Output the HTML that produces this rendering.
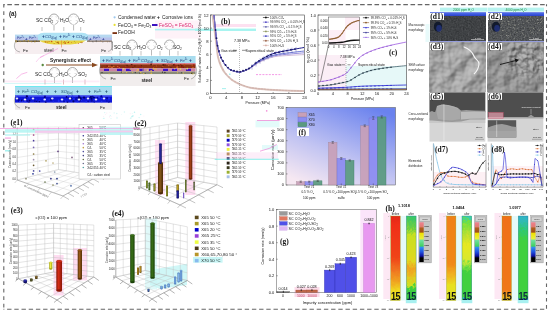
<!DOCTYPE html>
<html><head><meta charset="utf-8"><style>
html,body{margin:0;padding:0;background:#fff;}
body{width:550px;height:313px;overflow:hidden;font-family:"Liberation Sans",sans-serif;}
svg{display:block;filter:blur(0.4px);}
</style></head><body>
<svg width="550" height="313" viewBox="0 0 550 313">
<rect x="0" y="0" width="550" height="313" fill="#fff"/>
<defs><linearGradient id="dbar" x1="0" y1="0" x2="0" y2="1"><stop offset="0" stop-color="#5070f0"/><stop offset="1" stop-color="#2840c8"/></linearGradient><radialGradient id="d4m" cx="0.75" cy="0.3" r="0.6"><stop offset="0" stop-color="#fff" stop-opacity="1"/><stop offset="0.6" stop-color="#fff" stop-opacity="0.7"/><stop offset="1" stop-color="#fff" stop-opacity="0"/></radialGradient><mask id="d4mask"><rect x="487.6" y="42.6" width="55.7" height="48.6" fill="url(#d4m)"/></mask><linearGradient id="cg1" x1="0" x2="1" y1="0" y2="0"><stop offset="0" stop-color="#602008"/><stop offset="0.4" stop-color="#a84418"/><stop offset="1" stop-color="#602008"/></linearGradient><linearGradient id="cg2" x1="0" x2="1" y1="0" y2="0"><stop offset="0" stop-color="#4a2a08"/><stop offset="0.4" stop-color="#8a5a1a"/><stop offset="1" stop-color="#4a2a08"/></linearGradient><linearGradient id="cg3" x1="0" x2="1" y1="0" y2="0"><stop offset="0" stop-color="#10105a"/><stop offset="0.4" stop-color="#2a2aa0"/><stop offset="1" stop-color="#10105a"/></linearGradient><linearGradient id="cg4" x1="0" x2="1" y1="0" y2="0"><stop offset="0" stop-color="#4a5a10"/><stop offset="0.4" stop-color="#8a9a30"/><stop offset="1" stop-color="#4a5a10"/></linearGradient><linearGradient id="cg5" x1="0" x2="1" y1="0" y2="0"><stop offset="0" stop-color="#2a4a10"/><stop offset="0.4" stop-color="#5a7a30"/><stop offset="1" stop-color="#2a4a10"/></linearGradient><linearGradient id="cg6" x1="0" x2="1" y1="0" y2="0"><stop offset="0" stop-color="#5a5a10"/><stop offset="0.4" stop-color="#a0a030"/><stop offset="1" stop-color="#5a5a10"/></linearGradient><linearGradient id="cg7" x1="0" x2="1" y1="0" y2="0"><stop offset="0" stop-color="#5a5a10"/><stop offset="0.4" stop-color="#a0a030"/><stop offset="1" stop-color="#5a5a10"/></linearGradient><linearGradient id="cg8" x1="0" x2="1" y1="0" y2="0"><stop offset="0" stop-color="#6a5a10"/><stop offset="0.4" stop-color="#c0a020"/><stop offset="1" stop-color="#6a5a10"/></linearGradient><linearGradient id="cg9" x1="0" x2="1" y1="0" y2="0"><stop offset="0" stop-color="#101060"/><stop offset="0.4" stop-color="#2020a0"/><stop offset="1" stop-color="#101060"/></linearGradient><linearGradient id="cg10" x1="0" x2="1" y1="0" y2="0"><stop offset="0" stop-color="#3a4a10"/><stop offset="0.4" stop-color="#6a7a30"/><stop offset="1" stop-color="#3a4a10"/></linearGradient><linearGradient id="cg11" x1="0" x2="1" y1="0" y2="0"><stop offset="0" stop-color="#2a3a10"/><stop offset="0.4" stop-color="#4a6a20"/><stop offset="1" stop-color="#2a3a10"/></linearGradient><linearGradient id="cg12" x1="0" x2="1" y1="0" y2="0"><stop offset="0" stop-color="#5040a0"/><stop offset="0.4" stop-color="#8060d0"/><stop offset="1" stop-color="#5040a0"/></linearGradient><linearGradient id="cg13" x1="0" x2="1" y1="0" y2="0"><stop offset="0" stop-color="#8a1808"/><stop offset="0.4" stop-color="#d42a14"/><stop offset="1" stop-color="#8a1808"/></linearGradient><linearGradient id="cg14" x1="0" x2="1" y1="0" y2="0"><stop offset="0" stop-color="#553008"/><stop offset="0.4" stop-color="#9a5a18"/><stop offset="1" stop-color="#553008"/></linearGradient><linearGradient id="cg15" x1="0" x2="1" y1="0" y2="0"><stop offset="0" stop-color="#a0a010"/><stop offset="0.4" stop-color="#f0f040"/><stop offset="1" stop-color="#a0a010"/></linearGradient><linearGradient id="cg16" x1="0" x2="1" y1="0" y2="0"><stop offset="0" stop-color="#101060"/><stop offset="0.4" stop-color="#2a2ab0"/><stop offset="1" stop-color="#101060"/></linearGradient><linearGradient id="cg17" x1="0" x2="1" y1="0" y2="0"><stop offset="0" stop-color="#3a3a10"/><stop offset="0.4" stop-color="#6a6a40"/><stop offset="1" stop-color="#3a3a10"/></linearGradient><linearGradient id="cg18" x1="0" x2="1" y1="0" y2="0"><stop offset="0" stop-color="#4a3a10"/><stop offset="0.4" stop-color="#8a6a30"/><stop offset="1" stop-color="#4a3a10"/></linearGradient><linearGradient id="cg19" x1="0" x2="1" y1="0" y2="0"><stop offset="0" stop-color="#1a4008"/><stop offset="0.4" stop-color="#3a7218"/><stop offset="1" stop-color="#1a4008"/></linearGradient><linearGradient id="cg20" x1="0" x2="1" y1="0" y2="0"><stop offset="0" stop-color="#1a4008"/><stop offset="0.4" stop-color="#3a7218"/><stop offset="1" stop-color="#1a4008"/></linearGradient><linearGradient id="cg21" x1="0" x2="1" y1="0" y2="0"><stop offset="0" stop-color="#6a5010"/><stop offset="0.4" stop-color="#c09020"/><stop offset="1" stop-color="#6a5010"/></linearGradient><linearGradient id="cg22" x1="0" x2="1" y1="0" y2="0"><stop offset="0" stop-color="#6a5010"/><stop offset="0.4" stop-color="#c09020"/><stop offset="1" stop-color="#6a5010"/></linearGradient><linearGradient id="cg23" x1="0" x2="1" y1="0" y2="0"><stop offset="0" stop-color="#4070b0"/><stop offset="0.4" stop-color="#88b8f0"/><stop offset="1" stop-color="#4070b0"/></linearGradient><linearGradient id="cg24" x1="0" x2="1" y1="0" y2="0"><stop offset="0" stop-color="#4070b0"/><stop offset="0.4" stop-color="#88b8f0"/><stop offset="1" stop-color="#4070b0"/></linearGradient><linearGradient id="cg25" x1="0" x2="1" y1="0" y2="0"><stop offset="0" stop-color="#4070b0"/><stop offset="0.4" stop-color="#88b8f0"/><stop offset="1" stop-color="#4070b0"/></linearGradient><linearGradient id="cg26" x1="0" x2="1" y1="0" y2="0"><stop offset="0" stop-color="#4070b0"/><stop offset="0.4" stop-color="#88b8f0"/><stop offset="1" stop-color="#4070b0"/></linearGradient><linearGradient id="cg27" x1="0" x2="1" y1="0" y2="0"><stop offset="0" stop-color="#4070b0"/><stop offset="0.4" stop-color="#88b8f0"/><stop offset="1" stop-color="#4070b0"/></linearGradient><linearGradient id="cg28" x1="0" x2="1" y1="0" y2="0"><stop offset="0" stop-color="#4070b0"/><stop offset="0.4" stop-color="#88b8f0"/><stop offset="1" stop-color="#4070b0"/></linearGradient><linearGradient id="cg29" x1="0" x2="1" y1="0" y2="0"><stop offset="0" stop-color="#203060"/><stop offset="0.4" stop-color="#4070c0"/><stop offset="1" stop-color="#203060"/></linearGradient><linearGradient id="fbg" x1="0.2" y1="1" x2="0.8" y2="0"><stop offset="0" stop-color="#f6e8f2"/><stop offset="0.4" stop-color="#c2c4f2"/><stop offset="1" stop-color="#6a82ee"/></linearGradient><filter id="wig" x="-10%" y="-2%" width="120%" height="104%" color-interpolation-filters="sRGB"><feTurbulence type="fractalNoise" baseFrequency="0.25" numOctaves="2" seed="4" result="n"/><feDisplacementMap in="SourceGraphic" in2="n" scale="5" xChannelSelector="R" yChannelSelector="G"/></filter><filter id="wig2" x="0" y="0" width="100%" height="100%" color-interpolation-filters="sRGB"><feTurbulence type="turbulence" baseFrequency="0.3" numOctaves="2" seed="9" result="n"/><feDisplacementMap in="SourceGraphic" in2="n" scale="10" xChannelSelector="R" yChannelSelector="G"/></filter><clipPath id="hc1"><rect x="390.8" y="216" width="9.4" height="84.5"/></clipPath><linearGradient id="hb0" x1="0" y1="0" x2="0" y2="1"><stop offset="0" stop-color="#e02818"/><stop offset="0.15" stop-color="#f03018"/><stop offset="0.5" stop-color="#f04418"/><stop offset="0.62" stop-color="#f07020"/><stop offset="0.75" stop-color="#f0a020"/><stop offset="0.85" stop-color="#f0d820"/><stop offset="1" stop-color="#e8e828"/></linearGradient><linearGradient id="ha0" x1="0" y1="0" x2="0" y2="1"><stop offset="0" stop-color="#20c0a0"/><stop offset="0.08" stop-color="#40c860"/><stop offset="0.18" stop-color="#70d040"/><stop offset="0.25" stop-color="#c8e020"/><stop offset="0.5" stop-color="#e0d820"/><stop offset="0.58" stop-color="#f0a020"/><stop offset="0.66" stop-color="#e8c020"/><stop offset="0.74" stop-color="#d0e020"/><stop offset="0.78" stop-color="#40d040"/><stop offset="1" stop-color="#30c040"/></linearGradient><clipPath id="hcb0"><rect x="390.8" y="216" width="9.4" height="84.5"/></clipPath><clipPath id="hca0"><rect x="406.3" y="216" width="9.8" height="84.5"/></clipPath><linearGradient id="hcbar0" x1="0" y1="0" x2="0" y2="1"><stop offset="0" stop-color="#f08090"/><stop offset="0.12" stop-color="#e07a70"/><stop offset="0.14" stop-color="#b06020"/><stop offset="0.25" stop-color="#a05018"/><stop offset="0.27" stop-color="#f0e000"/><stop offset="0.42" stop-color="#e8f040"/><stop offset="0.45" stop-color="#70e0a0"/><stop offset="0.6" stop-color="#40d060"/><stop offset="0.63" stop-color="#3090f0"/><stop offset="0.75" stop-color="#2050e0"/><stop offset="0.85" stop-color="#1010a0"/><stop offset="0.9" stop-color="#000"/><stop offset="1" stop-color="#000"/></linearGradient><linearGradient id="hb1" x1="0" y1="0" x2="0" y2="1"><stop offset="0" stop-color="#f08018"/><stop offset="0.55" stop-color="#f08818"/><stop offset="0.68" stop-color="#f0b020"/><stop offset="0.8" stop-color="#e8e020"/><stop offset="1" stop-color="#d8e828"/></linearGradient><linearGradient id="ha1" x1="0" y1="0" x2="0" y2="1"><stop offset="0" stop-color="#30c8e0"/><stop offset="0.07" stop-color="#40d0a0"/><stop offset="0.12" stop-color="#70e040"/><stop offset="0.25" stop-color="#c0e030"/><stop offset="0.35" stop-color="#e8e820"/><stop offset="0.5" stop-color="#d8e830"/><stop offset="0.55" stop-color="#80e040"/><stop offset="0.62" stop-color="#40d040"/><stop offset="0.88" stop-color="#40d040"/><stop offset="0.9" stop-color="#30b0e0"/><stop offset="1" stop-color="#3090e0"/></linearGradient><clipPath id="hcb1"><rect x="446.5" y="216" width="9.4" height="84.5"/></clipPath><clipPath id="hca1"><rect x="462.0" y="216" width="9.8" height="84.5"/></clipPath><linearGradient id="hcbar1" x1="0" y1="0" x2="0" y2="1"><stop offset="0" stop-color="#f08090"/><stop offset="0.12" stop-color="#e07a70"/><stop offset="0.14" stop-color="#b06020"/><stop offset="0.25" stop-color="#a05018"/><stop offset="0.27" stop-color="#f0e000"/><stop offset="0.42" stop-color="#e8f040"/><stop offset="0.45" stop-color="#70e0a0"/><stop offset="0.6" stop-color="#40d060"/><stop offset="0.63" stop-color="#3090f0"/><stop offset="0.75" stop-color="#2050e0"/><stop offset="0.85" stop-color="#1010a0"/><stop offset="0.9" stop-color="#000"/><stop offset="1" stop-color="#000"/></linearGradient><linearGradient id="hb2" x1="0" y1="0" x2="0" y2="1"><stop offset="0" stop-color="#f07018"/><stop offset="0.85" stop-color="#f07818"/><stop offset="0.9" stop-color="#f0a020"/><stop offset="1" stop-color="#e8d820"/></linearGradient><linearGradient id="ha2" x1="0" y1="0" x2="0" y2="1"><stop offset="0" stop-color="#3090e0"/><stop offset="0.08" stop-color="#30b8c0"/><stop offset="0.2" stop-color="#30c870"/><stop offset="0.3" stop-color="#40d040"/><stop offset="0.88" stop-color="#40d040"/><stop offset="0.9" stop-color="#3080e0"/><stop offset="1" stop-color="#2060d0"/></linearGradient><clipPath id="hcb2"><rect x="502.0" y="216" width="9.4" height="84.5"/></clipPath><clipPath id="hca2"><rect x="518.2" y="216" width="9.8" height="84.5"/></clipPath><linearGradient id="hcbar2" x1="0" y1="0" x2="0" y2="1"><stop offset="0" stop-color="#f08090"/><stop offset="0.12" stop-color="#e07a70"/><stop offset="0.14" stop-color="#b06020"/><stop offset="0.25" stop-color="#a05018"/><stop offset="0.27" stop-color="#f0e000"/><stop offset="0.42" stop-color="#e8f040"/><stop offset="0.45" stop-color="#70e0a0"/><stop offset="0.6" stop-color="#40d060"/><stop offset="0.63" stop-color="#3090f0"/><stop offset="0.75" stop-color="#2050e0"/><stop offset="0.85" stop-color="#1010a0"/><stop offset="0.9" stop-color="#000"/><stop offset="1" stop-color="#000"/></linearGradient></defs>
<line x1="3.5" y1="4.6" x2="546.6" y2="4.6" stroke="#666" stroke-width="1.1" stroke-dasharray="4.6 2.6" stroke-dashoffset="3.4"/>
<line x1="3.5" y1="309.3" x2="546.6" y2="309.3" stroke="#666" stroke-width="1.1" stroke-dasharray="4.4 2.8" stroke-dashoffset="3.6"/>
<line x1="3.8" y1="4.2" x2="3.8" y2="309.5" stroke="#666" stroke-width="1.1" stroke-dasharray="3.8 3.7" stroke-dashoffset="0.4"/>
<line x1="546.5" y1="4.2" x2="546.5" y2="309.5" stroke="#666" stroke-width="1.1" stroke-dasharray="3.6 3.6" stroke-dashoffset="1.5"/>
<text x="9" y="16" font-size="6.3" fill="#222" text-anchor="start" font-weight="bold" font-family="Liberation Sans" >(a)</text>
<rect x="155" y="20.5" width="45" height="18" fill="#fef2f8" />
<rect x="155" y="28.8" width="43" height="1.6" fill="#aef2f2" />
<circle cx="114.6" cy="17.3" r="1.1" fill="#9cc8ee"/>
<text x="118" y="18.9" font-size="4.85" fill="#1a1a1a" text-anchor="start" font-weight="normal" font-family="Liberation Sans" >Condensed water</text>
<text x="156.8" y="19.3" font-size="5.5" fill="#222" text-anchor="start" font-weight="bold" font-family="Liberation Sans" >+</text>
<text x="162" y="18.9" font-size="4.85" fill="#1a1a1a" text-anchor="start" font-weight="normal" font-family="Liberation Sans" >Corrosive ions</text>
<circle cx="114.6" cy="24.9" r="1.1" fill="#e8e030"/>
<text x="118" y="26.6" font-size="4.85" fill="#1a1a1a" text-anchor="start" font-weight="normal" font-family="Liberation Sans" >FeCO<tspan font-size='3.2' dy='1'>3</tspan><tspan dy='-1'> = Fe</tspan><tspan font-size='3.2' dy='1'>2</tspan><tspan dy='-1'>O</tspan><tspan font-size='3.2' dy='1'>3</tspan></text>
<rect x="152" y="24" width="5.5" height="2" fill="#3a10c0" />
<text x="159" y="26.6" font-size="4.85" fill="#d8206a" text-anchor="start" font-weight="normal" font-family="Liberation Sans" >FeSO<tspan font-size='3.2' dy='1'>3</tspan><tspan dy='-1'> = FeSO</tspan><tspan font-size='3.2' dy='1'>4</tspan></text>
<rect x="112.5" y="32.2" width="4.5" height="1.8" fill="#7a3010" />
<text x="118" y="34.4" font-size="4.85" fill="#1a1a1a" text-anchor="start" font-weight="normal" font-family="Liberation Sans" >FeOOH</text>
<rect x="15" y="42" width="97" height="12" fill="#f6eef0" />
<rect x="15" y="34.6" width="97" height="6" fill="#b6d8f0" />
<rect x="15" y="37.5" width="25" height="3.1" fill="#b8bce8" opacity="0.8"/>
<rect x="87" y="37.5" width="25" height="3.1" fill="#b8bce8" opacity="0.8"/>
<path d="M38 40.6 L38 35 Q40 32.7 44 32.7 L82 32.7 Q86 32.7 88 35 L88 40.6 Z" fill="#aee2f4"/>
<text x="17" y="39.2" font-size="3.6" fill="#283890" text-anchor="start" font-weight="normal" font-family="Liberation Sans" font-style="italic">Fe<tspan font-size='2.6' dy='-1.5'>2+</tspan></text>
<text x="25" y="39.5" font-size="4.4" fill="#283890" text-anchor="start" font-weight="bold" font-family="Liberation Sans" >+</text>
<text x="29" y="39.2" font-size="3.6" fill="#283890" text-anchor="start" font-weight="normal" font-family="Liberation Sans" font-style="italic">Fe<tspan font-size='2.6' dy='-1.5'>2+</tspan></text>
<text x="42" y="38.099999999999994" font-size="4.8" fill="#1a3a7a" text-anchor="start" font-weight="bold" font-family="Liberation Sans" >+</text>
<text x="45" y="37.8" font-size="4.0" fill="#1a3a7a" text-anchor="start" font-weight="normal" font-family="Liberation Sans" font-style="italic">CO<tspan font-size='2.6' dy='1'>3(aq)</tspan></text>
<text x="59" y="38.099999999999994" font-size="4.8" fill="#1a3a7a" text-anchor="start" font-weight="bold" font-family="Liberation Sans" >+</text>
<text x="63" y="37.8" font-size="4.0" fill="#1a3a7a" text-anchor="start" font-weight="normal" font-family="Liberation Sans" font-style="italic">Fe<tspan font-size='2.6' dy='-1.5'>2+</tspan></text>
<text x="72" y="38.099999999999994" font-size="4.8" fill="#1a3a7a" text-anchor="start" font-weight="bold" font-family="Liberation Sans" >+</text>
<text x="76" y="37.8" font-size="4.0" fill="#1a3a7a" text-anchor="start" font-weight="normal" font-family="Liberation Sans" font-style="italic">CO<tspan font-size='2.6' dy='1'>3(aq)</tspan></text>
<text x="89" y="39.5" font-size="4.4" fill="#283890" text-anchor="start" font-weight="bold" font-family="Liberation Sans" >+</text>
<text x="93" y="39.2" font-size="3.6" fill="#283890" text-anchor="start" font-weight="normal" font-family="Liberation Sans" font-style="italic">Fe<tspan font-size='2.6' dy='-1.5'>2+</tspan></text>
<text x="102" y="39.5" font-size="4.4" fill="#283890" text-anchor="start" font-weight="bold" font-family="Liberation Sans" >+</text>
<rect x="15" y="40.4" width="25" height="1.6" fill="#7a6a50" />
<rect x="87" y="40.4" width="25" height="1.6" fill="#9a8a80" />
<circle cx="34.8" cy="41.7" r="0.53" fill="#8a6a20"/><circle cx="15.9" cy="40.7" r="0.44" fill="#c0a040"/><circle cx="34.0" cy="41.1" r="0.38" fill="#222"/><circle cx="35.0" cy="41.6" r="0.57" fill="#8a6a20"/><circle cx="28.5" cy="40.6" r="0.47" fill="#c0a040"/><circle cx="35.1" cy="40.9" r="0.51" fill="#c0a040"/><circle cx="36.1" cy="41.0" r="0.41" fill="#222"/><circle cx="25.2" cy="40.9" r="0.33" fill="#c0a040"/><circle cx="19.9" cy="41.5" r="0.33" fill="#8a6a20"/><circle cx="16.1" cy="41.9" r="0.57" fill="#c0a040"/><circle cx="27.2" cy="41.7" r="0.45" fill="#222"/><circle cx="31.1" cy="41.5" r="0.59" fill="#c0a040"/><circle cx="15.7" cy="41.0" r="0.43" fill="#c0a040"/><circle cx="23.9" cy="40.7" r="0.56" fill="#c0a040"/><circle cx="28.1" cy="40.7" r="0.38" fill="#c0a040"/><circle cx="33.0" cy="41.1" r="0.34" fill="#222"/><circle cx="20.2" cy="41.8" r="0.46" fill="#c0a040"/><circle cx="19.7" cy="40.8" r="0.40" fill="#c0a040"/><circle cx="37.6" cy="41.4" r="0.41" fill="#8a6a20"/><circle cx="28.2" cy="40.9" r="0.60" fill="#c0a040"/><circle cx="16.3" cy="41.1" r="0.60" fill="#c0a040"/><circle cx="17.4" cy="41.2" r="0.57" fill="#222"/><circle cx="31.8" cy="41.8" r="0.54" fill="#8a6a20"/><circle cx="24.5" cy="40.6" r="0.44" fill="#8a6a20"/>
<path d="M38.6 40.4 L86.3 40.4 Q80 44.6 62 44.6 Q45 44.6 38.6 40.4 Z" fill="#e8d440"/>
<circle cx="55.6" cy="41.2" r="0.33" fill="#c06a10"/><circle cx="64.5" cy="41.8" r="0.66" fill="#c06a10"/><circle cx="51.0" cy="41.0" r="0.33" fill="#d04010"/><circle cx="45.8" cy="42.0" r="0.68" fill="#c06a10"/><circle cx="68.5" cy="42.4" r="0.53" fill="#c06a10"/><circle cx="58.7" cy="43.5" r="0.52" fill="#c06a10"/><circle cx="47.6" cy="42.0" r="0.53" fill="#c06a10"/><circle cx="65.5" cy="42.7" r="0.53" fill="#c06a10"/><circle cx="68.8" cy="41.8" r="0.53" fill="#c06a10"/><circle cx="68.0" cy="42.2" r="0.61" fill="#d04010"/><circle cx="61.6" cy="43.4" r="0.42" fill="#f0f060"/><circle cx="75.4" cy="42.8" r="0.33" fill="#a08010"/><circle cx="54.6" cy="42.2" r="0.59" fill="#f0f060"/><circle cx="54.1" cy="43.5" r="0.50" fill="#c06a10"/><circle cx="48.9" cy="41.8" r="0.47" fill="#d04010"/><circle cx="82.4" cy="41.0" r="0.44" fill="#f0f060"/><circle cx="56.7" cy="42.2" r="0.33" fill="#d04010"/><circle cx="45.9" cy="41.6" r="0.32" fill="#c06a10"/><circle cx="71.5" cy="42.6" r="0.41" fill="#d04010"/><circle cx="58.2" cy="42.7" r="0.68" fill="#c06a10"/><circle cx="56.9" cy="42.5" r="0.32" fill="#d04010"/><circle cx="74.3" cy="41.2" r="0.46" fill="#a08010"/><circle cx="80.5" cy="42.2" r="0.48" fill="#a08010"/><circle cx="65.1" cy="43.3" r="0.65" fill="#d04010"/><circle cx="53.7" cy="42.0" r="0.57" fill="#f0f060"/><circle cx="58.0" cy="41.4" r="0.37" fill="#c06a10"/><circle cx="51.7" cy="41.5" r="0.63" fill="#d04010"/><circle cx="49.7" cy="41.6" r="0.47" fill="#a08010"/><circle cx="57.5" cy="42.4" r="0.58" fill="#a08010"/><circle cx="63.7" cy="42.5" r="0.48" fill="#c06a10"/><circle cx="78.6" cy="43.5" r="0.46" fill="#d04010"/><circle cx="58.6" cy="42.1" r="0.32" fill="#d04010"/><circle cx="44.8" cy="41.4" r="0.34" fill="#a08010"/><circle cx="67.2" cy="41.1" r="0.51" fill="#a08010"/><circle cx="81.9" cy="42.5" r="0.65" fill="#c06a10"/><circle cx="67.8" cy="41.2" r="0.68" fill="#f0f060"/>
<circle cx="93.2" cy="41.9" r="0.36" fill="#555"/><circle cx="89.0" cy="40.7" r="0.42" fill="#555"/><circle cx="88.7" cy="41.2" r="0.45" fill="#b08a60"/><circle cx="92.4" cy="41.7" r="0.45" fill="#555"/><circle cx="105.5" cy="41.6" r="0.44" fill="#b08a60"/><circle cx="109.0" cy="41.6" r="0.33" fill="#b08a60"/><circle cx="106.7" cy="41.1" r="0.33" fill="#b08a60"/><circle cx="89.3" cy="40.9" r="0.45" fill="#555"/><circle cx="102.9" cy="41.9" r="0.48" fill="#555"/><circle cx="100.4" cy="40.6" r="0.34" fill="#555"/><circle cx="107.8" cy="41.2" r="0.39" fill="#b08a60"/><circle cx="96.2" cy="41.8" r="0.35" fill="#555"/><circle cx="101.8" cy="41.3" r="0.51" fill="#b08a60"/><circle cx="109.8" cy="41.8" r="0.39" fill="#555"/><circle cx="96.2" cy="40.9" r="0.54" fill="#555"/><circle cx="107.7" cy="41.9" r="0.40" fill="#555"/>
<line x1="61.5" y1="40.5" x2="61.5" y2="47.5" stroke="#e07030" stroke-width="0.5" />
<path d="M16 41 C13 45, 14 51, 20 52" stroke="#777" stroke-width="0.5" fill="none"/>
<path d="M111 41 C114 45, 113 50, 108 51.5" stroke="#777" stroke-width="0.5" fill="none"/>
<text x="36" y="21.8" font-size="4.9" fill="#1a1a1a" text-anchor="start" font-weight="normal" font-family="Liberation Sans" >SC CO<tspan font-size='3.2' dy='1'>2</tspan></text>
<text x="60" y="21.8" font-size="4.9" fill="#1a1a1a" text-anchor="start" font-weight="normal" font-family="Liberation Sans" >H<tspan font-size='3.2' dy='1'>2</tspan><tspan dy='-1'>O</tspan></text>
<text x="79" y="21.8" font-size="4.9" fill="#1a1a1a" text-anchor="start" font-weight="normal" font-family="Liberation Sans" >O<tspan font-size='3.2' dy='1'>2</tspan></text>
<path d="M49.0 19.5 A5.0 5.5 0 0 1 59.0 19.5" stroke="#8c8c8c" stroke-width="0.75" fill="none"/>
<path d="M49.6 20.8 A5.0 5.5 0 0 0 53.0 24.5 M55.0 24.5 A5.0 5.5 0 0 0 58.4 20.8" stroke="#8c8c8c" stroke-width="0.6" fill="none"/>
<path d="M50.7 16.4 L51.5 17.3 L52.3 16.4" stroke="#aaa" stroke-width="0.4" fill="none"/>
<path d="M55.7 16.4 L56.5 17.3 L57.3 16.4" stroke="#aaa" stroke-width="0.4" fill="none"/>
<path d="M50.2 20.1 L51.0 21.0 L51.8 20.1" stroke="#aaa" stroke-width="0.4" fill="none"/>
<path d="M56.2 20.1 L57.0 21.0 L57.8 20.1" stroke="#aaa" stroke-width="0.4" fill="none"/>
<path d="M54 24.5 L54 30.5" stroke="#8c8c8c" stroke-width="0.6" fill="none"/>
<path d="M68.3 19.5 A5.2 5.5 0 0 1 78.8 19.5" stroke="#8c8c8c" stroke-width="0.75" fill="none"/>
<path d="M68.9 20.8 A5.2 5.5 0 0 0 72.6 24.5 M74.6 24.5 A5.2 5.5 0 0 0 78.2 20.8" stroke="#8c8c8c" stroke-width="0.6" fill="none"/>
<path d="M70.3 16.4 L71.1 17.3 L71.9 16.4" stroke="#aaa" stroke-width="0.4" fill="none"/>
<path d="M75.3 16.4 L76.1 17.3 L76.9 16.4" stroke="#aaa" stroke-width="0.4" fill="none"/>
<path d="M69.8 20.1 L70.6 21.0 L71.4 20.1" stroke="#aaa" stroke-width="0.4" fill="none"/>
<path d="M75.8 20.1 L76.6 21.0 L77.4 20.1" stroke="#aaa" stroke-width="0.4" fill="none"/>
<path d="M73.6 24.5 L73.6 30.5" stroke="#8c8c8c" stroke-width="0.6" fill="none"/>
<line x1="42" y1="27" x2="42" y2="31" stroke="#aaa" stroke-width="0.7" />
<line x1="63.8" y1="27" x2="63.8" y2="31" stroke="#aaa" stroke-width="0.7" />
<line x1="80.7" y1="27" x2="80.7" y2="31" stroke="#aaa" stroke-width="0.7" />
<text x="23" y="52.4" font-size="4.4" fill="#1a1a1a" text-anchor="start" font-weight="normal" font-family="Liberation Sans" >Fe</text>
<text x="44" y="52.4" font-size="4.5" fill="#222" text-anchor="start" font-weight="normal" font-family="Liberation Sans" >steel</text>
<text x="61.5" y="52.4" font-size="4.4" fill="#1a1a1a" text-anchor="start" font-weight="normal" font-family="Liberation Sans" >Fe</text>
<text x="101.2" y="52.4" font-size="4.4" fill="#1a1a1a" text-anchor="start" font-weight="normal" font-family="Liberation Sans" >Fe</text>
<rect x="100" y="56" width="95.6" height="7.8" fill="#a8dcee" />
<text x="102" y="62.099999999999994" font-size="4.8" fill="#1a3a7a" text-anchor="start" font-weight="bold" font-family="Liberation Sans" >+</text>
<text x="106" y="61.8" font-size="4.0" fill="#1a3a7a" text-anchor="start" font-weight="normal" font-family="Liberation Sans" font-style="italic">Fe<tspan font-size='2.6' dy='-1.5'>2+</tspan></text>
<text x="114" y="61.8" font-size="4.0" fill="#1a3a7a" text-anchor="start" font-weight="normal" font-family="Liberation Sans" font-style="italic">CO<tspan font-size='2.6' dy='1'>3(aq)</tspan></text>
<text x="128" y="62.099999999999994" font-size="4.8" fill="#1a3a7a" text-anchor="start" font-weight="bold" font-family="Liberation Sans" >+</text>
<text x="133" y="61.8" font-size="4.0" fill="#1a3a7a" text-anchor="start" font-weight="normal" font-family="Liberation Sans" font-style="italic">Fe<tspan font-size='2.6' dy='-1.5'>2+</tspan></text>
<text x="141" y="61.8" font-size="4.0" fill="#1a3a7a" text-anchor="start" font-weight="normal" font-family="Liberation Sans" font-style="italic">CO<tspan font-size='2.6' dy='1'>3(aq)</tspan></text>
<text x="156" y="62.099999999999994" font-size="4.8" fill="#1a3a7a" text-anchor="start" font-weight="bold" font-family="Liberation Sans" >+</text>
<text x="161" y="61.8" font-size="4.0" fill="#1a3a7a" text-anchor="start" font-weight="normal" font-family="Liberation Sans" font-style="italic">SO<tspan font-size='2.6' dy='1'>3(aq)</tspan></text>
<text x="175" y="62.099999999999994" font-size="4.8" fill="#1a3a7a" text-anchor="start" font-weight="bold" font-family="Liberation Sans" >+</text>
<text x="180" y="61.8" font-size="4.0" fill="#1a3a7a" text-anchor="start" font-weight="normal" font-family="Liberation Sans" font-style="italic">Fe<tspan font-size='2.6' dy='-1.5'>2+</tspan></text>
<text x="189" y="62.099999999999994" font-size="4.8" fill="#1a3a7a" text-anchor="start" font-weight="bold" font-family="Liberation Sans" >+</text>
<rect x="100" y="63.4" width="95.6" height="1.0" fill="#f04050" />
<rect x="100" y="64.3" width="95.6" height="4.0" fill="#8a3412" />
<circle cx="154.7" cy="66.0" r="0.50" fill="#c05018"/><circle cx="177.5" cy="67.4" r="0.42" fill="#5a1a08"/><circle cx="147.1" cy="64.8" r="0.42" fill="#e07030"/><circle cx="181.9" cy="66.6" r="0.61" fill="#a02010"/><circle cx="178.7" cy="65.4" r="0.74" fill="#5a1a08"/><circle cx="163.2" cy="65.0" r="0.88" fill="#5a1a08"/><circle cx="158.7" cy="64.7" r="0.52" fill="#c05018"/><circle cx="119.3" cy="67.7" r="0.79" fill="#e07030"/><circle cx="123.6" cy="66.8" r="0.62" fill="#a02010"/><circle cx="107.1" cy="66.5" r="0.82" fill="#5a1a08"/><circle cx="192.2" cy="65.3" r="0.65" fill="#c05018"/><circle cx="177.9" cy="66.8" r="0.47" fill="#c05018"/><circle cx="154.3" cy="65.8" r="0.46" fill="#5a1a08"/><circle cx="173.9" cy="64.8" r="0.89" fill="#5a1a08"/><circle cx="118.9" cy="65.7" r="0.62" fill="#a02010"/><circle cx="165.0" cy="65.0" r="0.83" fill="#5a1a08"/><circle cx="126.1" cy="65.6" r="0.79" fill="#5a1a08"/><circle cx="146.1" cy="65.7" r="0.51" fill="#a02010"/><circle cx="152.2" cy="64.7" r="0.52" fill="#e07030"/><circle cx="125.6" cy="65.9" r="0.60" fill="#5a1a08"/><circle cx="182.7" cy="66.9" r="0.77" fill="#5a1a08"/><circle cx="194.3" cy="65.5" r="0.70" fill="#a02010"/><circle cx="106.9" cy="66.2" r="0.85" fill="#a02010"/><circle cx="113.8" cy="66.4" r="0.67" fill="#e07030"/><circle cx="147.1" cy="65.1" r="0.45" fill="#a02010"/><circle cx="192.6" cy="67.4" r="0.62" fill="#c05018"/><circle cx="107.1" cy="65.7" r="0.45" fill="#5a1a08"/><circle cx="143.7" cy="68.0" r="0.47" fill="#a02010"/><circle cx="182.0" cy="67.2" r="0.57" fill="#a02010"/><circle cx="125.4" cy="67.3" r="0.61" fill="#a02010"/><circle cx="162.1" cy="67.7" r="0.77" fill="#5a1a08"/><circle cx="131.4" cy="64.6" r="0.72" fill="#5a1a08"/><circle cx="156.3" cy="67.4" r="0.41" fill="#a02010"/><circle cx="111.9" cy="65.5" r="0.76" fill="#5a1a08"/><circle cx="184.5" cy="64.7" r="0.89" fill="#c05018"/><circle cx="127.8" cy="66.8" r="0.58" fill="#5a1a08"/><circle cx="138.7" cy="67.3" r="0.49" fill="#e07030"/><circle cx="156.6" cy="66.0" r="0.74" fill="#c05018"/><circle cx="130.0" cy="67.9" r="0.62" fill="#a02010"/><circle cx="170.9" cy="65.2" r="0.46" fill="#e07030"/><circle cx="174.6" cy="64.5" r="0.70" fill="#a02010"/><circle cx="183.2" cy="67.5" r="0.44" fill="#5a1a08"/><circle cx="140.8" cy="64.8" r="0.57" fill="#c05018"/><circle cx="134.9" cy="66.0" r="0.71" fill="#5a1a08"/><circle cx="127.6" cy="66.9" r="0.65" fill="#a02010"/><circle cx="125.8" cy="66.0" r="0.57" fill="#e07030"/><circle cx="127.0" cy="67.7" r="0.69" fill="#a02010"/><circle cx="108.9" cy="66.4" r="0.80" fill="#e07030"/><circle cx="139.1" cy="67.3" r="0.76" fill="#a02010"/><circle cx="107.2" cy="67.5" r="0.41" fill="#e07030"/><circle cx="131.8" cy="65.6" r="0.71" fill="#a02010"/><circle cx="127.5" cy="65.2" r="0.55" fill="#5a1a08"/><circle cx="153.3" cy="67.4" r="0.51" fill="#c05018"/><circle cx="171.0" cy="67.8" r="0.68" fill="#5a1a08"/><circle cx="193.5" cy="67.7" r="0.60" fill="#c05018"/><circle cx="132.9" cy="67.6" r="0.66" fill="#5a1a08"/><circle cx="177.1" cy="67.2" r="0.84" fill="#e07030"/><circle cx="162.8" cy="66.5" r="0.68" fill="#c05018"/><circle cx="181.8" cy="65.9" r="0.79" fill="#5a1a08"/><circle cx="112.0" cy="67.3" r="0.90" fill="#e07030"/><circle cx="103.9" cy="67.7" r="0.44" fill="#e07030"/><circle cx="142.3" cy="67.6" r="0.47" fill="#c05018"/><circle cx="182.4" cy="67.0" r="0.76" fill="#a02010"/><circle cx="193.7" cy="65.1" r="0.81" fill="#a02010"/><circle cx="133.3" cy="66.5" r="0.59" fill="#a02010"/><circle cx="110.1" cy="66.7" r="0.87" fill="#c05018"/><circle cx="118.6" cy="66.7" r="0.89" fill="#a02010"/><circle cx="175.6" cy="65.8" r="0.88" fill="#a02010"/><circle cx="157.9" cy="65.1" r="0.42" fill="#5a1a08"/><circle cx="117.6" cy="66.7" r="0.82" fill="#e07030"/><circle cx="129.4" cy="67.5" r="0.70" fill="#a02010"/><circle cx="141.3" cy="65.7" r="0.65" fill="#5a1a08"/><circle cx="116.8" cy="67.3" r="0.87" fill="#a02010"/><circle cx="131.9" cy="64.6" r="0.69" fill="#5a1a08"/><circle cx="140.5" cy="66.3" r="0.88" fill="#a02010"/><circle cx="138.3" cy="67.3" r="0.45" fill="#5a1a08"/><circle cx="168.8" cy="65.6" r="0.67" fill="#e07030"/><circle cx="180.8" cy="64.8" r="0.70" fill="#a02010"/><circle cx="151.1" cy="64.5" r="0.88" fill="#5a1a08"/><circle cx="137.3" cy="65.3" r="0.45" fill="#a02010"/>
<rect x="100" y="68.2" width="95.6" height="3.4" fill="#cc84a0" />
<rect x="100" y="71.5" width="95.6" height="2.8" fill="#8a8a78" />
<rect x="100" y="74.2" width="95.6" height="11.8" fill="#f1eded" />
<rect x="104" y="68.8" width="5" height="2.2" fill="#4212c8" />
<rect x="117" y="68.8" width="5" height="2.2" fill="#4212c8" />
<rect x="126" y="68.8" width="5" height="2.2" fill="#4212c8" />
<rect x="139" y="68.8" width="5" height="2.2" fill="#4212c8" />
<rect x="149" y="68.8" width="5" height="2.2" fill="#4212c8" />
<rect x="163" y="68.8" width="5" height="2.2" fill="#4212c8" />
<rect x="172" y="68.8" width="5" height="2.2" fill="#4212c8" />
<rect x="186" y="68.8" width="5" height="2.2" fill="#4212c8" />
<circle cx="143.1" cy="70.1" r="0.74" fill="#e0e060"/><circle cx="180.5" cy="69.1" r="0.79" fill="#e0e060"/><circle cx="174.7" cy="68.8" r="0.64" fill="#e0e060"/><circle cx="151.1" cy="70.9" r="0.78" fill="#f0c040"/><circle cx="137.8" cy="69.8" r="0.79" fill="#f0c040"/><circle cx="178.3" cy="68.8" r="0.66" fill="#f0c040"/><circle cx="123.5" cy="68.7" r="0.70" fill="#e0e060"/><circle cx="156.0" cy="69.1" r="0.79" fill="#f0c040"/><circle cx="147.5" cy="70.3" r="0.80" fill="#e0e060"/><circle cx="138.8" cy="70.0" r="0.81" fill="#f0c040"/><circle cx="130.3" cy="69.2" r="0.61" fill="#e0e060"/><circle cx="153.4" cy="68.9" r="0.85" fill="#f0c040"/><circle cx="136.9" cy="71.1" r="0.66" fill="#f0c040"/><circle cx="187.2" cy="68.7" r="0.89" fill="#e0e060"/>
<circle cx="145.1" cy="73.2" r="0.54" fill="#333"/><circle cx="102.0" cy="72.6" r="0.69" fill="#333"/><circle cx="143.8" cy="73.6" r="0.67" fill="#e0c040"/><circle cx="162.5" cy="72.2" r="0.61" fill="#333"/><circle cx="132.6" cy="72.3" r="0.52" fill="#e0c040"/><circle cx="164.9" cy="72.6" r="0.74" fill="#333"/><circle cx="109.1" cy="73.7" r="0.53" fill="#e0c040"/><circle cx="192.8" cy="73.8" r="0.70" fill="#e0c040"/><circle cx="191.3" cy="73.0" r="0.79" fill="#e0c040"/><circle cx="183.4" cy="73.0" r="0.62" fill="#e0c040"/><circle cx="140.0" cy="73.1" r="0.68" fill="#333"/><circle cx="151.3" cy="73.2" r="0.79" fill="#e0c040"/><circle cx="191.8" cy="73.2" r="0.78" fill="#333"/><circle cx="181.6" cy="72.7" r="0.53" fill="#333"/><circle cx="122.9" cy="72.6" r="0.51" fill="#e0c040"/><circle cx="177.5" cy="72.8" r="0.57" fill="#e0c040"/><circle cx="140.7" cy="72.7" r="0.73" fill="#e0c040"/><circle cx="121.5" cy="72.1" r="0.51" fill="#333"/><circle cx="126.7" cy="72.6" r="0.65" fill="#e0c040"/><circle cx="135.3" cy="72.6" r="0.64" fill="#333"/>
<path d="M113 42 L112 42 L112 50 L113 50" stroke="#333" stroke-width="0.5" fill="none"/>
<text x="114" y="48.6" font-size="4.9" fill="#1a1a1a" text-anchor="start" font-weight="normal" font-family="Liberation Sans" >SC CO<tspan font-size='3.2' dy='1'>2</tspan></text>
<text x="137" y="48.6" font-size="4.9" fill="#1a1a1a" text-anchor="start" font-weight="normal" font-family="Liberation Sans" >H<tspan font-size='3.2' dy='1'>2</tspan><tspan dy='-1'>O</tspan></text>
<text x="157" y="48.6" font-size="4.9" fill="#1a1a1a" text-anchor="start" font-weight="normal" font-family="Liberation Sans" >O<tspan font-size='3.2' dy='1'>2</tspan></text>
<text x="173" y="48.6" font-size="4.9" fill="#1a1a1a" text-anchor="start" font-weight="normal" font-family="Liberation Sans" >SO<tspan font-size='3.2' dy='1'>2</tspan></text>
<path d="M127.0 45.0 A5.0 5.0 0 0 1 137.0 45.0" stroke="#8c8c8c" stroke-width="0.75" fill="none"/>
<path d="M127.6 46.3 A5.0 5.0 0 0 0 131.0 49.5 M133.0 49.5 A5.0 5.0 0 0 0 136.4 46.3" stroke="#8c8c8c" stroke-width="0.6" fill="none"/>
<path d="M128.7 41.9 L129.5 42.8 L130.3 41.9" stroke="#aaa" stroke-width="0.4" fill="none"/>
<path d="M133.7 41.9 L134.5 42.8 L135.3 41.9" stroke="#aaa" stroke-width="0.4" fill="none"/>
<path d="M128.2 45.6 L129.0 46.5 L129.8 45.6" stroke="#aaa" stroke-width="0.4" fill="none"/>
<path d="M134.2 45.6 L135.0 46.5 L135.8 45.6" stroke="#aaa" stroke-width="0.4" fill="none"/>
<path d="M132 49.5 L132 55.5" stroke="#8c8c8c" stroke-width="0.6" fill="none"/>
<path d="M146.5 45.0 A5.0 5.0 0 0 1 156.5 45.0" stroke="#8c8c8c" stroke-width="0.75" fill="none"/>
<path d="M147.1 46.3 A5.0 5.0 0 0 0 150.5 49.5 M152.5 49.5 A5.0 5.0 0 0 0 155.9 46.3" stroke="#8c8c8c" stroke-width="0.6" fill="none"/>
<path d="M148.2 41.9 L149.0 42.8 L149.8 41.9" stroke="#aaa" stroke-width="0.4" fill="none"/>
<path d="M153.2 41.9 L154.0 42.8 L154.8 41.9" stroke="#aaa" stroke-width="0.4" fill="none"/>
<path d="M147.7 45.6 L148.5 46.5 L149.3 45.6" stroke="#aaa" stroke-width="0.4" fill="none"/>
<path d="M153.7 45.6 L154.5 46.5 L155.3 45.6" stroke="#aaa" stroke-width="0.4" fill="none"/>
<path d="M151.5 49.5 L151.5 55.5" stroke="#8c8c8c" stroke-width="0.6" fill="none"/>
<path d="M164.5 45.0 A5.0 5.0 0 0 1 174.5 45.0" stroke="#8c8c8c" stroke-width="0.75" fill="none"/>
<path d="M165.1 46.3 A5.0 5.0 0 0 0 168.5 49.5 M170.5 49.5 A5.0 5.0 0 0 0 173.9 46.3" stroke="#8c8c8c" stroke-width="0.6" fill="none"/>
<path d="M166.2 41.9 L167.0 42.8 L167.8 41.9" stroke="#aaa" stroke-width="0.4" fill="none"/>
<path d="M171.2 41.9 L172.0 42.8 L172.8 41.9" stroke="#aaa" stroke-width="0.4" fill="none"/>
<path d="M165.7 45.6 L166.5 46.5 L167.3 45.6" stroke="#aaa" stroke-width="0.4" fill="none"/>
<path d="M171.7 45.6 L172.5 46.5 L173.3 45.6" stroke="#aaa" stroke-width="0.4" fill="none"/>
<path d="M169.5 49.5 L169.5 55.5" stroke="#8c8c8c" stroke-width="0.6" fill="none"/>
<line x1="120" y1="51" x2="120" y2="55.5" stroke="#aaa" stroke-width="0.7" />
<line x1="141" y1="51" x2="141" y2="55.5" stroke="#aaa" stroke-width="0.7" />
<line x1="160" y1="51" x2="160" y2="55.5" stroke="#aaa" stroke-width="0.7" />
<line x1="178" y1="51" x2="178" y2="55.5" stroke="#aaa" stroke-width="0.7" />
<path d="M101 65 C98 70, 99 77, 106 79" stroke="#777" stroke-width="0.5" fill="none"/>
<path d="M195 65 C198 70, 197 77, 191 79" stroke="#777" stroke-width="0.5" fill="none"/>
<text x="110.5" y="79.8" font-size="4.4" fill="#1a1a1a" text-anchor="start" font-weight="normal" font-family="Liberation Sans" >Fe</text>
<text x="141.5" y="82.2" font-size="4.6" fill="#1a1a1a" text-anchor="start" font-weight="bold" font-family="Liberation Sans" >steel</text>
<text x="184" y="79.8" font-size="4.4" fill="#1a1a1a" text-anchor="start" font-weight="normal" font-family="Liberation Sans" >Fe</text>
<text x="50" y="62.3" font-size="4.9" fill="#1a1a1a" text-anchor="start" font-weight="bold" font-family="Liberation Sans" >Synergistic effect</text>
<line x1="46" y1="65" x2="93" y2="65" stroke="#8a4a20" stroke-width="1.0" />
<path d="M92 62.8 L98 65 L92 67.2 Z" fill="#8a4a20"/>
<circle cx="42.7" cy="65" r="1.2" fill="#5a8a40"/>
<rect x="15" y="86" width="97" height="9.6" fill="#a8dcee" />
<rect x="15" y="86" width="97" height="1" fill="#70e8f0" />
<text x="17" y="93.3" font-size="4.8" fill="#1a4a6a" text-anchor="start" font-weight="bold" font-family="Liberation Sans" >+</text>
<text x="22" y="93" font-size="4.0" fill="#1a4a6a" text-anchor="start" font-weight="normal" font-family="Liberation Sans" font-style="italic">Fe<tspan font-size='2.6' dy='-1.5'>2+</tspan></text>
<text x="31" y="93" font-size="4.0" fill="#1a4a6a" text-anchor="start" font-weight="normal" font-family="Liberation Sans" font-style="italic">CO<tspan font-size='2.6' dy='1'>3(aq)</tspan></text>
<text x="46" y="93.3" font-size="4.8" fill="#1a4a6a" text-anchor="start" font-weight="bold" font-family="Liberation Sans" >+</text>
<text x="54" y="93.3" font-size="4.8" fill="#1a4a6a" text-anchor="start" font-weight="bold" font-family="Liberation Sans" >+</text>
<text x="61" y="93" font-size="4.0" fill="#1a4a6a" text-anchor="start" font-weight="normal" font-family="Liberation Sans" font-style="italic">SO<tspan font-size='2.6' dy='1'>3(aq)</tspan></text>
<text x="76" y="93.3" font-size="4.8" fill="#1a4a6a" text-anchor="start" font-weight="bold" font-family="Liberation Sans" >+</text>
<text x="88" y="93.3" font-size="4.8" fill="#1a4a6a" text-anchor="start" font-weight="bold" font-family="Liberation Sans" >+</text>
<text x="94" y="93" font-size="4.0" fill="#1a4a6a" text-anchor="start" font-weight="normal" font-family="Liberation Sans" font-style="italic">Fe<tspan font-size='2.6' dy='-1.5'>2+</tspan></text>
<text x="105" y="93.3" font-size="4.8" fill="#1a4a6a" text-anchor="start" font-weight="bold" font-family="Liberation Sans" >+</text>
<rect x="15" y="95.5" width="97" height="7.3" fill="#1018d8" />
<rect x="15" y="95.5" width="97" height="1.4" fill="#3a48f0" />
<circle cx="26.1" cy="100.6" r="0.92" fill="#000070"/><circle cx="39.5" cy="100.8" r="1.04" fill="#2030f0"/><circle cx="78.6" cy="98.0" r="1.12" fill="#000070"/><circle cx="53.4" cy="101.9" r="0.73" fill="#2030f0"/><circle cx="101.6" cy="98.3" r="0.82" fill="#2030f0"/><circle cx="76.1" cy="99.4" r="0.93" fill="#0808a0"/><circle cx="79.1" cy="97.1" r="0.64" fill="#000070"/><circle cx="72.5" cy="96.2" r="0.72" fill="#2030f0"/><circle cx="108.9" cy="98.6" r="1.14" fill="#2030f0"/><circle cx="25.0" cy="100.2" r="0.95" fill="#0808a0"/><circle cx="76.6" cy="98.4" r="1.05" fill="#0808a0"/><circle cx="62.2" cy="100.4" r="0.87" fill="#2030f0"/><circle cx="36.7" cy="101.2" r="0.75" fill="#000070"/><circle cx="27.5" cy="102.5" r="0.77" fill="#2030f0"/><circle cx="18.7" cy="100.8" r="1.01" fill="#0808a0"/><circle cx="71.7" cy="98.8" r="0.70" fill="#000070"/><circle cx="52.7" cy="98.0" r="0.86" fill="#2030f0"/><circle cx="72.6" cy="96.6" r="0.84" fill="#2030f0"/><circle cx="58.7" cy="100.0" r="0.64" fill="#2030f0"/><circle cx="29.6" cy="100.6" r="0.86" fill="#000070"/><circle cx="94.4" cy="98.6" r="0.61" fill="#2030f0"/><circle cx="83.4" cy="98.4" r="0.76" fill="#2030f0"/><circle cx="44.7" cy="97.2" r="0.94" fill="#000070"/><circle cx="91.8" cy="96.6" r="0.62" fill="#0808a0"/><circle cx="45.7" cy="102.4" r="0.90" fill="#000070"/><circle cx="65.5" cy="101.2" r="0.67" fill="#2030f0"/><circle cx="106.9" cy="101.0" r="0.74" fill="#0808a0"/><circle cx="98.9" cy="97.7" r="0.72" fill="#0808a0"/><circle cx="80.6" cy="98.2" r="1.06" fill="#000070"/><circle cx="51.0" cy="99.6" r="1.04" fill="#000070"/><circle cx="90.8" cy="97.0" r="1.10" fill="#000070"/><circle cx="50.8" cy="98.5" r="0.93" fill="#2030f0"/><circle cx="89.5" cy="98.0" r="0.62" fill="#000070"/><circle cx="77.1" cy="98.8" r="0.65" fill="#2030f0"/><circle cx="92.7" cy="96.8" r="1.02" fill="#0808a0"/><circle cx="29.4" cy="97.7" r="0.68" fill="#2030f0"/><circle cx="101.2" cy="96.3" r="0.75" fill="#0808a0"/><circle cx="51.0" cy="98.8" r="0.87" fill="#0808a0"/><circle cx="24.6" cy="101.3" r="0.69" fill="#0808a0"/><circle cx="79.5" cy="97.4" r="1.12" fill="#000070"/><circle cx="93.9" cy="102.5" r="0.99" fill="#000070"/><circle cx="68.9" cy="96.3" r="0.88" fill="#2030f0"/><circle cx="107.1" cy="98.1" r="1.12" fill="#0808a0"/><circle cx="21.9" cy="100.4" r="0.93" fill="#000070"/><circle cx="25.2" cy="101.6" r="1.10" fill="#2030f0"/><circle cx="26.9" cy="96.3" r="1.16" fill="#000070"/><circle cx="22.5" cy="101.2" r="0.63" fill="#2030f0"/><circle cx="109.5" cy="101.8" r="0.60" fill="#0808a0"/><circle cx="58.7" cy="101.1" r="1.03" fill="#2030f0"/><circle cx="17.9" cy="96.5" r="0.75" fill="#2030f0"/><circle cx="80.7" cy="100.2" r="0.93" fill="#0808a0"/><circle cx="91.7" cy="100.7" r="1.16" fill="#0808a0"/><circle cx="101.6" cy="101.6" r="0.83" fill="#2030f0"/><circle cx="43.9" cy="100.7" r="0.62" fill="#2030f0"/><circle cx="29.0" cy="102.2" r="0.79" fill="#000070"/><circle cx="36.5" cy="99.8" r="0.62" fill="#2030f0"/><circle cx="77.4" cy="102.5" r="0.95" fill="#2030f0"/><circle cx="91.5" cy="98.7" r="1.06" fill="#000070"/><circle cx="108.7" cy="102.3" r="0.83" fill="#0808a0"/><circle cx="84.0" cy="97.6" r="1.18" fill="#000070"/><circle cx="88.2" cy="101.4" r="0.75" fill="#0808a0"/><circle cx="97.7" cy="97.6" r="0.87" fill="#0808a0"/><circle cx="78.9" cy="96.3" r="1.01" fill="#0808a0"/><circle cx="81.2" cy="100.2" r="0.88" fill="#2030f0"/><circle cx="101.4" cy="96.4" r="1.02" fill="#0808a0"/><circle cx="33.4" cy="98.4" r="0.72" fill="#000070"/><circle cx="26.2" cy="98.4" r="1.05" fill="#0808a0"/><circle cx="49.1" cy="99.2" r="0.63" fill="#2030f0"/><circle cx="73.9" cy="99.0" r="0.89" fill="#2030f0"/><circle cx="45.0" cy="96.3" r="0.91" fill="#0808a0"/><circle cx="80.8" cy="99.2" r="0.78" fill="#000070"/><circle cx="79.7" cy="100.8" r="1.08" fill="#0808a0"/><circle cx="18.3" cy="99.3" r="1.20" fill="#0808a0"/><circle cx="99.2" cy="97.5" r="1.11" fill="#2030f0"/><circle cx="72.1" cy="101.4" r="0.71" fill="#2030f0"/><circle cx="39.4" cy="101.6" r="0.81" fill="#000070"/><circle cx="93.7" cy="102.5" r="0.67" fill="#2030f0"/><circle cx="19.8" cy="101.7" r="0.70" fill="#2030f0"/><circle cx="34.9" cy="101.2" r="0.91" fill="#0808a0"/><circle cx="86.2" cy="102.1" r="0.96" fill="#2030f0"/><circle cx="26.7" cy="101.0" r="1.19" fill="#2030f0"/><circle cx="73.4" cy="101.3" r="1.09" fill="#000070"/><circle cx="94.0" cy="97.6" r="0.93" fill="#000070"/><circle cx="67.5" cy="102.4" r="0.83" fill="#000070"/><circle cx="66.6" cy="96.9" r="0.89" fill="#000070"/><circle cx="27.3" cy="101.0" r="1.12" fill="#0808a0"/><circle cx="71.3" cy="97.5" r="0.68" fill="#0808a0"/><circle cx="68.8" cy="98.1" r="0.64" fill="#000070"/><circle cx="79.3" cy="102.3" r="0.67" fill="#2030f0"/><circle cx="64.0" cy="101.5" r="0.87" fill="#0808a0"/>
<ellipse cx="17" cy="98.6" rx="1.3" ry="1.0" fill="#e4e8fa"/>
<ellipse cx="25" cy="99.6" rx="1.3" ry="1.0" fill="#e4e8fa"/>
<ellipse cx="33" cy="98.6" rx="1.3" ry="1.0" fill="#e4e8fa"/>
<ellipse cx="44.7" cy="99.6" rx="1.3" ry="1.0" fill="#e4e8fa"/>
<ellipse cx="52.3" cy="98.6" rx="1.3" ry="1.0" fill="#e4e8fa"/>
<ellipse cx="62" cy="99.6" rx="1.3" ry="1.0" fill="#e4e8fa"/>
<ellipse cx="70" cy="98.6" rx="1.3" ry="1.0" fill="#e4e8fa"/>
<ellipse cx="79" cy="99.6" rx="1.3" ry="1.0" fill="#e4e8fa"/>
<ellipse cx="88" cy="98.6" rx="1.3" ry="1.0" fill="#e4e8fa"/>
<ellipse cx="96" cy="99.6" rx="1.3" ry="1.0" fill="#e4e8fa"/>
<ellipse cx="104" cy="98.6" rx="1.3" ry="1.0" fill="#e4e8fa"/>
<rect x="15" y="102.8" width="97" height="7" fill="#eeeaea" />
<text x="35" y="75.5" font-size="4.9" fill="#1a1a1a" text-anchor="start" font-weight="normal" font-family="Liberation Sans" >SC CO<tspan font-size='3.2' dy='1'>2</tspan></text>
<text x="59" y="75.5" font-size="4.9" fill="#1a1a1a" text-anchor="start" font-weight="normal" font-family="Liberation Sans" >H<tspan font-size='3.2' dy='1'>2</tspan><tspan dy='-1'>O</tspan></text>
<text x="78" y="75.5" font-size="4.9" fill="#1a1a1a" text-anchor="start" font-weight="normal" font-family="Liberation Sans" >SO<tspan font-size='3.2' dy='1'>2</tspan></text>
<path d="M49.5 72.5 A5.0 5.0 0 0 1 59.5 72.5" stroke="#8c8c8c" stroke-width="0.75" fill="none"/>
<path d="M50.1 73.8 A5.0 5.0 0 0 0 53.5 77.0 M55.5 77.0 A5.0 5.0 0 0 0 58.9 73.8" stroke="#8c8c8c" stroke-width="0.6" fill="none"/>
<path d="M51.2 69.4 L52.0 70.3 L52.8 69.4" stroke="#aaa" stroke-width="0.4" fill="none"/>
<path d="M56.2 69.4 L57.0 70.3 L57.8 69.4" stroke="#aaa" stroke-width="0.4" fill="none"/>
<path d="M50.7 73.1 L51.5 74.0 L52.3 73.1" stroke="#aaa" stroke-width="0.4" fill="none"/>
<path d="M56.7 73.1 L57.5 74.0 L58.3 73.1" stroke="#aaa" stroke-width="0.4" fill="none"/>
<path d="M54.5 77.0 L54.5 83.0" stroke="#8c8c8c" stroke-width="0.6" fill="none"/>
<path d="M67.5 72.5 A5.0 5.0 0 0 1 77.5 72.5" stroke="#8c8c8c" stroke-width="0.75" fill="none"/>
<path d="M68.1 73.8 A5.0 5.0 0 0 0 71.5 77.0 M73.5 77.0 A5.0 5.0 0 0 0 76.9 73.8" stroke="#8c8c8c" stroke-width="0.6" fill="none"/>
<path d="M69.2 69.4 L70.0 70.3 L70.8 69.4" stroke="#aaa" stroke-width="0.4" fill="none"/>
<path d="M74.2 69.4 L75.0 70.3 L75.8 69.4" stroke="#aaa" stroke-width="0.4" fill="none"/>
<path d="M68.7 73.1 L69.5 74.0 L70.3 73.1" stroke="#aaa" stroke-width="0.4" fill="none"/>
<path d="M74.7 73.1 L75.5 74.0 L76.3 73.1" stroke="#aaa" stroke-width="0.4" fill="none"/>
<path d="M72.5 77.0 L72.5 83.0" stroke="#8c8c8c" stroke-width="0.6" fill="none"/>
<line x1="45" y1="79.5" x2="45" y2="84.5" stroke="#d0a0a8" stroke-width="0.7" />
<line x1="63.5" y1="79.5" x2="63.5" y2="84.5" stroke="#d0a0a8" stroke-width="0.7" />
<line x1="85" y1="79.5" x2="85" y2="84.5" stroke="#d0a0a8" stroke-width="0.7" />
<path d="M16 96 C13 100, 14 106, 20 108" stroke="#777" stroke-width="0.5" fill="none"/>
<text x="25" y="108.8" font-size="4.4" fill="#1a1a1a" text-anchor="start" font-weight="normal" font-family="Liberation Sans" >Fe</text>
<text x="56" y="109" font-size="4.6" fill="#1a1a1a" text-anchor="start" font-weight="bold" font-family="Liberation Sans" >steel</text>
<text x="100" y="108.8" font-size="4.4" fill="#1a1a1a" text-anchor="start" font-weight="normal" font-family="Liberation Sans" >Fe</text>
<rect x="215" y="24" width="41" height="3" fill="#fde0f0" />
<rect x="195" y="28.6" width="61" height="2.4" fill="#a8f4f0" />
<rect x="210.5" y="15" width="94.0" height="78.5" fill="none" stroke="#444" stroke-width="0.6"/>
<line x1="210.5" y1="15.0" x2="212.0" y2="15.0" stroke="#444" stroke-width="0.5" />
<text x="208.5" y="16.5" font-size="4.2" fill="#111" text-anchor="end" font-weight="normal" font-family="Liberation Sans" >12</text>
<line x1="210.5" y1="28.083333333333336" x2="212.0" y2="28.083333333333336" stroke="#444" stroke-width="0.5" />
<text x="208.5" y="29.583333333333336" font-size="4.2" fill="#111" text-anchor="end" font-weight="normal" font-family="Liberation Sans" >10</text>
<line x1="210.5" y1="41.16666666666667" x2="212.0" y2="41.16666666666667" stroke="#444" stroke-width="0.5" />
<text x="208.5" y="42.66666666666667" font-size="4.2" fill="#111" text-anchor="end" font-weight="normal" font-family="Liberation Sans" >8</text>
<line x1="210.5" y1="54.25" x2="212.0" y2="54.25" stroke="#444" stroke-width="0.5" />
<text x="208.5" y="55.75" font-size="4.2" fill="#111" text-anchor="end" font-weight="normal" font-family="Liberation Sans" >6</text>
<line x1="210.5" y1="67.33333333333334" x2="212.0" y2="67.33333333333334" stroke="#444" stroke-width="0.5" />
<text x="208.5" y="68.83333333333334" font-size="4.2" fill="#111" text-anchor="end" font-weight="normal" font-family="Liberation Sans" >4</text>
<line x1="210.5" y1="80.41666666666667" x2="212.0" y2="80.41666666666667" stroke="#444" stroke-width="0.5" />
<text x="208.5" y="81.91666666666667" font-size="4.2" fill="#111" text-anchor="end" font-weight="normal" font-family="Liberation Sans" >2</text>
<line x1="210.5" y1="93.5" x2="212.0" y2="93.5" stroke="#444" stroke-width="0.5" />
<text x="208.5" y="95.0" font-size="4.2" fill="#111" text-anchor="end" font-weight="normal" font-family="Liberation Sans" >0</text>
<line x1="210.5" y1="93.5" x2="210.5" y2="92.0" stroke="#444" stroke-width="0.5" />
<text x="210.5" y="99.0" font-size="4.2" fill="#111" text-anchor="middle" font-weight="normal" font-family="Liberation Sans" >0</text>
<line x1="226.16666666666666" y1="93.5" x2="226.16666666666666" y2="92.0" stroke="#444" stroke-width="0.5" />
<text x="226.16666666666666" y="99.0" font-size="4.2" fill="#111" text-anchor="middle" font-weight="normal" font-family="Liberation Sans" >4</text>
<line x1="241.83333333333334" y1="93.5" x2="241.83333333333334" y2="92.0" stroke="#444" stroke-width="0.5" />
<text x="241.83333333333334" y="99.0" font-size="4.2" fill="#111" text-anchor="middle" font-weight="normal" font-family="Liberation Sans" >8</text>
<line x1="257.5" y1="93.5" x2="257.5" y2="92.0" stroke="#444" stroke-width="0.5" />
<text x="257.5" y="99.0" font-size="4.2" fill="#111" text-anchor="middle" font-weight="normal" font-family="Liberation Sans" >12</text>
<line x1="273.1666666666667" y1="93.5" x2="273.1666666666667" y2="92.0" stroke="#444" stroke-width="0.5" />
<text x="273.1666666666667" y="99.0" font-size="4.2" fill="#111" text-anchor="middle" font-weight="normal" font-family="Liberation Sans" >16</text>
<line x1="288.8333333333333" y1="93.5" x2="288.8333333333333" y2="92.0" stroke="#444" stroke-width="0.5" />
<text x="288.8333333333333" y="99.0" font-size="4.2" fill="#111" text-anchor="middle" font-weight="normal" font-family="Liberation Sans" >20</text>
<line x1="304.5" y1="93.5" x2="304.5" y2="92.0" stroke="#444" stroke-width="0.5" />
<text x="304.5" y="99.0" font-size="4.2" fill="#111" text-anchor="middle" font-weight="normal" font-family="Liberation Sans" >24</text>
<text x="257.8" y="103.6" font-size="3.5" fill="#111" text-anchor="middle" font-weight="normal" font-family="Liberation Sans" >Pressure (MPa)</text>
<text x="0" y="0" font-size="4.2" fill="#222" font-family="Liberation Sans" text-anchor="middle" transform="translate(200.8,48.5) rotate(-90)" textLength="69" lengthAdjust="spacingAndGlyphs">Solubility of water in CO<tspan font-size='70%' dy='0.8'>2</tspan><tspan dy='-0.8'>​</tspan>/H<tspan font-size='70%' dy='0.8'>2</tspan><tspan dy='-0.8'>​</tspan>S × 1000 (mol %)</text>
<text x="221" y="24" font-size="7.5" fill="#111" text-anchor="start" font-weight="bold" font-family="Liberation Serif" >(b)</text>
<path d="M212.50,15.00 C212.83,17.50 213.83,25.00 214.50,30.00 C215.17,35.00 215.92,40.50 216.50,45.00 C217.08,49.50 217.25,53.50 218.00,57.00 C218.75,60.50 219.83,63.33 221.00,66.00 C222.17,68.67 223.22,70.72 225.00,73.00 C226.78,75.28 229.20,77.82 231.70,79.70 C234.20,81.58 236.88,82.97 240.00,84.30 C243.12,85.63 246.13,86.85 250.40,87.70 C254.67,88.55 259.83,88.93 265.60,89.40 C271.37,89.87 278.60,90.23 285.00,90.50 C291.40,90.77 300.83,90.92 304.00,91.00" stroke="#e0cac4" stroke-width="2.0" fill="none" />
<path d="M212.50,15.00 C212.83,17.50 213.83,25.00 214.50,30.00 C215.17,35.00 215.92,40.50 216.50,45.00 C217.08,49.50 217.25,53.50 218.00,57.00 C218.75,60.50 219.83,63.33 221.00,66.00 C222.17,68.67 223.22,70.72 225.00,73.00 C226.78,75.28 229.20,77.82 231.70,79.70 C234.20,81.58 236.88,82.97 240.00,84.30 C243.12,85.63 246.13,86.85 250.40,87.70 C254.67,88.55 259.83,88.93 265.60,89.40 C271.37,89.87 278.60,90.23 285.00,90.50 C291.40,90.77 300.83,90.92 304.00,91.00" stroke="#c8a8a0" stroke-width="0.5" fill="none" />
<circle cx="214.0" cy="26.2" r="0.7" fill="#d0b0a8"/>
<circle cx="217.0" cy="49.0" r="0.7" fill="#d0b0a8"/>
<circle cx="220.0" cy="63.0" r="0.7" fill="#d0b0a8"/>
<circle cx="223.0" cy="69.5" r="0.7" fill="#d0b0a8"/>
<circle cx="226.0" cy="74.0" r="0.7" fill="#d0b0a8"/>
<circle cx="229.0" cy="77.0" r="0.7" fill="#d0b0a8"/>
<circle cx="232.0" cy="79.9" r="0.7" fill="#d0b0a8"/>
<circle cx="235.0" cy="81.5" r="0.7" fill="#d0b0a8"/>
<circle cx="238.0" cy="83.2" r="0.7" fill="#d0b0a8"/>
<circle cx="241.0" cy="84.6" r="0.7" fill="#d0b0a8"/>
<circle cx="244.0" cy="85.6" r="0.7" fill="#d0b0a8"/>
<circle cx="247.0" cy="86.6" r="0.7" fill="#d0b0a8"/>
<circle cx="250.0" cy="87.6" r="0.7" fill="#d0b0a8"/>
<circle cx="253.0" cy="88.0" r="0.7" fill="#d0b0a8"/>
<circle cx="256.0" cy="88.3" r="0.7" fill="#d0b0a8"/>
<circle cx="259.0" cy="88.7" r="0.7" fill="#d0b0a8"/>
<circle cx="262.0" cy="89.0" r="0.7" fill="#d0b0a8"/>
<circle cx="265.0" cy="89.3" r="0.7" fill="#d0b0a8"/>
<circle cx="268.0" cy="89.5" r="0.7" fill="#d0b0a8"/>
<circle cx="271.0" cy="89.7" r="0.7" fill="#d0b0a8"/>
<circle cx="274.0" cy="89.9" r="0.7" fill="#d0b0a8"/>
<circle cx="277.0" cy="90.0" r="0.7" fill="#d0b0a8"/>
<circle cx="280.0" cy="90.2" r="0.7" fill="#d0b0a8"/>
<circle cx="283.0" cy="90.4" r="0.7" fill="#d0b0a8"/>
<circle cx="286.0" cy="90.5" r="0.7" fill="#d0b0a8"/>
<circle cx="289.0" cy="90.6" r="0.7" fill="#d0b0a8"/>
<circle cx="292.0" cy="90.7" r="0.7" fill="#d0b0a8"/>
<circle cx="295.0" cy="90.8" r="0.7" fill="#d0b0a8"/>
<circle cx="298.0" cy="90.8" r="0.7" fill="#d0b0a8"/>
<circle cx="301.0" cy="90.9" r="0.7" fill="#d0b0a8"/>
<path d="M214.00,15.00 C214.25,17.50 214.95,25.00 215.50,30.00 C216.05,35.00 216.43,40.50 217.30,45.00 C218.17,49.50 219.42,53.75 220.70,57.00 C221.98,60.25 223.45,62.40 225.00,64.50 C226.55,66.60 227.60,68.35 230.00,69.60 C232.40,70.85 236.28,72.15 239.40,72.00 C242.52,71.85 245.73,70.37 248.70,68.70 C251.67,67.03 254.38,63.95 257.20,62.00 C260.02,60.05 262.63,58.50 265.60,57.00 C268.57,55.50 270.93,54.17 275.00,53.00 C279.07,51.83 285.17,50.92 290.00,50.00 C294.83,49.08 301.67,47.92 304.00,47.50" stroke="#1a1a8a" stroke-width="1.0" fill="none" />
<path d="M214.00,15.00 C214.25,17.50 214.95,25.00 215.50,30.00 C216.05,35.00 216.43,40.50 217.30,45.00 C218.17,49.50 219.42,53.75 220.70,57.00 C221.98,60.25 223.45,62.40 225.00,64.50 C226.55,66.60 227.60,68.35 230.00,69.60 C232.40,70.85 236.28,72.09 239.40,72.00 C242.52,71.91 245.73,70.52 248.70,69.03 C251.67,67.55 254.38,64.79 257.20,63.10 C260.02,61.40 262.63,60.09 265.60,58.85 C268.57,57.62 270.93,56.50 275.00,55.70 C279.07,54.90 285.17,54.53 290.00,54.05 C294.83,53.57 301.67,53.02 304.00,52.81" stroke="#6a60d0" stroke-width="0.7" fill="none" />
<path d="M214.00,15.00 C214.25,17.50 214.95,25.00 215.50,30.00 C216.05,35.00 216.43,40.50 217.30,45.00 C218.17,49.50 219.42,53.75 220.70,57.00 C221.98,60.25 223.45,62.40 225.00,64.50 C226.55,66.60 227.60,68.35 230.00,69.60 C232.40,70.85 236.28,72.11 239.40,72.00 C242.52,71.89 245.73,70.47 248.70,68.92 C251.67,67.38 254.38,64.51 257.20,62.73 C260.02,60.95 262.63,59.56 265.60,58.24 C268.57,56.91 270.93,55.72 275.00,54.80 C279.07,53.88 285.17,53.33 290.00,52.70 C294.83,52.07 301.67,51.32 304.00,51.04" stroke="#3040c0" stroke-width="0.7" fill="none" />
<path d="M214.00,15.00 C214.25,17.50 214.95,25.00 215.50,30.00 C216.05,35.00 216.43,40.50 217.30,45.00 C218.17,49.50 219.42,53.75 220.70,57.00 C221.98,60.25 223.45,62.40 225.00,64.50 C226.55,66.60 227.60,68.35 230.00,69.60 C232.40,70.85 236.28,72.08 239.40,72.00 C242.52,71.92 245.73,70.57 248.70,69.14 C251.67,67.72 254.38,65.08 257.20,63.46 C260.02,61.85 262.63,60.62 265.60,59.47 C268.57,58.33 270.93,57.28 275.00,56.60 C279.07,55.92 285.17,55.74 290.00,55.40 C294.83,55.06 301.67,54.72 304.00,54.58" stroke="#b090c0" stroke-width="0.6" fill="none" />
<circle cx="215.5" cy="30.0" r="0.95" fill="#141460"/>
<circle cx="216.5" cy="38.3" r="0.95" fill="#141460"/>
<circle cx="217.5" cy="45.7" r="0.95" fill="#141460"/>
<circle cx="219.0" cy="51.0" r="0.95" fill="#141460"/>
<circle cx="221.0" cy="57.5" r="0.95" fill="#141460"/>
<circle cx="223.0" cy="61.0" r="0.95" fill="#141460"/>
<circle cx="225.5" cy="65.0" r="0.95" fill="#141460"/>
<circle cx="228.0" cy="67.6" r="0.95" fill="#141460"/>
<circle cx="231.0" cy="69.9" r="0.95" fill="#141460"/>
<circle cx="234.0" cy="70.6" r="0.95" fill="#141460"/>
<circle cx="237.0" cy="71.4" r="0.95" fill="#141460"/>
<circle cx="240.0" cy="71.8" r="0.95" fill="#141460"/>
<circle cx="243.0" cy="70.7" r="0.95" fill="#141460"/>
<circle cx="246.0" cy="69.7" r="0.95" fill="#141460"/>
<circle cx="249.0" cy="68.5" r="0.95" fill="#141460"/>
<circle cx="252.0" cy="66.1" r="0.95" fill="#141460"/>
<circle cx="255.5" cy="63.3" r="0.95" fill="#141460"/>
<circle cx="259.0" cy="60.9" r="0.95" fill="#141460"/>
<circle cx="263.0" cy="58.5" r="0.95" fill="#141460"/>
<circle cx="267.0" cy="56.4" r="0.95" fill="#141460"/>
<circle cx="271.0" cy="54.7" r="0.95" fill="#141460"/>
<circle cx="275.0" cy="53.0" r="0.95" fill="#141460"/>
<circle cx="279.0" cy="52.2" r="0.95" fill="#141460"/>
<circle cx="283.0" cy="51.4" r="0.95" fill="#141460"/>
<circle cx="287.0" cy="50.6" r="0.95" fill="#141460"/>
<circle cx="291.0" cy="49.8" r="0.95" fill="#141460"/>
<circle cx="295.0" cy="49.1" r="0.95" fill="#141460"/>
<line x1="252" y1="64.09882352971778" x2="252" y2="69.59882352971778" stroke="#5050b0" stroke-width="0.4" />
<line x1="256" y1="60.945882353618124" x2="256" y2="66.44588235361812" stroke="#5050b0" stroke-width="0.4" />
<line x1="260" y1="58.33333333353175" x2="260" y2="63.83333333353175" stroke="#5050b0" stroke-width="0.4" />
<line x1="264" y1="55.952380952862825" x2="264" y2="61.452380952862825" stroke="#5050b0" stroke-width="0.4" />
<line x1="268" y1="53.978723404363976" x2="268" y2="59.478723404363976" stroke="#5050b0" stroke-width="0.4" />
<line x1="272" y1="52.27659574497058" x2="272" y2="57.77659574497058" stroke="#5050b0" stroke-width="0.4" />
<line x1="276" y1="50.800000000013334" x2="276" y2="56.300000000013334" stroke="#5050b0" stroke-width="0.4" />
<line x1="280" y1="50.00000000006666" x2="280" y2="55.50000000006666" stroke="#5050b0" stroke-width="0.4" />
<line x1="284" y1="49.20000000012" x2="284" y2="54.70000000012" stroke="#5050b0" stroke-width="0.4" />
<line x1="288" y1="48.400000000173335" x2="288" y2="53.900000000173335" stroke="#5050b0" stroke-width="0.4" />
<line x1="292" y1="47.642857142882654" x2="292" y2="53.142857142882654" stroke="#5050b0" stroke-width="0.4" />
<line x1="296" y1="46.928571428647956" x2="296" y2="52.428571428647956" stroke="#5050b0" stroke-width="0.4" />
<line x1="239.5" y1="43" x2="239.5" y2="93.5" stroke="#777" stroke-width="0.5" stroke-dasharray="1 1"/>
<text x="234" y="42.2" font-size="3.6" fill="#111" text-anchor="start" font-weight="normal" font-family="Liberation Sans" >7.38 MPa</text>
<text x="221" y="51.5" font-size="3.6" fill="#111" text-anchor="start" font-weight="normal" font-family="Liberation Sans" >Gas state</text>
<path d="M233 50.3 L237 50.3 M242 50.3 L246 50.3" stroke="#222" stroke-width="0.5"/>
<text x="245.5" y="51.5" font-size="3.6" fill="#111" text-anchor="start" font-weight="normal" font-family="Liberation Sans" >Supercritical state</text>
<line x1="262.9" y1="17.5" x2="268.9" y2="17.5" stroke="#111" stroke-width="0.6" />
<circle cx="265.9" cy="17.5" r="0.9" fill="#111"/>
<text x="270.1" y="18.6" font-size="3.0" fill="#2a2a2a" text-anchor="start" font-weight="normal" font-family="Liberation Sans" >100% CO<tspan font-size='70%' dy='0.8'>2</tspan><tspan dy='-0.8'>​</tspan></text>
<line x1="262.9" y1="22.15" x2="268.9" y2="22.15" stroke="#5b50c8" stroke-width="0.6" />
<circle cx="265.9" cy="22.15" r="0.9" fill="#5b50c8"/>
<text x="270.1" y="23.25" font-size="3.0" fill="#2a2a2a" text-anchor="start" font-weight="normal" font-family="Liberation Sans" >99.99% CO<tspan font-size='70%' dy='0.8'>2</tspan><tspan dy='-0.8'>​</tspan> + 0.01% H<tspan font-size='70%' dy='0.8'>2</tspan><tspan dy='-0.8'>​</tspan>S</text>
<line x1="262.9" y1="26.8" x2="268.9" y2="26.8" stroke="#6a6ab0" stroke-width="0.6" />
<circle cx="265.9" cy="26.8" r="0.9" fill="#6a6ab0"/>
<text x="270.1" y="27.900000000000002" font-size="3.0" fill="#2a2a2a" text-anchor="start" font-weight="normal" font-family="Liberation Sans" >99.9% CO<tspan font-size='70%' dy='0.8'>2</tspan><tspan dy='-0.8'>​</tspan> + 0.1% H<tspan font-size='70%' dy='0.8'>2</tspan><tspan dy='-0.8'>​</tspan>S</text>
<line x1="262.9" y1="31.450000000000003" x2="268.9" y2="31.450000000000003" stroke="#909860" stroke-width="0.6" />
<circle cx="265.9" cy="31.450000000000003" r="0.9" fill="#909860"/>
<text x="270.1" y="32.550000000000004" font-size="3.0" fill="#2a2a2a" text-anchor="start" font-weight="normal" font-family="Liberation Sans" >99% CO<tspan font-size='70%' dy='0.8'>2</tspan><tspan dy='-0.8'>​</tspan> + 1% H<tspan font-size='70%' dy='0.8'>2</tspan><tspan dy='-0.8'>​</tspan>S</text>
<line x1="262.9" y1="36.1" x2="268.9" y2="36.1" stroke="#4848c0" stroke-width="0.6" />
<circle cx="265.9" cy="36.1" r="0.9" fill="#4848c0"/>
<text x="270.1" y="37.2" font-size="3.0" fill="#2a2a2a" text-anchor="start" font-weight="normal" font-family="Liberation Sans" >95% CO<tspan font-size='70%' dy='0.8'>2</tspan><tspan dy='-0.8'>​</tspan> + 5% H<tspan font-size='70%' dy='0.8'>2</tspan><tspan dy='-0.8'>​</tspan>S</text>
<line x1="262.9" y1="40.75" x2="268.9" y2="40.75" stroke="#a06a50" stroke-width="0.6" />
<circle cx="265.9" cy="40.75" r="0.9" fill="#a06a50"/>
<text x="270.1" y="41.85" font-size="3.0" fill="#2a2a2a" text-anchor="start" font-weight="normal" font-family="Liberation Sans" >90% CO<tspan font-size='70%' dy='0.8'>2</tspan><tspan dy='-0.8'>​</tspan> + 10% H<tspan font-size='70%' dy='0.8'>2</tspan><tspan dy='-0.8'>​</tspan>S</text>
<line x1="262.9" y1="45.400000000000006" x2="268.9" y2="45.400000000000006" stroke="#d8b0a8" stroke-width="0.6" />
<circle cx="265.9" cy="45.400000000000006" r="0.9" fill="#d8b0a8"/>
<text x="270.1" y="46.50000000000001" font-size="3.0" fill="#2a2a2a" text-anchor="start" font-weight="normal" font-family="Liberation Sans" >100% H<tspan font-size='70%' dy='0.8'>2</tspan><tspan dy='-0.8'>​</tspan>S</text>
<path d="M256 74.6 L282 74.6" stroke="#f080e0" stroke-width="0.8" stroke-dasharray="2 1.2"/>
<rect x="229" y="73.5" width="1.5" height="1.5" fill="#a0f0f0" />
<rect x="318" y="55" width="28" height="35" fill="#fbeef6" />
<rect x="346" y="66" width="60.5" height="24" fill="#e6f8f8" />
<rect x="318" y="15" width="88.5" height="75" fill="none" stroke="#444" stroke-width="0.6"/>
<line x1="318" y1="15.0" x2="319.5" y2="15.0" stroke="#444" stroke-width="0.5" />
<text x="316" y="16.5" font-size="4.0" fill="#111" text-anchor="end" font-weight="normal" font-family="Liberation Sans" >1.0</text>
<line x1="318" y1="30.0" x2="319.5" y2="30.0" stroke="#444" stroke-width="0.5" />
<text x="316" y="31.5" font-size="4.0" fill="#111" text-anchor="end" font-weight="normal" font-family="Liberation Sans" >0.8</text>
<line x1="318" y1="45.0" x2="319.5" y2="45.0" stroke="#444" stroke-width="0.5" />
<text x="316" y="46.5" font-size="4.0" fill="#111" text-anchor="end" font-weight="normal" font-family="Liberation Sans" >0.6</text>
<line x1="318" y1="60.0" x2="319.5" y2="60.0" stroke="#444" stroke-width="0.5" />
<text x="316" y="61.5" font-size="4.0" fill="#111" text-anchor="end" font-weight="normal" font-family="Liberation Sans" >0.4</text>
<line x1="318" y1="75.0" x2="319.5" y2="75.0" stroke="#444" stroke-width="0.5" />
<text x="316" y="76.5" font-size="4.0" fill="#111" text-anchor="end" font-weight="normal" font-family="Liberation Sans" >0.2</text>
<line x1="318" y1="90.0" x2="319.5" y2="90.0" stroke="#444" stroke-width="0.5" />
<text x="316" y="91.5" font-size="4.0" fill="#111" text-anchor="end" font-weight="normal" font-family="Liberation Sans" >0.0</text>
<line x1="318.0" y1="90" x2="318.0" y2="88.5" stroke="#444" stroke-width="0.5" />
<text x="318.0" y="95" font-size="4.0" fill="#111" text-anchor="middle" font-weight="normal" font-family="Liberation Sans" >0</text>
<line x1="332.75" y1="90" x2="332.75" y2="88.5" stroke="#444" stroke-width="0.5" />
<text x="332.75" y="95" font-size="4.0" fill="#111" text-anchor="middle" font-weight="normal" font-family="Liberation Sans" >4</text>
<line x1="347.5" y1="90" x2="347.5" y2="88.5" stroke="#444" stroke-width="0.5" />
<text x="347.5" y="95" font-size="4.0" fill="#111" text-anchor="middle" font-weight="normal" font-family="Liberation Sans" >8</text>
<line x1="362.25" y1="90" x2="362.25" y2="88.5" stroke="#444" stroke-width="0.5" />
<text x="362.25" y="95" font-size="4.0" fill="#111" text-anchor="middle" font-weight="normal" font-family="Liberation Sans" >12</text>
<line x1="377.0" y1="90" x2="377.0" y2="88.5" stroke="#444" stroke-width="0.5" />
<text x="377.0" y="95" font-size="4.0" fill="#111" text-anchor="middle" font-weight="normal" font-family="Liberation Sans" >16</text>
<line x1="391.75" y1="90" x2="391.75" y2="88.5" stroke="#444" stroke-width="0.5" />
<text x="391.75" y="95" font-size="4.0" fill="#111" text-anchor="middle" font-weight="normal" font-family="Liberation Sans" >20</text>
<line x1="406.5" y1="90" x2="406.5" y2="88.5" stroke="#444" stroke-width="0.5" />
<text x="406.5" y="95" font-size="4.0" fill="#111" text-anchor="middle" font-weight="normal" font-family="Liberation Sans" >24</text>
<text x="362.5" y="99.8" font-size="3.3" fill="#111" text-anchor="middle" font-weight="normal" font-family="Liberation Sans" >Pressure (MPa)</text>
<text x="0" y="0" font-size="3.8" fill="#222" font-family="Liberation Sans" text-anchor="middle" transform="translate(309.2,50) rotate(-90)" textLength="26" lengthAdjust="spacingAndGlyphs">y<tspan font-size='70%' dy='0.8'>H2O</tspan><tspan dy='-0.8'>​</tspan> (mol %)</text>
<path d="M318.00,82.00 C320.00,81.67 326.33,80.92 330.00,80.00 C333.67,79.08 337.33,77.58 340.00,76.50 C342.67,75.42 344.33,74.75 346.00,73.50 C347.67,72.25 348.67,70.58 350.00,69.00 C351.33,67.42 352.67,65.67 354.00,64.00 C355.33,62.33 356.50,60.50 358.00,59.00 C359.50,57.50 361.00,56.25 363.00,55.00 C365.00,53.75 367.17,52.67 370.00,51.50 C372.83,50.33 376.33,49.08 380.00,48.00 C383.67,46.92 387.58,46.00 392.00,45.00 C396.42,44.00 404.08,42.50 406.50,42.00" stroke="#9a58e0" stroke-width="0.8" fill="none" />
<path d="M319.0,81.1 L319.7,82.4 L318.3,82.4Z" fill="#7a38c0"/>
<path d="M323.0,80.5 L323.7,81.7 L322.3,81.7Z" fill="#7a38c0"/>
<path d="M327.0,79.8 L327.7,81.1 L326.3,81.1Z" fill="#7a38c0"/>
<path d="M331.0,79.0 L331.7,80.2 L330.3,80.2Z" fill="#7a38c0"/>
<path d="M335.0,77.6 L335.7,78.8 L334.3,78.8Z" fill="#7a38c0"/>
<path d="M339.0,76.2 L339.7,77.4 L338.3,77.4Z" fill="#7a38c0"/>
<path d="M343.0,74.3 L343.7,75.6 L342.3,75.6Z" fill="#7a38c0"/>
<path d="M347.0,71.7 L347.7,72.9 L346.3,72.9Z" fill="#7a38c0"/>
<path d="M351.0,67.1 L351.7,68.3 L350.3,68.3Z" fill="#7a38c0"/>
<path d="M355.0,62.1 L355.7,63.3 L354.3,63.3Z" fill="#7a38c0"/>
<path d="M359.0,57.5 L359.7,58.8 L358.3,58.8Z" fill="#7a38c0"/>
<path d="M363.0,54.3 L363.7,55.6 L362.3,55.6Z" fill="#7a38c0"/>
<path d="M367.0,52.3 L367.7,53.6 L366.3,53.6Z" fill="#7a38c0"/>
<path d="M371.0,50.5 L371.7,51.7 L370.3,51.7Z" fill="#7a38c0"/>
<path d="M375.0,49.1 L375.7,50.3 L374.3,50.3Z" fill="#7a38c0"/>
<path d="M379.0,47.7 L379.7,48.9 L378.3,48.9Z" fill="#7a38c0"/>
<path d="M383.0,46.6 L383.7,47.8 L382.3,47.8Z" fill="#7a38c0"/>
<path d="M387.0,45.6 L387.7,46.8 L386.3,46.8Z" fill="#7a38c0"/>
<path d="M391.0,44.6 L391.7,45.8 L390.3,45.8Z" fill="#7a38c0"/>
<path d="M318.00,86.00 C320.00,85.83 325.33,85.67 330.00,85.00 C334.67,84.33 342.67,82.75 346.00,82.00 C349.33,81.25 348.67,81.17 350.00,80.50 C351.33,79.83 352.67,78.83 354.00,78.00 C355.33,77.17 356.67,76.25 358.00,75.50 C359.33,74.75 360.33,74.20 362.00,73.50 C363.67,72.80 365.67,72.00 368.00,71.30 C370.33,70.60 372.33,69.97 376.00,69.30 C379.67,68.63 384.92,67.92 390.00,67.30 C395.08,66.68 403.75,65.88 406.50,65.60" stroke="#2a4a58" stroke-width="0.7" fill="none" />
<circle cx="319.0" cy="85.9" r="0.75" fill="#1a2a38"/>
<circle cx="323.0" cy="85.6" r="0.75" fill="#1a2a38"/>
<circle cx="327.0" cy="85.3" r="0.75" fill="#1a2a38"/>
<circle cx="331.0" cy="84.8" r="0.75" fill="#1a2a38"/>
<circle cx="335.0" cy="84.1" r="0.75" fill="#1a2a38"/>
<circle cx="339.0" cy="83.3" r="0.75" fill="#1a2a38"/>
<circle cx="343.0" cy="82.6" r="0.75" fill="#1a2a38"/>
<circle cx="347.0" cy="81.6" r="0.75" fill="#1a2a38"/>
<circle cx="351.0" cy="79.9" r="0.75" fill="#1a2a38"/>
<circle cx="355.0" cy="77.4" r="0.75" fill="#1a2a38"/>
<circle cx="359.0" cy="75.0" r="0.75" fill="#1a2a38"/>
<circle cx="363.0" cy="73.1" r="0.75" fill="#1a2a38"/>
<circle cx="367.0" cy="71.7" r="0.75" fill="#1a2a38"/>
<circle cx="371.0" cy="70.6" r="0.75" fill="#1a2a38"/>
<circle cx="375.0" cy="69.6" r="0.75" fill="#1a2a38"/>
<circle cx="379.0" cy="68.9" r="0.75" fill="#1a2a38"/>
<circle cx="383.0" cy="68.3" r="0.75" fill="#1a2a38"/>
<circle cx="387.0" cy="67.7" r="0.75" fill="#1a2a38"/>
<circle cx="391.0" cy="67.2" r="0.75" fill="#1a2a38"/>
<path d="M318.00,88.20 C322.67,88.05 338.67,87.63 346.00,87.30 C353.33,86.97 354.67,86.52 362.00,86.20 C369.33,85.88 382.58,85.60 390.00,85.40 C397.42,85.20 403.75,85.07 406.50,85.00" stroke="#2020d0" stroke-width="0.8" fill="none" />
<path d="M319.0,87.4 L319.8,88.8 L318.2,88.8Z" fill="#2020d0"/>
<path d="M323.0,87.3 L323.8,88.6 L322.2,88.6Z" fill="#2020d0"/>
<path d="M327.0,87.2 L327.8,88.5 L326.2,88.5Z" fill="#2020d0"/>
<path d="M331.0,87.0 L331.8,88.4 L330.2,88.4Z" fill="#2020d0"/>
<path d="M335.0,86.9 L335.8,88.3 L334.2,88.3Z" fill="#2020d0"/>
<path d="M339.0,86.8 L339.8,88.1 L338.2,88.1Z" fill="#2020d0"/>
<path d="M343.0,86.6 L343.8,88.0 L342.2,88.0Z" fill="#2020d0"/>
<path d="M347.0,86.5 L347.8,87.8 L346.2,87.8Z" fill="#2020d0"/>
<path d="M351.0,86.2 L351.8,87.6 L350.2,87.6Z" fill="#2020d0"/>
<path d="M355.0,85.9 L355.8,87.3 L354.2,87.3Z" fill="#2020d0"/>
<path d="M359.0,85.7 L359.8,87.0 L358.2,87.0Z" fill="#2020d0"/>
<path d="M363.0,85.4 L363.8,86.8 L362.2,86.8Z" fill="#2020d0"/>
<path d="M367.0,85.3 L367.8,86.7 L366.2,86.7Z" fill="#2020d0"/>
<path d="M371.0,85.2 L371.8,86.5 L370.2,86.5Z" fill="#2020d0"/>
<path d="M375.0,85.1 L375.8,86.4 L374.2,86.4Z" fill="#2020d0"/>
<path d="M379.0,85.0 L379.8,86.3 L378.2,86.3Z" fill="#2020d0"/>
<path d="M383.0,84.9 L383.8,86.2 L382.2,86.2Z" fill="#2020d0"/>
<path d="M387.0,84.7 L387.8,86.1 L386.2,86.1Z" fill="#2020d0"/>
<path d="M391.0,84.6 L391.8,86.0 L390.2,86.0Z" fill="#2020d0"/>
<path d="M318.00,89.20 L406.50,88.80" stroke="#202080" stroke-width="0.8" fill="none" />
<circle cx="319.0" cy="89.2" r="0.6" fill="#202080"/>
<circle cx="323.0" cy="89.2" r="0.6" fill="#202080"/>
<circle cx="327.0" cy="89.2" r="0.6" fill="#202080"/>
<circle cx="331.0" cy="89.1" r="0.6" fill="#202080"/>
<circle cx="335.0" cy="89.1" r="0.6" fill="#202080"/>
<circle cx="339.0" cy="89.1" r="0.6" fill="#202080"/>
<circle cx="343.0" cy="89.1" r="0.6" fill="#202080"/>
<circle cx="347.0" cy="89.1" r="0.6" fill="#202080"/>
<circle cx="351.0" cy="89.1" r="0.6" fill="#202080"/>
<circle cx="355.0" cy="89.0" r="0.6" fill="#202080"/>
<circle cx="359.0" cy="89.0" r="0.6" fill="#202080"/>
<circle cx="363.0" cy="89.0" r="0.6" fill="#202080"/>
<circle cx="367.0" cy="89.0" r="0.6" fill="#202080"/>
<circle cx="371.0" cy="89.0" r="0.6" fill="#202080"/>
<circle cx="375.0" cy="88.9" r="0.6" fill="#202080"/>
<circle cx="379.0" cy="88.9" r="0.6" fill="#202080"/>
<circle cx="383.0" cy="88.9" r="0.6" fill="#202080"/>
<circle cx="387.0" cy="88.9" r="0.6" fill="#202080"/>
<circle cx="391.0" cy="88.9" r="0.6" fill="#202080"/>
<path d="M318.00,89.60 L406.50,89.50" stroke="#8b5a2b" stroke-width="0.7" fill="none" />
<line x1="346" y1="59" x2="346" y2="90" stroke="#777" stroke-width="0.5" stroke-dasharray="1 1"/>
<text x="340" y="58" font-size="3.4" fill="#111" text-anchor="start" font-weight="normal" font-family="Liberation Sans" >7.38 MPa</text>
<text x="327" y="66" font-size="3.4" fill="#111" text-anchor="start" font-weight="normal" font-family="Liberation Sans" >Gas state</text>
<path d="M342 64.8 L345 64.8 M347.5 64.8 L350.5 64.8" stroke="#222" stroke-width="0.5"/>
<text x="358" y="66" font-size="3.4" fill="#111" text-anchor="start" font-weight="normal" font-family="Liberation Sans" >Supercritical state</text>
<line x1="328.5" y1="45" x2="320.5" y2="81.5" stroke="#222" stroke-width="0.5" />
<rect x="328.5" y="30" width="17" height="14.5" fill="#fdeef6" />
<rect x="345" y="17" width="14.600000000000023" height="13" fill="#fdeef6" />
<rect x="328.5" y="17" width="31.100000000000023" height="27.5" fill="none" stroke="#444" stroke-width="0.5"/>
<text x="327.5" y="22.0" font-size="2.8" fill="#111" text-anchor="end" font-weight="normal" font-family="Liberation Sans" >0.060</text>
<text x="327.5" y="29.45" font-size="2.8" fill="#111" text-anchor="end" font-weight="normal" font-family="Liberation Sans" >0.040</text>
<text x="327.5" y="36.9" font-size="2.8" fill="#111" text-anchor="end" font-weight="normal" font-family="Liberation Sans" >0.020</text>
<text x="327.5" y="44.35" font-size="2.8" fill="#111" text-anchor="end" font-weight="normal" font-family="Liberation Sans" >0.00</text>
<text x="328.5" y="47.7" font-size="2.8" fill="#111" text-anchor="middle" font-weight="normal" font-family="Liberation Sans" >0</text>
<text x="333.68333333333334" y="47.7" font-size="2.8" fill="#111" text-anchor="middle" font-weight="normal" font-family="Liberation Sans" >4</text>
<text x="338.8666666666667" y="47.7" font-size="2.8" fill="#111" text-anchor="middle" font-weight="normal" font-family="Liberation Sans" >8</text>
<text x="344.05" y="47.7" font-size="2.8" fill="#111" text-anchor="middle" font-weight="normal" font-family="Liberation Sans" >12</text>
<text x="349.23333333333335" y="47.7" font-size="2.8" fill="#111" text-anchor="middle" font-weight="normal" font-family="Liberation Sans" >16</text>
<text x="354.4166666666667" y="47.7" font-size="2.8" fill="#111" text-anchor="middle" font-weight="normal" font-family="Liberation Sans" >20</text>
<text x="359.6" y="47.7" font-size="2.8" fill="#111" text-anchor="middle" font-weight="normal" font-family="Liberation Sans" >24</text>
<path d="M329.00,39.30 C330.00,39.15 333.33,38.82 335.00,38.40 C336.67,37.98 337.83,37.62 339.00,36.80 C340.17,35.98 341.00,34.80 342.00,33.50 C343.00,32.20 344.00,30.33 345.00,29.00 C346.00,27.67 346.83,26.53 348.00,25.50 C349.17,24.47 350.67,23.52 352.00,22.80 C353.33,22.08 354.73,21.60 356.00,21.20 C357.27,20.80 359.00,20.53 359.60,20.40" stroke="#9a6a3a" stroke-width="1.1" fill="none" />
<circle cx="330.0" cy="39.2" r="0.5" fill="#7a4a2a"/>
<circle cx="332.0" cy="38.9" r="0.5" fill="#7a4a2a"/>
<circle cx="334.0" cy="38.6" r="0.5" fill="#7a4a2a"/>
<circle cx="336.0" cy="38.0" r="0.5" fill="#7a4a2a"/>
<circle cx="338.0" cy="37.2" r="0.5" fill="#7a4a2a"/>
<circle cx="340.0" cy="35.7" r="0.5" fill="#7a4a2a"/>
<circle cx="342.0" cy="33.5" r="0.5" fill="#7a4a2a"/>
<circle cx="344.0" cy="30.5" r="0.5" fill="#7a4a2a"/>
<circle cx="346.0" cy="27.8" r="0.5" fill="#7a4a2a"/>
<circle cx="348.0" cy="25.5" r="0.5" fill="#7a4a2a"/>
<circle cx="350.0" cy="24.2" r="0.5" fill="#7a4a2a"/>
<circle cx="352.0" cy="22.8" r="0.5" fill="#7a4a2a"/>
<circle cx="354.0" cy="22.0" r="0.5" fill="#7a4a2a"/>
<circle cx="356.0" cy="21.2" r="0.5" fill="#7a4a2a"/>
<circle cx="358.0" cy="20.8" r="0.5" fill="#7a4a2a"/>
<path d="M329.00,43.00 C330.17,42.95 333.83,42.83 336.00,42.70 C338.17,42.57 340.00,42.48 342.00,42.20 C344.00,41.92 346.00,41.32 348.00,41.00 C350.00,40.68 352.07,40.45 354.00,40.30 C355.93,40.15 358.67,40.13 359.60,40.10" stroke="#111" stroke-width="1.4" fill="none" />
<line x1="362.9" y1="17.7" x2="369.1" y2="17.7" stroke="#111" stroke-width="0.6" />
<circle cx="366.0" cy="17.7" r="0.9" fill="#111"/>
<text x="370.7" y="18.8" font-size="2.95" fill="#2a2a2a" text-anchor="start" font-weight="normal" font-family="Liberation Sans" >99.99% CO<tspan font-size='70%' dy='0.8'>2</tspan><tspan dy='-0.8'>​</tspan> + 0.01% H<tspan font-size='70%' dy='0.8'>2</tspan><tspan dy='-0.8'>​</tspan>S</text>
<line x1="362.9" y1="22.63" x2="369.1" y2="22.63" stroke="#8b5a2b" stroke-width="0.6" />
<circle cx="366.0" cy="22.6" r="0.9" fill="#8b5a2b"/>
<text x="370.7" y="23.73" font-size="2.95" fill="#2a2a2a" text-anchor="start" font-weight="normal" font-family="Liberation Sans" >99.9% CO<tspan font-size='70%' dy='0.8'>2</tspan><tspan dy='-0.8'>​</tspan> + 0.1% H<tspan font-size='70%' dy='0.8'>2</tspan><tspan dy='-0.8'>​</tspan>S</text>
<line x1="362.9" y1="27.56" x2="369.1" y2="27.56" stroke="#2020d0" stroke-width="0.6" />
<path d="M366.0,26.7 L366.9,28.3 L365.1,28.3Z" fill="#2020d0"/>
<text x="370.7" y="28.66" font-size="2.95" fill="#2a2a2a" text-anchor="start" font-weight="normal" font-family="Liberation Sans" >99% CO<tspan font-size='70%' dy='0.8'>2</tspan><tspan dy='-0.8'>​</tspan> + 1% H<tspan font-size='70%' dy='0.8'>2</tspan><tspan dy='-0.8'>​</tspan>S</text>
<line x1="362.9" y1="32.489999999999995" x2="369.1" y2="32.489999999999995" stroke="#303090" stroke-width="0.6" />
<path d="M366.0,31.6 L366.9,33.2 L365.1,33.2Z" fill="#303090"/>
<text x="370.7" y="33.589999999999996" font-size="2.95" fill="#2a2a2a" text-anchor="start" font-weight="normal" font-family="Liberation Sans" >95% CO<tspan font-size='70%' dy='0.8'>2</tspan><tspan dy='-0.8'>​</tspan> + 5% H<tspan font-size='70%' dy='0.8'>2</tspan><tspan dy='-0.8'>​</tspan>S</text>
<line x1="362.9" y1="37.42" x2="369.1" y2="37.42" stroke="#9a70e8" stroke-width="0.6" />
<path d="M366.0,36.5 L366.9,38.1 L365.1,38.1Z" fill="#9a70e8"/>
<text x="370.7" y="38.52" font-size="2.95" fill="#2a2a2a" text-anchor="start" font-weight="normal" font-family="Liberation Sans" >90% CO<tspan font-size='70%' dy='0.8'>2</tspan><tspan dy='-0.8'>​</tspan> + 10% H<tspan font-size='70%' dy='0.8'>2</tspan><tspan dy='-0.8'>​</tspan>S</text>
<text x="389" y="55" font-size="7.5" fill="#111" text-anchor="start" font-weight="bold" font-family="Liberation Serif" >(c)</text>
<defs><filter id="n1" x="0" y="0" width="100%" height="100%" color-interpolation-filters="sRGB"><feTurbulence type="fractalNoise" baseFrequency="0.6" numOctaves="2" seed="3" result="t"/><feColorMatrix in="t" type="matrix" values="0.33 0.33 0.33 0 0  0.33 0.33 0.33 0 0  0.33 0.33 0.33 0 0  0 0 0 0 1"/><feComponentTransfer><feFuncR type="linear" slope="0.3" intercept="0.1"/><feFuncG type="linear" slope="0.3" intercept="0.11"/><feFuncB type="linear" slope="0.3" intercept="0.12000000000000001"/></feComponentTransfer><feGaussianBlur stdDeviation="0.35"/></filter><filter id="n2" x="0" y="0" width="100%" height="100%" color-interpolation-filters="sRGB"><feTurbulence type="fractalNoise" baseFrequency="0.7" numOctaves="2" seed="8" result="t"/><feColorMatrix in="t" type="matrix" values="0.33 0.33 0.33 0 0  0.33 0.33 0.33 0 0  0.33 0.33 0.33 0 0  0 0 0 0 1"/><feComponentTransfer><feFuncR type="linear" slope="0.5" intercept="0.07"/><feFuncG type="linear" slope="0.5" intercept="0.08"/><feFuncB type="linear" slope="0.5" intercept="0.09000000000000001"/></feComponentTransfer><feGaussianBlur stdDeviation="0.35"/></filter><filter id="n3" x="0" y="0" width="100%" height="100%" color-interpolation-filters="sRGB"><feTurbulence type="fractalNoise" baseFrequency="0.3" numOctaves="3" seed="11" result="t"/><feColorMatrix in="t" type="matrix" values="0.33 0.33 0.33 0 0  0.33 0.33 0.33 0 0  0.33 0.33 0.33 0 0  0 0 0 0 1"/><feComponentTransfer><feFuncR type="linear" slope="0.5" intercept="0.36"/><feFuncG type="linear" slope="0.5" intercept="0.37"/><feFuncB type="linear" slope="0.5" intercept="0.38"/></feComponentTransfer><feGaussianBlur stdDeviation="0.35"/></filter><filter id="n4" x="0" y="0" width="100%" height="100%" color-interpolation-filters="sRGB"><feTurbulence type="fractalNoise" baseFrequency="0.35" numOctaves="3" seed="21" result="t"/><feColorMatrix in="t" type="matrix" values="0.33 0.33 0.33 0 0  0.33 0.33 0.33 0 0  0.33 0.33 0.33 0 0  0 0 0 0 1"/><feComponentTransfer><feFuncR type="linear" slope="0.55" intercept="0.3"/><feFuncG type="linear" slope="0.55" intercept="0.31"/><feFuncB type="linear" slope="0.55" intercept="0.32"/></feComponentTransfer><feGaussianBlur stdDeviation="0.35"/></filter><filter id="n5" x="0" y="0" width="100%" height="100%" color-interpolation-filters="sRGB"><feTurbulence type="fractalNoise" baseFrequency="0.5" numOctaves="2" seed="5" result="t"/><feColorMatrix in="t" type="matrix" values="0.33 0.33 0.33 0 0  0.33 0.33 0.33 0 0  0.33 0.33 0.33 0 0  0 0 0 0 1"/><feComponentTransfer><feFuncR type="linear" slope="0.8" intercept="0.05"/><feFuncG type="linear" slope="0.8" intercept="0.060000000000000005"/><feFuncB type="linear" slope="0.8" intercept="0.07"/></feComponentTransfer><feGaussianBlur stdDeviation="0.35"/></filter><filter id="L3" x="0" y="0" width="100%" height="100%" color-interpolation-filters="sRGB"><feTurbulence type="fractalNoise" baseFrequency="0.07" numOctaves="3" seed="11" result="n"/><feDiffuseLighting in="n" surfaceScale="3.5" diffuseConstant="1" lighting-color="#fff"><feDistantLight azimuth="225" elevation="50"/></feDiffuseLighting><feComponentTransfer><feFuncR type="linear" slope="0.42" intercept="0.33"/><feFuncG type="linear" slope="0.42" intercept="0.33"/><feFuncB type="linear" slope="0.42" intercept="0.33"/></feComponentTransfer><feGaussianBlur stdDeviation="0.3"/></filter><filter id="L4a" x="0" y="0" width="100%" height="100%" color-interpolation-filters="sRGB"><feTurbulence type="fractalNoise" baseFrequency="0.08" numOctaves="3" seed="21" result="n"/><feDiffuseLighting in="n" surfaceScale="3.0" diffuseConstant="1" lighting-color="#fff"><feDistantLight azimuth="225" elevation="50"/></feDiffuseLighting><feComponentTransfer><feFuncR type="linear" slope="0.4" intercept="0.27"/><feFuncG type="linear" slope="0.4" intercept="0.27"/><feFuncB type="linear" slope="0.4" intercept="0.27"/></feComponentTransfer><feGaussianBlur stdDeviation="0.3"/></filter><filter id="L4b" x="0" y="0" width="100%" height="100%" color-interpolation-filters="sRGB"><feTurbulence type="fractalNoise" baseFrequency="0.14" numOctaves="4" seed="23" result="n"/><feDiffuseLighting in="n" surfaceScale="4" diffuseConstant="1" lighting-color="#fff"><feDistantLight azimuth="225" elevation="50"/></feDiffuseLighting><feComponentTransfer><feFuncR type="linear" slope="0.5" intercept="0.24"/><feFuncG type="linear" slope="0.5" intercept="0.24"/><feFuncB type="linear" slope="0.5" intercept="0.24"/></feComponentTransfer><feGaussianBlur stdDeviation="0.3"/></filter></defs>
<rect x="440" y="7.6" width="47.5" height="4" fill="#b8f4f0" />
<rect x="488" y="7.6" width="56" height="4" fill="#b8f4f0" />
<text x="463.5" y="10.8" font-size="3.2" fill="#1a8a3a" text-anchor="middle" font-weight="normal" font-family="Liberation Sans" >2000 ppm H<tspan font-size='70%' dy='0.8'>2</tspan><tspan dy='-0.8'>​</tspan>O</text>
<text x="516" y="10.8" font-size="3.2" fill="#1a8a3a" text-anchor="middle" font-weight="normal" font-family="Liberation Sans" >4000 ppm H<tspan font-size='70%' dy='0.8'>2</tspan><tspan dy='-0.8'>​</tspan>O</text>
<rect x="425.5" y="24" width="4" height="18" fill="#e8fafa" />
<rect x="430" y="12.5" width="56" height="29" fill="#2a3ab8" />
<rect x="430" y="12.5" width="56" height="3.6" fill="url(#dbar)" />
<rect x="430.6" y="16.1" width="54.8" height="24.6" fill="#555" filter="url(#n1)"/>
<ellipse cx="438" cy="26.8" rx="4.2" ry="5" fill="#121a2c"/>
<ellipse cx="439" cy="28.3" rx="2.8" ry="3.4" fill="#2a40a8" opacity="0.55"/>
<line x1="471" y1="39.6" x2="484" y2="39.6" stroke="#eee" stroke-width="0.6" />
<text x="478" y="39" font-size="2.4" fill="#eee" text-anchor="middle" font-weight="normal" font-family="Liberation Sans" >1 mm</text>
<rect x="488" y="12.5" width="56" height="29" fill="#2a3ab8" />
<rect x="488" y="12.5" width="56" height="3.6" fill="url(#dbar)" />
<rect x="488.6" y="16.1" width="54.8" height="24.6" fill="#555" filter="url(#n2)"/>
<ellipse cx="496" cy="26.8" rx="4.2" ry="5" fill="#121a2c"/>
<ellipse cx="497" cy="28.3" rx="2.8" ry="3.4" fill="#2a40a8" opacity="0.55"/>
<line x1="529" y1="39.6" x2="542" y2="39.6" stroke="#eee" stroke-width="0.6" />
<text x="536" y="39" font-size="2.4" fill="#eee" text-anchor="middle" font-weight="normal" font-family="Liberation Sans" >1 mm</text>
<circle cx="500.5" cy="18.7" r="0.29" fill="#c8c8b8"/><circle cx="501.9" cy="38.8" r="0.31" fill="#909080"/><circle cx="532.6" cy="19.5" r="0.26" fill="#909080"/><circle cx="502.6" cy="21.5" r="0.36" fill="#909080"/><circle cx="517.7" cy="39.9" r="0.28" fill="#b0b0a0"/><circle cx="533.1" cy="37.3" r="0.30" fill="#c8c8b8"/><circle cx="514.2" cy="24.8" r="0.30" fill="#b0b0a0"/><circle cx="509.3" cy="30.0" r="0.27" fill="#909080"/><circle cx="502.2" cy="20.3" r="0.30" fill="#b0b0a0"/><circle cx="536.0" cy="39.7" r="0.27" fill="#b0b0a0"/><circle cx="522.8" cy="26.5" r="0.30" fill="#b0b0a0"/><circle cx="518.6" cy="24.8" r="0.41" fill="#c8c8b8"/><circle cx="509.4" cy="17.0" r="0.32" fill="#c8c8b8"/><circle cx="524.6" cy="27.6" r="0.46" fill="#909080"/><circle cx="541.3" cy="39.4" r="0.45" fill="#b0b0a0"/><circle cx="513.2" cy="20.2" r="0.48" fill="#909080"/><circle cx="536.0" cy="23.1" r="0.30" fill="#b0b0a0"/><circle cx="539.6" cy="30.4" r="0.49" fill="#909080"/><circle cx="528.8" cy="22.8" r="0.41" fill="#c8c8b8"/><circle cx="542.6" cy="20.7" r="0.30" fill="#c8c8b8"/><circle cx="514.4" cy="25.7" r="0.39" fill="#b0b0a0"/><circle cx="505.1" cy="18.4" r="0.28" fill="#909080"/><circle cx="508.3" cy="24.0" r="0.50" fill="#909080"/><circle cx="506.5" cy="17.4" r="0.45" fill="#909080"/><circle cx="512.0" cy="24.9" r="0.37" fill="#909080"/><circle cx="525.4" cy="36.5" r="0.28" fill="#c8c8b8"/><circle cx="531.2" cy="32.6" r="0.31" fill="#b0b0a0"/><circle cx="532.9" cy="39.6" r="0.31" fill="#c8c8b8"/><circle cx="504.2" cy="30.0" r="0.29" fill="#c8c8b8"/><circle cx="501.9" cy="19.0" r="0.26" fill="#909080"/><circle cx="526.4" cy="21.0" r="0.49" fill="#b0b0a0"/><circle cx="537.3" cy="32.5" r="0.36" fill="#909080"/><circle cx="529.9" cy="28.6" r="0.35" fill="#909080"/><circle cx="522.5" cy="33.2" r="0.33" fill="#c8c8b8"/><circle cx="535.2" cy="23.8" r="0.28" fill="#c8c8b8"/><circle cx="533.7" cy="33.9" r="0.42" fill="#c8c8b8"/><circle cx="524.9" cy="20.0" r="0.28" fill="#909080"/><circle cx="518.3" cy="19.4" r="0.47" fill="#c8c8b8"/><circle cx="508.8" cy="37.4" r="0.39" fill="#c8c8b8"/><circle cx="510.4" cy="34.7" r="0.48" fill="#909080"/><circle cx="501.6" cy="27.3" r="0.31" fill="#c8c8b8"/><circle cx="508.7" cy="35.5" r="0.30" fill="#c8c8b8"/><circle cx="501.4" cy="26.6" r="0.30" fill="#909080"/><circle cx="509.2" cy="24.3" r="0.49" fill="#909080"/><circle cx="504.8" cy="21.2" r="0.47" fill="#b0b0a0"/><circle cx="529.8" cy="37.3" r="0.48" fill="#c8c8b8"/><circle cx="511.9" cy="20.4" r="0.27" fill="#b0b0a0"/><circle cx="506.6" cy="35.4" r="0.50" fill="#b0b0a0"/><circle cx="511.9" cy="22.5" r="0.33" fill="#c8c8b8"/><circle cx="539.2" cy="29.9" r="0.47" fill="#c8c8b8"/><circle cx="541.7" cy="21.7" r="0.46" fill="#b0b0a0"/><circle cx="523.3" cy="23.7" r="0.42" fill="#b0b0a0"/><circle cx="530.4" cy="16.5" r="0.37" fill="#909080"/><circle cx="513.2" cy="27.3" r="0.33" fill="#c8c8b8"/><circle cx="516.7" cy="32.3" r="0.47" fill="#909080"/><circle cx="533.0" cy="17.2" r="0.31" fill="#909080"/><circle cx="530.4" cy="17.2" r="0.42" fill="#c8c8b8"/><circle cx="513.9" cy="39.6" r="0.27" fill="#909080"/><circle cx="510.7" cy="27.8" r="0.29" fill="#c8c8b8"/><circle cx="502.0" cy="23.5" r="0.48" fill="#b0b0a0"/><circle cx="509.7" cy="36.7" r="0.29" fill="#909080"/><circle cx="501.0" cy="35.3" r="0.32" fill="#c8c8b8"/><circle cx="532.6" cy="32.0" r="0.48" fill="#b0b0a0"/><circle cx="535.6" cy="33.5" r="0.31" fill="#c8c8b8"/><circle cx="542.7" cy="27.2" r="0.26" fill="#c8c8b8"/><circle cx="524.5" cy="37.8" r="0.40" fill="#c8c8b8"/><circle cx="508.7" cy="21.3" r="0.42" fill="#b0b0a0"/><circle cx="536.1" cy="16.9" r="0.35" fill="#909080"/><circle cx="532.3" cy="19.3" r="0.45" fill="#909080"/><circle cx="541.1" cy="28.4" r="0.36" fill="#c8c8b8"/><circle cx="523.9" cy="34.8" r="0.26" fill="#c8c8b8"/><circle cx="537.5" cy="23.4" r="0.47" fill="#909080"/><circle cx="505.4" cy="25.1" r="0.32" fill="#b0b0a0"/><circle cx="514.7" cy="38.1" r="0.46" fill="#c8c8b8"/><circle cx="525.7" cy="35.7" r="0.34" fill="#c8c8b8"/><circle cx="508.0" cy="21.4" r="0.45" fill="#c8c8b8"/><circle cx="541.5" cy="18.8" r="0.43" fill="#b0b0a0"/><circle cx="513.3" cy="32.0" r="0.36" fill="#c8c8b8"/><circle cx="503.4" cy="18.3" r="0.47" fill="#909080"/><circle cx="520.5" cy="19.4" r="0.37" fill="#c8c8b8"/><circle cx="502.7" cy="30.4" r="0.46" fill="#c8c8b8"/><circle cx="513.2" cy="17.4" r="0.28" fill="#c8c8b8"/><circle cx="530.4" cy="30.7" r="0.47" fill="#909080"/><circle cx="523.7" cy="30.2" r="0.32" fill="#b0b0a0"/><circle cx="523.4" cy="34.9" r="0.36" fill="#909080"/><circle cx="513.7" cy="30.5" r="0.31" fill="#909080"/><circle cx="503.2" cy="30.7" r="0.42" fill="#b0b0a0"/><circle cx="506.1" cy="39.0" r="0.45" fill="#909080"/><circle cx="537.4" cy="19.4" r="0.49" fill="#c8c8b8"/><circle cx="507.4" cy="28.3" r="0.47" fill="#909080"/><circle cx="515.3" cy="25.3" r="0.46" fill="#b0b0a0"/><circle cx="514.4" cy="28.0" r="0.44" fill="#909080"/><circle cx="531.0" cy="27.6" r="0.29" fill="#c8c8b8"/><circle cx="530.4" cy="33.7" r="0.37" fill="#909080"/><circle cx="540.5" cy="19.2" r="0.44" fill="#b0b0a0"/><circle cx="539.0" cy="30.4" r="0.27" fill="#b0b0a0"/><circle cx="500.8" cy="17.2" r="0.39" fill="#c8c8b8"/><circle cx="510.2" cy="24.9" r="0.32" fill="#c8c8b8"/><circle cx="502.2" cy="23.1" r="0.27" fill="#b0b0a0"/><circle cx="517.4" cy="28.3" r="0.41" fill="#b0b0a0"/><circle cx="514.8" cy="29.0" r="0.49" fill="#c8c8b8"/><circle cx="537.1" cy="32.9" r="0.33" fill="#b0b0a0"/><circle cx="510.7" cy="36.9" r="0.37" fill="#909080"/><circle cx="533.4" cy="28.5" r="0.43" fill="#c8c8b8"/><circle cx="537.9" cy="20.0" r="0.43" fill="#c8c8b8"/><circle cx="527.2" cy="21.8" r="0.39" fill="#b0b0a0"/><circle cx="506.4" cy="32.6" r="0.42" fill="#909080"/><circle cx="538.6" cy="22.7" r="0.37" fill="#b0b0a0"/><circle cx="514.8" cy="19.9" r="0.42" fill="#c8c8b8"/><circle cx="540.4" cy="22.7" r="0.42" fill="#c8c8b8"/><circle cx="541.0" cy="39.2" r="0.34" fill="#c8c8b8"/><circle cx="527.8" cy="20.8" r="0.39" fill="#c8c8b8"/><circle cx="542.2" cy="17.0" r="0.38" fill="#c8c8b8"/><circle cx="522.8" cy="30.2" r="0.36" fill="#c8c8b8"/><circle cx="522.0" cy="32.8" r="0.46" fill="#909080"/><circle cx="533.0" cy="27.8" r="0.44" fill="#909080"/><circle cx="501.2" cy="21.8" r="0.26" fill="#909080"/><circle cx="516.9" cy="36.7" r="0.32" fill="#c8c8b8"/><circle cx="519.5" cy="19.8" r="0.31" fill="#909080"/><circle cx="508.0" cy="27.8" r="0.28" fill="#b0b0a0"/>
<rect x="429.5" y="42.6" width="55.8" height="48.6" fill="#999" filter="url(#L3)"/>
<rect x="487.6" y="42.6" width="55.7" height="48.6" fill="#999" filter="url(#L4a)"/>
<rect x="487.6" y="42.6" width="55.7" height="48.6" fill="#999" filter="url(#L4b)" mask="url(#d4mask)"/>
<path d="M463.6 46.8 C468 48.5, 472 51, 473.9 56 C475 59.5, 479.5 60.5, 479 64 C478.5 68.5, 477.5 71, 473.9 74" stroke="#f6f6f6" stroke-width="1.1" fill="none"/>
<path d="M500 64.5 L516 60.5" stroke="#111" stroke-width="0.9"/><path d="M519 59.8 L514.5 58.6 L515.8 62.6 Z" fill="#111"/>
<rect x="429.5" y="92.4" width="55.8" height="49.2" fill="#d6d6d6" />
<rect x="429.5" y="118" width="55.8" height="5" fill="#c8c8c8" />
<rect x="429.5" y="92.4" width="55.8" height="20" fill="#4b4b4b" />
<path d="M429.5 112 L432 111 L435 112.5 L437 106 L442 104.5 L448 105 L454 106.5 L458 108 L461 110.5 L466 110 L474 110.5 L485.3 110.8 L485.3 119.5 L470 119.5 L461 121.5 L452 122 L445 121.8 L438 121 L432 120.5 L429.5 120.5 Z" fill="#9a9a9a"/>
<path d="M437 106.5 L442 105 L448 105.5 L454 107 L458 108.5 L460.5 111 L460 119 L452 120.5 L444 120 L438 119 L436.5 112 Z" fill="#a8a8a8"/>
<path d="M461 112 L474 111.5 L485.3 112 L485.3 118.5 L470 118.8 L461 119.5 Z" fill="#bcbcbc"/>
<path d="M437 106.5 L442 105 L448 105.5 L454 107 L458 108.5" stroke="#b8b8b8" stroke-width="0.6" fill="none"/>
<line x1="443.9" y1="104" x2="443.9" y2="141" stroke="#f4f4f4" stroke-width="0.45" />
<text x="476" y="128" font-size="2.4" fill="#1a1a1a" text-anchor="start" font-weight="normal" font-family="Liberation Sans" >Steel</text>
<text x="476" y="138" font-size="2.4" fill="#1a1a1a" text-anchor="start" font-weight="normal" font-family="Liberation Sans" >75 μm</text>
<line x1="475" y1="139.3" x2="484" y2="139.3" stroke="#555" stroke-width="0.4" />
<rect x="487.6" y="92.4" width="55.7" height="49.2" fill="#d4d4d4" />
<rect x="487.6" y="92.4" width="55.7" height="25.2" fill="#4e4e4e" />
<rect x="487.6" y="117.4" width="55.7" height="1.6" fill="#bcbcbc" />
<path d="M527 117.6 L529.5 115.8 L531 114.6 L532.5 115.8 L535 117.6 Z" fill="#9a9a9a"/>
<rect x="487.8" y="120.2" width="28.4" height="17.2" fill="#575757" />
<path d="M487.8 127.5 L492 126 L497 124.5 L502 124 L507 125 L512 126.5 L516.2 127 L516.2 137.4 L487.8 137.4 Z" fill="#9c9c9c"/>
<path d="M487.8 131 L516.2 131 L516.2 137.4 L487.8 137.4 Z" fill="#a4a4a4"/>
<line x1="496.7" y1="120.5" x2="496.7" y2="137" stroke="#f4f4f4" stroke-width="0.45" />
<rect x="488.6" y="112.4" width="14.6" height="6" fill="#e8a0b0" opacity="0.7" stroke="#e05070" stroke-width="0.5"/>
<text x="531" y="108" font-size="2.4" fill="#f0f0f0" text-anchor="middle" font-weight="normal" font-family="Liberation Sans" >Corrosion product</text>
<line x1="531" y1="109" x2="531" y2="114" stroke="#eee" stroke-width="0.4" />
<text x="533" y="129.5" font-size="2.4" fill="#1a1a1a" text-anchor="start" font-weight="normal" font-family="Liberation Sans" >Steel</text>
<text x="533" y="138" font-size="2.4" fill="#1a1a1a" text-anchor="start" font-weight="normal" font-family="Liberation Sans" >100 μm</text>
<line x1="532" y1="139.3" x2="542" y2="139.3" stroke="#555" stroke-width="0.4" />
<rect x="430" y="13" width="14" height="7" fill="#fff" />
<text x="430.3" y="19.2" font-size="7.5" fill="#111" text-anchor="start" font-weight="bold" font-family="Liberation Serif" >(d1)</text>
<rect x="488" y="13" width="14" height="7" fill="#fff" />
<text x="488.3" y="19.2" font-size="7.5" fill="#111" text-anchor="start" font-weight="bold" font-family="Liberation Serif" >(d2)</text>
<rect x="430" y="43" width="14" height="7" fill="#fff" />
<text x="430.3" y="49.2" font-size="7.5" fill="#111" text-anchor="start" font-weight="bold" font-family="Liberation Serif" >(d3)</text>
<rect x="488" y="43" width="14" height="7" fill="#fff" />
<text x="488.3" y="49.2" font-size="7.5" fill="#111" text-anchor="start" font-weight="bold" font-family="Liberation Serif" >(d4)</text>
<rect x="430" y="92.8" width="14" height="7" fill="#fff" />
<text x="430.3" y="99.0" font-size="7.5" fill="#111" text-anchor="start" font-weight="bold" font-family="Liberation Serif" >(d5)</text>
<rect x="488" y="92.8" width="14" height="7" fill="#fff" />
<text x="488.3" y="99.0" font-size="7.5" fill="#111" text-anchor="start" font-weight="bold" font-family="Liberation Serif" >(d6)</text>
<text x="408.6" y="26" font-size="2.85" fill="#1a1a1a" text-anchor="start" font-weight="normal" font-family="Liberation Sans" >Macroscopic</text>
<text x="408.6" y="30.6" font-size="2.85" fill="#1a1a1a" text-anchor="start" font-weight="normal" font-family="Liberation Sans" >morphology</text>
<text x="408.6" y="66" font-size="2.85" fill="#1a1a1a" text-anchor="start" font-weight="normal" font-family="Liberation Sans" >SEM surface</text>
<text x="408.6" y="70.6" font-size="2.85" fill="#1a1a1a" text-anchor="start" font-weight="normal" font-family="Liberation Sans" >morphology</text>
<text x="408.6" y="115.4" font-size="2.85" fill="#1a1a1a" text-anchor="start" font-weight="normal" font-family="Liberation Sans" >Cross-sectional</text>
<text x="408.6" y="120.0" font-size="2.85" fill="#1a1a1a" text-anchor="start" font-weight="normal" font-family="Liberation Sans" >morphology</text>
<text x="408.6" y="162.3" font-size="2.85" fill="#1a1a1a" text-anchor="start" font-weight="normal" font-family="Liberation Sans" >Elemental</text>
<text x="408.6" y="166.9" font-size="2.85" fill="#1a1a1a" text-anchor="start" font-weight="normal" font-family="Liberation Sans" >distribution</text>
<rect x="433.4" y="172" width="52.60000000000002" height="15.199999999999989" fill="#fdf0f4" />
<path d="M433.4 143.5 L433.4 187.2 L486 187.2 L486 143.5" fill="none" stroke="#555" stroke-width="0.5"/>
<path d="M433.50,143.70 C434.08,146.58 435.75,155.68 437.00,161.00 C438.25,166.32 439.50,172.02 441.00,175.60 C442.50,179.18 443.67,181.02 446.00,182.50 C448.33,183.98 448.33,184.08 455.00,184.50 C461.67,184.92 480.83,184.92 486.00,185.00" stroke="#8cc8e8" stroke-width="0.8" fill="none" />
<circle cx="434.0" cy="146.2" r="0.55" fill="#8cc8e8"/>
<circle cx="437.5" cy="162.8" r="0.55" fill="#8cc8e8"/>
<circle cx="441.0" cy="175.6" r="0.55" fill="#8cc8e8"/>
<circle cx="444.5" cy="180.4" r="0.55" fill="#8cc8e8"/>
<circle cx="448.0" cy="182.9" r="0.55" fill="#8cc8e8"/>
<circle cx="451.5" cy="183.7" r="0.55" fill="#8cc8e8"/>
<circle cx="455.0" cy="184.5" r="0.55" fill="#8cc8e8"/>
<circle cx="458.5" cy="184.6" r="0.55" fill="#8cc8e8"/>
<circle cx="462.0" cy="184.6" r="0.55" fill="#8cc8e8"/>
<circle cx="465.5" cy="184.7" r="0.55" fill="#8cc8e8"/>
<circle cx="469.0" cy="184.7" r="0.55" fill="#8cc8e8"/>
<circle cx="472.5" cy="184.8" r="0.55" fill="#8cc8e8"/>
<circle cx="476.0" cy="184.8" r="0.55" fill="#8cc8e8"/>
<circle cx="479.5" cy="184.9" r="0.55" fill="#8cc8e8"/>
<circle cx="483.0" cy="185.0" r="0.55" fill="#8cc8e8"/>
<path d="M433.50,181.70 C434.08,180.68 435.75,177.10 437.00,175.60 C438.25,174.10 439.67,173.13 441.00,172.70 C442.33,172.27 443.83,172.43 445.00,173.00 C446.17,173.57 446.33,175.52 448.00,176.10 C449.67,176.68 453.00,176.30 455.00,176.50 C457.00,176.70 458.50,177.17 460.00,177.30 C461.50,177.43 462.67,177.43 464.00,177.30 C465.33,177.17 466.67,175.77 468.00,176.50 C469.33,177.23 470.67,180.55 472.00,181.70 C473.33,182.85 473.67,182.85 476.00,183.40 C478.33,183.95 484.33,184.73 486.00,185.00" stroke="#e89060" stroke-width="0.8" fill="none" />
<circle cx="434.0" cy="180.8" r="0.6" fill="#d87040"/>
<circle cx="437.5" cy="175.2" r="0.6" fill="#d87040"/>
<circle cx="441.0" cy="172.7" r="0.6" fill="#d87040"/>
<circle cx="444.5" cy="173.0" r="0.6" fill="#d87040"/>
<circle cx="448.0" cy="176.1" r="0.6" fill="#d87040"/>
<circle cx="451.5" cy="176.3" r="0.6" fill="#d87040"/>
<circle cx="455.0" cy="176.5" r="0.6" fill="#d87040"/>
<circle cx="458.5" cy="177.1" r="0.6" fill="#d87040"/>
<circle cx="462.0" cy="177.3" r="0.6" fill="#d87040"/>
<circle cx="465.5" cy="177.0" r="0.6" fill="#d87040"/>
<circle cx="469.0" cy="177.8" r="0.6" fill="#d87040"/>
<circle cx="472.5" cy="181.9" r="0.6" fill="#d87040"/>
<circle cx="476.0" cy="183.4" r="0.6" fill="#d87040"/>
<circle cx="479.5" cy="184.0" r="0.6" fill="#d87040"/>
<circle cx="483.0" cy="184.5" r="0.6" fill="#d87040"/>
<path d="M433.50,185.50 C434.75,184.87 438.92,183.48 441.00,181.70 C443.08,179.92 444.33,177.10 446.00,174.80 C447.67,172.50 449.50,169.12 451.00,167.90 C452.50,166.68 453.50,167.37 455.00,167.50 C456.50,167.63 458.33,168.07 460.00,168.70 C461.67,169.33 463.67,170.42 465.00,171.30 C466.33,172.18 467.00,172.27 468.00,174.00 C469.00,175.73 470.00,180.00 471.00,181.70 C472.00,183.40 471.50,183.65 474.00,184.20 C476.50,184.75 484.00,184.87 486.00,185.00" stroke="#4848d8" stroke-width="0.8" fill="none" />
<path d="M434.0,184.6 L434.6,185.8 L433.4,185.8Z" fill="#3030c0"/>
<path d="M437.5,182.8 L438.1,184.0 L436.9,184.0Z" fill="#3030c0"/>
<path d="M441.0,181.1 L441.6,182.2 L440.4,182.2Z" fill="#3030c0"/>
<path d="M444.5,176.2 L445.1,177.4 L443.9,177.4Z" fill="#3030c0"/>
<path d="M448.0,171.4 L448.6,172.6 L447.4,172.6Z" fill="#3030c0"/>
<path d="M451.5,167.2 L452.1,168.4 L450.9,168.4Z" fill="#3030c0"/>
<path d="M455.0,166.9 L455.6,168.0 L454.4,168.0Z" fill="#3030c0"/>
<path d="M458.5,167.7 L459.1,168.9 L457.9,168.9Z" fill="#3030c0"/>
<path d="M462.0,169.1 L462.6,170.3 L461.4,170.3Z" fill="#3030c0"/>
<path d="M465.5,171.1 L466.1,172.3 L464.9,172.3Z" fill="#3030c0"/>
<path d="M469.0,175.9 L469.6,177.1 L468.4,177.1Z" fill="#3030c0"/>
<path d="M472.5,182.3 L473.1,183.5 L471.9,183.5Z" fill="#3030c0"/>
<path d="M476.0,183.7 L476.6,184.9 L475.4,184.9Z" fill="#3030c0"/>
<path d="M479.5,183.9 L480.1,185.1 L478.9,185.1Z" fill="#3030c0"/>
<path d="M483.0,184.1 L483.6,185.3 L482.4,185.3Z" fill="#3030c0"/>
<path d="M433.50,185.10 C434.08,184.08 435.92,180.72 437.00,179.00 C438.08,177.28 438.33,175.93 440.00,174.80 C441.67,173.67 444.67,172.78 447.00,172.20 C449.33,171.62 451.83,171.30 454.00,171.30 C456.17,171.30 458.17,171.77 460.00,172.20 C461.83,172.63 463.67,173.33 465.00,173.90 C466.33,174.47 466.83,175.75 468.00,175.60 C469.17,175.45 470.67,173.28 472.00,173.00 C473.33,172.72 474.50,175.18 476.00,173.90 C477.50,172.62 479.67,167.32 481.00,165.30 C482.33,163.28 483.25,162.60 484.00,161.80 C484.75,161.00 485.25,160.72 485.50,160.50" stroke="#222" stroke-width="0.8" fill="none" />
<rect x="433.4" y="183.6" width="1.2" height="1.2" fill="#111"/>
<rect x="436.9" y="177.7" width="1.2" height="1.2" fill="#111"/>
<rect x="440.4" y="173.8" width="1.2" height="1.2" fill="#111"/>
<rect x="443.9" y="172.5" width="1.2" height="1.2" fill="#111"/>
<rect x="447.4" y="171.5" width="1.2" height="1.2" fill="#111"/>
<rect x="450.9" y="171.0" width="1.2" height="1.2" fill="#111"/>
<rect x="454.4" y="170.8" width="1.2" height="1.2" fill="#111"/>
<rect x="457.9" y="171.4" width="1.2" height="1.2" fill="#111"/>
<rect x="461.4" y="172.3" width="1.2" height="1.2" fill="#111"/>
<rect x="464.9" y="173.6" width="1.2" height="1.2" fill="#111"/>
<rect x="468.4" y="174.4" width="1.2" height="1.2" fill="#111"/>
<rect x="471.9" y="172.5" width="1.2" height="1.2" fill="#111"/>
<rect x="475.4" y="173.3" width="1.2" height="1.2" fill="#111"/>
<rect x="478.9" y="167.3" width="1.2" height="1.2" fill="#111"/>
<rect x="482.4" y="162.4" width="1.2" height="1.2" fill="#111"/>
<line x1="477.5" y1="145.5" x2="481.5" y2="145.5" stroke="#111" stroke-width="0.5" />
<circle cx="479.5" cy="145.5" r="0.65" fill="#111"/>
<text x="482.5" y="146.5" font-size="2.6" fill="#111" text-anchor="start" font-weight="normal" font-family="Liberation Sans" >Fe</text>
<line x1="477.5" y1="148.7" x2="481.5" y2="148.7" stroke="#e07840" stroke-width="0.5" />
<circle cx="479.5" cy="148.7" r="0.65" fill="#e07840"/>
<text x="482.5" y="149.7" font-size="2.6" fill="#111" text-anchor="start" font-weight="normal" font-family="Liberation Sans" >O</text>
<line x1="477.5" y1="151.9" x2="481.5" y2="151.9" stroke="#3030c0" stroke-width="0.5" />
<circle cx="479.5" cy="151.9" r="0.65" fill="#3030c0"/>
<text x="482.5" y="152.9" font-size="2.6" fill="#111" text-anchor="start" font-weight="normal" font-family="Liberation Sans" >S</text>
<line x1="477.5" y1="155.1" x2="481.5" y2="155.1" stroke="#80c8e8" stroke-width="0.5" />
<circle cx="479.5" cy="155.1" r="0.65" fill="#80c8e8"/>
<text x="482.5" y="156.1" font-size="2.6" fill="#111" text-anchor="start" font-weight="normal" font-family="Liberation Sans" >C</text>
<line x1="433.4" y1="187.2" x2="433.4" y2="186.2" stroke="#555" stroke-width="0.4" />
<text x="433.4" y="190.3" font-size="2.5" fill="#111" text-anchor="middle" font-weight="normal" font-family="Liberation Sans" >0</text>
<line x1="439.97499999999997" y1="187.2" x2="439.97499999999997" y2="186.2" stroke="#555" stroke-width="0.4" />
<text x="439.97499999999997" y="190.3" font-size="2.5" fill="#111" text-anchor="middle" font-weight="normal" font-family="Liberation Sans" >1</text>
<line x1="446.54999999999995" y1="187.2" x2="446.54999999999995" y2="186.2" stroke="#555" stroke-width="0.4" />
<text x="446.54999999999995" y="190.3" font-size="2.5" fill="#111" text-anchor="middle" font-weight="normal" font-family="Liberation Sans" >2</text>
<line x1="453.125" y1="187.2" x2="453.125" y2="186.2" stroke="#555" stroke-width="0.4" />
<text x="453.125" y="190.3" font-size="2.5" fill="#111" text-anchor="middle" font-weight="normal" font-family="Liberation Sans" >3</text>
<line x1="459.7" y1="187.2" x2="459.7" y2="186.2" stroke="#555" stroke-width="0.4" />
<text x="459.7" y="190.3" font-size="2.5" fill="#111" text-anchor="middle" font-weight="normal" font-family="Liberation Sans" >4</text>
<line x1="466.275" y1="187.2" x2="466.275" y2="186.2" stroke="#555" stroke-width="0.4" />
<text x="466.275" y="190.3" font-size="2.5" fill="#111" text-anchor="middle" font-weight="normal" font-family="Liberation Sans" >5</text>
<line x1="472.85" y1="187.2" x2="472.85" y2="186.2" stroke="#555" stroke-width="0.4" />
<text x="472.85" y="190.3" font-size="2.5" fill="#111" text-anchor="middle" font-weight="normal" font-family="Liberation Sans" >6</text>
<line x1="479.425" y1="187.2" x2="479.425" y2="186.2" stroke="#555" stroke-width="0.4" />
<text x="479.425" y="190.3" font-size="2.5" fill="#111" text-anchor="middle" font-weight="normal" font-family="Liberation Sans" >7</text>
<line x1="486.0" y1="187.2" x2="486.0" y2="186.2" stroke="#555" stroke-width="0.4" />
<text x="486.0" y="190.3" font-size="2.5" fill="#111" text-anchor="middle" font-weight="normal" font-family="Liberation Sans" >8</text>
<text x="459.7" y="193.8" font-size="2.5" fill="#111" text-anchor="middle" font-weight="normal" font-family="Liberation Sans" >Cross-sectional distance (μm)</text>
<text x="0" y="0" font-size="2.5" fill="#222" font-family="Liberation Sans" text-anchor="middle" transform="translate(431.5,163) rotate(-90)">Intensity (a.u.)</text>
<text x="435" y="151.5" font-size="7.5" fill="#111" text-anchor="start" font-weight="bold" font-family="Liberation Serif" >(d7)</text>
<rect x="491.3" y="166" width="51.69999999999999" height="21.19999999999999" fill="#fdf2f6" />
<path d="M491.3 143.5 L491.3 187.2 L543 187.2 L543 143.5" fill="none" stroke="#555" stroke-width="0.5"/>
<polyline points="491.5,185.0 492.2,145.0 494.0,184.8 543.0,184.8" stroke="#8cc8e8" stroke-width="0.7" fill="none" />
<circle cx="495.5" cy="184.8" r="0.5" fill="#8cc8e8"/>
<circle cx="498.5" cy="184.8" r="0.5" fill="#8cc8e8"/>
<circle cx="501.5" cy="184.8" r="0.5" fill="#8cc8e8"/>
<circle cx="504.5" cy="184.8" r="0.5" fill="#8cc8e8"/>
<circle cx="507.5" cy="184.8" r="0.5" fill="#8cc8e8"/>
<circle cx="510.5" cy="184.8" r="0.5" fill="#8cc8e8"/>
<circle cx="513.5" cy="184.8" r="0.5" fill="#8cc8e8"/>
<circle cx="516.5" cy="184.8" r="0.5" fill="#8cc8e8"/>
<circle cx="519.5" cy="184.8" r="0.5" fill="#8cc8e8"/>
<circle cx="522.5" cy="184.8" r="0.5" fill="#8cc8e8"/>
<circle cx="525.5" cy="184.8" r="0.5" fill="#8cc8e8"/>
<circle cx="528.5" cy="184.8" r="0.5" fill="#8cc8e8"/>
<circle cx="531.5" cy="184.8" r="0.5" fill="#8cc8e8"/>
<circle cx="534.5" cy="184.8" r="0.5" fill="#8cc8e8"/>
<circle cx="537.5" cy="184.8" r="0.5" fill="#8cc8e8"/>
<circle cx="540.5" cy="184.8" r="0.5" fill="#8cc8e8"/>
<polyline points="492.0,186.0 494.0,176.5 496.0,169.6 498.0,173.0 501.0,179.0 503.0,176.5 507.0,169.6 512.0,168.7 517.0,169.6 522.0,168.7 527.0,169.6 532.0,169.6 535.0,177.3 538.0,182.5 540.0,174.8 542.0,180.0" stroke="#e89060" stroke-width="0.7" fill="none" />
<circle cx="492.5" cy="183.6" r="0.6" fill="#d87040"/>
<circle cx="495.5" cy="171.3" r="0.6" fill="#d87040"/>
<circle cx="498.5" cy="174.0" r="0.6" fill="#d87040"/>
<circle cx="501.5" cy="178.4" r="0.6" fill="#d87040"/>
<circle cx="504.5" cy="173.9" r="0.6" fill="#d87040"/>
<circle cx="507.5" cy="169.5" r="0.6" fill="#d87040"/>
<circle cx="510.5" cy="169.0" r="0.6" fill="#d87040"/>
<circle cx="513.5" cy="169.0" r="0.6" fill="#d87040"/>
<circle cx="516.5" cy="169.5" r="0.6" fill="#d87040"/>
<circle cx="519.5" cy="169.2" r="0.6" fill="#d87040"/>
<circle cx="522.5" cy="168.8" r="0.6" fill="#d87040"/>
<circle cx="525.5" cy="169.3" r="0.6" fill="#d87040"/>
<circle cx="528.5" cy="169.6" r="0.6" fill="#d87040"/>
<circle cx="531.5" cy="169.6" r="0.6" fill="#d87040"/>
<circle cx="534.5" cy="176.0" r="0.6" fill="#d87040"/>
<circle cx="537.5" cy="181.6" r="0.6" fill="#d87040"/>
<circle cx="540.5" cy="176.1" r="0.6" fill="#d87040"/>
<polyline points="496.0,184.0 500.0,177.5 505.0,177.0 515.0,177.3 525.0,177.1 533.0,177.5 537.0,176.0 542.0,178.0" stroke="#3838b0" stroke-width="0.7" fill="none" />
<path d="M498.5,179.4 L499.1,180.4 L497.9,180.4Z" fill="#3030a0"/>
<path d="M501.5,176.8 L502.1,177.8 L500.9,177.8Z" fill="#3030a0"/>
<path d="M504.5,176.5 L505.1,177.5 L503.9,177.5Z" fill="#3030a0"/>
<path d="M507.5,176.5 L508.1,177.5 L506.9,177.5Z" fill="#3030a0"/>
<path d="M510.5,176.6 L511.1,177.6 L509.9,177.6Z" fill="#3030a0"/>
<path d="M513.5,176.7 L514.0,177.7 L513.0,177.7Z" fill="#3030a0"/>
<path d="M516.5,176.7 L517.0,177.7 L516.0,177.7Z" fill="#3030a0"/>
<path d="M519.5,176.7 L520.0,177.7 L519.0,177.7Z" fill="#3030a0"/>
<path d="M522.5,176.6 L523.0,177.6 L522.0,177.6Z" fill="#3030a0"/>
<path d="M525.5,176.6 L526.0,177.6 L525.0,177.6Z" fill="#3030a0"/>
<path d="M528.5,176.7 L529.0,177.7 L528.0,177.7Z" fill="#3030a0"/>
<path d="M531.5,176.9 L532.0,177.9 L531.0,177.9Z" fill="#3030a0"/>
<path d="M534.5,176.4 L535.0,177.4 L534.0,177.4Z" fill="#3030a0"/>
<path d="M537.5,175.6 L538.0,176.6 L537.0,176.6Z" fill="#3030a0"/>
<polyline points="492.0,186.0 495.0,173.0 500.0,174.8 505.0,174.4 512.0,173.9 520.0,174.0 530.0,173.9 535.0,173.4 538.0,174.8 540.0,173.9 542.0,186.0" stroke="#222" stroke-width="0.7" fill="none" />
<rect x="491.9" y="183.2" width="1.2" height="1.2" fill="#111"/>
<rect x="494.9" y="172.6" width="1.2" height="1.2" fill="#111"/>
<rect x="497.9" y="173.7" width="1.2" height="1.2" fill="#111"/>
<rect x="500.9" y="174.1" width="1.2" height="1.2" fill="#111"/>
<rect x="503.9" y="173.8" width="1.2" height="1.2" fill="#111"/>
<rect x="506.9" y="173.6" width="1.2" height="1.2" fill="#111"/>
<rect x="509.9" y="173.4" width="1.2" height="1.2" fill="#111"/>
<rect x="512.9" y="173.3" width="1.2" height="1.2" fill="#111"/>
<rect x="515.9" y="173.4" width="1.2" height="1.2" fill="#111"/>
<rect x="518.9" y="173.4" width="1.2" height="1.2" fill="#111"/>
<rect x="521.9" y="173.4" width="1.2" height="1.2" fill="#111"/>
<rect x="524.9" y="173.3" width="1.2" height="1.2" fill="#111"/>
<rect x="527.9" y="173.3" width="1.2" height="1.2" fill="#111"/>
<rect x="530.9" y="173.2" width="1.2" height="1.2" fill="#111"/>
<rect x="533.9" y="172.9" width="1.2" height="1.2" fill="#111"/>
<rect x="536.9" y="174.0" width="1.2" height="1.2" fill="#111"/>
<rect x="539.9" y="176.3" width="1.2" height="1.2" fill="#111"/>
<polyline points="492.0,186.0 494.0,186.0 496.5,183.4 498.0,173.0 501.0,171.3 503.0,169.6 504.5,152.3 505.5,159.2 507.0,177.3 510.0,177.9 520.0,177.0 528.0,177.3 531.0,179.0 533.0,182.5 535.0,158.4 538.0,161.0 540.0,173.0 542.0,186.0" stroke="#4848d8" stroke-width="0.7" fill="none" />
<path d="M492.5,185.4 L493.1,186.5 L491.9,186.5Z" fill="#3030c0"/>
<path d="M495.5,183.8 L496.1,184.9 L494.9,184.9Z" fill="#3030c0"/>
<path d="M498.5,172.1 L499.1,173.2 L497.9,173.2Z" fill="#3030c0"/>
<path d="M501.5,170.3 L502.1,171.4 L500.9,171.4Z" fill="#3030c0"/>
<path d="M504.5,151.7 L505.1,152.8 L503.9,152.8Z" fill="#3030c0"/>
<path d="M507.5,176.8 L508.1,177.9 L506.9,177.9Z" fill="#3030c0"/>
<path d="M510.5,177.3 L511.1,178.3 L509.9,178.3Z" fill="#3030c0"/>
<path d="M513.5,177.0 L514.1,178.1 L512.9,178.1Z" fill="#3030c0"/>
<path d="M516.5,176.7 L517.1,177.8 L515.9,177.8Z" fill="#3030c0"/>
<path d="M519.5,176.4 L520.1,177.5 L518.9,177.5Z" fill="#3030c0"/>
<path d="M522.5,176.5 L523.1,177.6 L521.9,177.6Z" fill="#3030c0"/>
<path d="M525.5,176.6 L526.1,177.7 L524.9,177.7Z" fill="#3030c0"/>
<path d="M528.5,177.0 L529.1,178.1 L527.9,178.1Z" fill="#3030c0"/>
<path d="M531.5,179.3 L532.1,180.4 L530.9,180.4Z" fill="#3030c0"/>
<path d="M534.5,163.8 L535.1,164.9 L533.9,164.9Z" fill="#3030c0"/>
<path d="M537.5,160.0 L538.1,161.0 L536.9,161.0Z" fill="#3030c0"/>
<path d="M540.5,175.6 L541.1,176.7 L539.9,176.7Z" fill="#3030c0"/>
<line x1="535.3" y1="145.5" x2="539.3" y2="145.5" stroke="#111" stroke-width="0.5" />
<circle cx="537.3" cy="145.5" r="0.65" fill="#111"/>
<text x="540" y="146.5" font-size="2.6" fill="#111" text-anchor="start" font-weight="normal" font-family="Liberation Sans" >Fe</text>
<line x1="535.3" y1="148.7" x2="539.3" y2="148.7" stroke="#e07840" stroke-width="0.5" />
<circle cx="537.3" cy="148.7" r="0.65" fill="#e07840"/>
<text x="540" y="149.7" font-size="2.6" fill="#111" text-anchor="start" font-weight="normal" font-family="Liberation Sans" >O</text>
<line x1="535.3" y1="151.9" x2="539.3" y2="151.9" stroke="#3030c0" stroke-width="0.5" />
<circle cx="537.3" cy="151.9" r="0.65" fill="#3030c0"/>
<text x="540" y="152.9" font-size="2.6" fill="#111" text-anchor="start" font-weight="normal" font-family="Liberation Sans" >S</text>
<line x1="535.3" y1="155.1" x2="539.3" y2="155.1" stroke="#80c8e8" stroke-width="0.5" />
<circle cx="537.3" cy="155.1" r="0.65" fill="#80c8e8"/>
<text x="540" y="156.1" font-size="2.6" fill="#111" text-anchor="start" font-weight="normal" font-family="Liberation Sans" >C</text>
<line x1="493.3" y1="187.2" x2="493.3" y2="186.2" stroke="#555" stroke-width="0.4" />
<text x="493.3" y="190.3" font-size="2.5" fill="#111" text-anchor="middle" font-weight="normal" font-family="Liberation Sans" >0</text>
<line x1="500.1142857142857" y1="187.2" x2="500.1142857142857" y2="186.2" stroke="#555" stroke-width="0.4" />
<text x="500.1142857142857" y="190.3" font-size="2.5" fill="#111" text-anchor="middle" font-weight="normal" font-family="Liberation Sans" >20</text>
<line x1="506.92857142857144" y1="187.2" x2="506.92857142857144" y2="186.2" stroke="#555" stroke-width="0.4" />
<text x="506.92857142857144" y="190.3" font-size="2.5" fill="#111" text-anchor="middle" font-weight="normal" font-family="Liberation Sans" >40</text>
<line x1="513.7428571428571" y1="187.2" x2="513.7428571428571" y2="186.2" stroke="#555" stroke-width="0.4" />
<text x="513.7428571428571" y="190.3" font-size="2.5" fill="#111" text-anchor="middle" font-weight="normal" font-family="Liberation Sans" >60</text>
<line x1="520.5571428571428" y1="187.2" x2="520.5571428571428" y2="186.2" stroke="#555" stroke-width="0.4" />
<text x="520.5571428571428" y="190.3" font-size="2.5" fill="#111" text-anchor="middle" font-weight="normal" font-family="Liberation Sans" >80</text>
<line x1="527.3714285714286" y1="187.2" x2="527.3714285714286" y2="186.2" stroke="#555" stroke-width="0.4" />
<text x="527.3714285714286" y="190.3" font-size="2.5" fill="#111" text-anchor="middle" font-weight="normal" font-family="Liberation Sans" >100</text>
<line x1="534.1857142857143" y1="187.2" x2="534.1857142857143" y2="186.2" stroke="#555" stroke-width="0.4" />
<text x="534.1857142857143" y="190.3" font-size="2.5" fill="#111" text-anchor="middle" font-weight="normal" font-family="Liberation Sans" >120</text>
<line x1="541.0" y1="187.2" x2="541.0" y2="186.2" stroke="#555" stroke-width="0.4" />
<text x="541.0" y="190.3" font-size="2.5" fill="#111" text-anchor="middle" font-weight="normal" font-family="Liberation Sans" >140</text>
<text x="517.15" y="193.8" font-size="2.5" fill="#111" text-anchor="middle" font-weight="normal" font-family="Liberation Sans" >Cross-sectional distance (μm)</text>
<text x="0" y="0" font-size="2.5" fill="#222" font-family="Liberation Sans" text-anchor="middle" transform="translate(489,163) rotate(-90)">Intensity (a.u.)</text>
<text x="491.5" y="151.5" font-size="7.5" fill="#111" text-anchor="start" font-weight="bold" font-family="Liberation Serif" >(d8)</text>
<text x="10.5" y="124.8" font-size="7.5" fill="#111" text-anchor="start" font-weight="bold" font-family="Liberation Serif" >(e1)</text>
<g stroke="#c4c4c4" stroke-width="0.35" fill="none"><line x1="17.2" y1="180.0" x2="58.5" y2="169.5"/><line x1="17.2" y1="172.5" x2="58.5" y2="163.4"/><line x1="17.2" y1="165.0" x2="58.5" y2="157.4"/><line x1="17.2" y1="157.5" x2="58.5" y2="151.3"/><line x1="17.2" y1="150.0" x2="58.5" y2="145.2"/><line x1="17.2" y1="142.5" x2="58.5" y2="139.1"/><line x1="17.2" y1="135.0" x2="58.5" y2="133.1"/><line x1="17.2" y1="127.5" x2="58.5" y2="127.0"/><line x1="17.2" y1="180.0" x2="17.2" y2="127.5"/><line x1="27.5" y1="177.4" x2="27.5" y2="127.4"/><line x1="37.8" y1="174.8" x2="37.8" y2="127.2"/><line x1="48.2" y1="172.1" x2="48.2" y2="127.1"/><line x1="58.5" y1="169.5" x2="58.5" y2="127.0"/><line x1="58.5" y1="169.5" x2="98.0" y2="176.0"/><line x1="58.5" y1="163.4" x2="98.0" y2="169.1"/><line x1="58.5" y1="157.4" x2="98.0" y2="162.3"/><line x1="58.5" y1="151.3" x2="98.0" y2="155.4"/><line x1="58.5" y1="145.2" x2="98.0" y2="148.6"/><line x1="58.5" y1="139.1" x2="98.0" y2="141.7"/><line x1="58.5" y1="133.1" x2="98.0" y2="134.9"/><line x1="58.5" y1="127.0" x2="98.0" y2="128.0"/><line x1="58.5" y1="169.5" x2="58.5" y2="127.0"/><line x1="66.4" y1="170.8" x2="66.4" y2="127.2"/><line x1="74.3" y1="172.1" x2="74.3" y2="127.4"/><line x1="82.2" y1="173.4" x2="82.2" y2="127.6"/><line x1="90.1" y1="174.7" x2="90.1" y2="127.8"/><line x1="98.0" y1="176.0" x2="98.0" y2="128.0"/><line x1="17.2" y1="180.0" x2="63.0" y2="196.0"/><line x1="27.5" y1="177.4" x2="71.8" y2="191.0"/><line x1="37.8" y1="174.8" x2="80.5" y2="186.0"/><line x1="48.2" y1="172.1" x2="89.2" y2="181.0"/><line x1="58.5" y1="169.5" x2="98.0" y2="176.0"/><line x1="58.5" y1="169.5" x2="17.2" y2="180.0"/><line x1="66.4" y1="170.8" x2="26.4" y2="183.2"/><line x1="74.3" y1="172.1" x2="35.5" y2="186.4"/><line x1="82.2" y1="173.4" x2="44.7" y2="189.6"/><line x1="90.1" y1="174.7" x2="53.8" y2="192.8"/><line x1="98.0" y1="176.0" x2="63.0" y2="196.0"/></g>
<path d="M17.2,127.5 L17.2,180 L63,196 L98,176" stroke="#777" stroke-width="0.45" fill="none"/>
<text x="16" y="179.9" font-size="2.6" fill="#1a1a1a" text-anchor="end" font-weight="normal" font-family="Liberation Sans" >0.0</text>
<text x="16" y="172.4714285714286" font-size="2.6" fill="#1a1a1a" text-anchor="end" font-weight="normal" font-family="Liberation Sans" >0.2</text>
<text x="16" y="165.04285714285714" font-size="2.6" fill="#1a1a1a" text-anchor="end" font-weight="normal" font-family="Liberation Sans" >0.4</text>
<text x="16" y="157.61428571428573" font-size="2.6" fill="#1a1a1a" text-anchor="end" font-weight="normal" font-family="Liberation Sans" >0.6</text>
<text x="16" y="150.18571428571428" font-size="2.6" fill="#1a1a1a" text-anchor="end" font-weight="normal" font-family="Liberation Sans" >0.8</text>
<text x="16" y="142.75714285714287" font-size="2.6" fill="#1a1a1a" text-anchor="end" font-weight="normal" font-family="Liberation Sans" >1.0</text>
<text x="16" y="135.32857142857145" font-size="2.6" fill="#1a1a1a" text-anchor="end" font-weight="normal" font-family="Liberation Sans" >1.2</text>
<text x="16" y="127.9" font-size="2.6" fill="#1a1a1a" text-anchor="end" font-weight="normal" font-family="Liberation Sans" >1.4</text>
<text x="0" y="0" font-size="2.9" fill="#444" font-family="Liberation Sans" text-anchor="middle" transform="translate(10.5,154) rotate(-90)">Corrosion rate (mm/y)</text>
<line x1="63.0" y1="196.0" x2="69.0" y2="199.5" stroke="#888" stroke-width="0.5" />
<line x1="68.0" y1="193.14285714285714" x2="74.0" y2="196.64285714285714" stroke="#888" stroke-width="0.5" />
<line x1="73.0" y1="190.28571428571428" x2="79.0" y2="193.78571428571428" stroke="#888" stroke-width="0.5" />
<line x1="78.0" y1="187.42857142857142" x2="84.0" y2="190.92857142857142" stroke="#888" stroke-width="0.5" />
<line x1="83.0" y1="184.57142857142858" x2="89.0" y2="188.07142857142858" stroke="#888" stroke-width="0.5" />
<line x1="88.0" y1="181.71428571428572" x2="94.0" y2="185.21428571428572" stroke="#888" stroke-width="0.5" />
<line x1="93.0" y1="178.85714285714286" x2="99.0" y2="182.35714285714286" stroke="#888" stroke-width="0.5" />
<line x1="98.0" y1="176.0" x2="104.0" y2="179.5" stroke="#888" stroke-width="0.5" />
<line x1="17.2" y1="180.0" x2="14.7" y2="183.0" stroke="#999" stroke-width="0.4" />
<line x1="28.65" y1="184.0" x2="26.15" y2="187.0" stroke="#999" stroke-width="0.4" />
<line x1="40.099999999999994" y1="188.0" x2="37.599999999999994" y2="191.0" stroke="#999" stroke-width="0.4" />
<line x1="51.55" y1="192.0" x2="49.05" y2="195.0" stroke="#999" stroke-width="0.4" />
<line x1="63.0" y1="196.0" x2="60.5" y2="199.0" stroke="#999" stroke-width="0.4" />
<text x="0" y="0" font-size="2.6" fill="#555" font-family="Liberation Sans" text-anchor="middle" transform="translate(36,192) rotate(25)">O₂ concentration (ppm)</text>
<text x="0" y="0" font-size="2.6" fill="#555" font-family="Liberation Sans" text-anchor="middle" transform="translate(84,196) rotate(-30)">T (°C)</text>
<circle cx="33.6" cy="129.5" r="0.85" fill="#8a8a40"/>
<circle cx="33.6" cy="135" r="0.85" fill="#a04080"/>
<circle cx="33.6" cy="140.7" r="0.85" fill="#4a3a9a"/>
<circle cx="33.6" cy="147.4" r="0.85" fill="#7a6ab0"/>
<circle cx="33.6" cy="154" r="0.85" fill="#8a7a40"/>
<circle cx="33.6" cy="159.7" r="0.85" fill="#a090b0"/>
<circle cx="33.6" cy="165.3" r="0.85" fill="#6a5a30"/>
<circle cx="33.6" cy="170.9" r="0.85" fill="#5050a0"/>
<circle cx="39.7" cy="171" r="0.85" fill="#4040a0"/>
<circle cx="33" cy="173.8" r="0.85" fill="#203090"/>
<circle cx="46" cy="160.8" r="0.85" fill="#b0a060"/>
<circle cx="53" cy="163" r="0.85" fill="#c0b080"/>
<circle cx="58" cy="151.4" r="0.85" fill="#604080"/>
<circle cx="72" cy="157.4" r="0.85" fill="#806080"/>
<circle cx="50.9" cy="178.7" r="0.85" fill="#303080"/>
<circle cx="57" cy="178.7" r="0.85" fill="#203080"/>
<circle cx="53" cy="185" r="0.85" fill="#8a8a60"/>
<circle cx="57" cy="183.6" r="0.85" fill="#405090"/>
<circle cx="71" cy="185.8" r="0.85" fill="#4060a0"/>
<circle cx="54.7" cy="172" r="0.85" fill="#90a0b0"/>
<circle cx="26" cy="178.7" r="0.85" fill="#8a8a70"/>
<circle cx="45" cy="182" r="0.85" fill="#6a7a50"/>
<rect x="79" y="124.4" width="41.7" height="54.6" fill="#fff" stroke="#aaa" stroke-width="0.4"/>
<circle cx="83.3" cy="127.8" r="0.8" fill="#555"/>
<text x="87.3" y="128.9" font-size="3.0" fill="#222" text-anchor="start" font-weight="normal" font-family="Liberation Sans" >X65</text>
<text x="99.5" y="128.9" font-size="3.0" fill="#222" text-anchor="start" font-weight="normal" font-family="Liberation Sans" >50°C</text>
<circle cx="83.3" cy="131.77" r="0.8" fill="#d03050"/>
<text x="87.3" y="132.87" font-size="3.0" fill="#222" text-anchor="start" font-weight="normal" font-family="Liberation Sans" >X65</text>
<text x="99.5" y="132.87" font-size="3.0" fill="#222" text-anchor="start" font-weight="normal" font-family="Liberation Sans" >50°C</text>
<circle cx="83.3" cy="135.74" r="0.8" fill="#2a2a8a"/>
<text x="87.3" y="136.84" font-size="3.0" fill="#222" text-anchor="start" font-weight="normal" font-family="Liberation Sans" >X42/J55</text>
<text x="99.5" y="136.84" font-size="3.0" fill="#222" text-anchor="start" font-weight="normal" font-family="Liberation Sans" >40°C</text>
<circle cx="83.3" cy="139.71" r="0.8" fill="#8a8a60"/>
<text x="87.3" y="140.81" font-size="3.0" fill="#222" text-anchor="start" font-weight="normal" font-family="Liberation Sans" >X65</text>
<text x="99.5" y="140.81" font-size="3.0" fill="#222" text-anchor="start" font-weight="normal" font-family="Liberation Sans" >40°C</text>
<circle cx="83.3" cy="143.68" r="0.8" fill="#a070d0"/>
<text x="87.3" y="144.78" font-size="3.0" fill="#222" text-anchor="start" font-weight="normal" font-family="Liberation Sans" >X65</text>
<text x="99.5" y="144.78" font-size="3.0" fill="#222" text-anchor="start" font-weight="normal" font-family="Liberation Sans" >40°C</text>
<circle cx="83.3" cy="147.65" r="0.8" fill="#c0a040"/>
<text x="87.3" y="148.75" font-size="3.0" fill="#222" text-anchor="start" font-weight="normal" font-family="Liberation Sans" >C/L</text>
<text x="99.5" y="148.75" font-size="3.0" fill="#222" text-anchor="start" font-weight="normal" font-family="Liberation Sans" >50°C</text>
<circle cx="83.3" cy="151.62" r="0.8" fill="#4a4a9a"/>
<text x="87.3" y="152.72" font-size="3.0" fill="#222" text-anchor="start" font-weight="normal" font-family="Liberation Sans" >X65</text>
<text x="99.5" y="152.72" font-size="3.0" fill="#222" text-anchor="start" font-weight="normal" font-family="Liberation Sans" >35°C</text>
<circle cx="83.3" cy="155.59" r="0.8" fill="#404080"/>
<text x="87.3" y="156.69" font-size="3.0" fill="#222" text-anchor="start" font-weight="normal" font-family="Liberation Sans" >X65</text>
<text x="99.5" y="156.69" font-size="3.0" fill="#222" text-anchor="start" font-weight="normal" font-family="Liberation Sans" >35°C</text>
<circle cx="83.3" cy="159.56" r="0.8" fill="#607040"/>
<text x="87.3" y="160.66" font-size="3.0" fill="#222" text-anchor="start" font-weight="normal" font-family="Liberation Sans" >C/L</text>
<text x="99.5" y="160.66" font-size="3.0" fill="#222" text-anchor="start" font-weight="normal" font-family="Liberation Sans" >50°C</text>
<circle cx="83.3" cy="163.53" r="0.8" fill="#6a6a8a"/>
<text x="87.3" y="164.63" font-size="3.0" fill="#222" text-anchor="start" font-weight="normal" font-family="Liberation Sans" >X65</text>
<text x="99.5" y="164.63" font-size="3.0" fill="#222" text-anchor="start" font-weight="normal" font-family="Liberation Sans" >35°C</text>
<circle cx="83.3" cy="167.5" r="0.8" fill="#50a0a0"/>
<text x="87.3" y="168.6" font-size="3.0" fill="#222" text-anchor="start" font-weight="normal" font-family="Liberation Sans" >X42/J55</text>
<text x="99.5" y="168.6" font-size="3.0" fill="#222" text-anchor="start" font-weight="normal" font-family="Liberation Sans" >40°C</text>
<text x="87.3" y="176.2" font-size="3.0" fill="#222" text-anchor="start" font-weight="normal" font-family="Liberation Sans" >C/L: carbon steel</text>
<text x="134.5" y="125.5" font-size="7.5" fill="#111" text-anchor="start" font-weight="bold" font-family="Liberation Serif" >(e2)</text>
<rect x="155" y="140" width="10" height="55" fill="#ffd8f0" opacity="0.75"/>
<rect x="185.3" y="122" width="10" height="73" fill="#ffd0ec" opacity="0.75"/>
<g stroke="#b8b8b8" stroke-width="0.4" fill="none"><line x1="140.8" y1="187.6" x2="177.6" y2="177.5"/><line x1="140.8" y1="181.1" x2="177.6" y2="171.4"/><line x1="140.8" y1="174.5" x2="177.6" y2="165.4"/><line x1="140.8" y1="168.0" x2="177.6" y2="159.3"/><line x1="140.8" y1="161.4" x2="177.6" y2="153.3"/><line x1="140.8" y1="154.9" x2="177.6" y2="147.2"/><line x1="140.8" y1="148.3" x2="177.6" y2="141.2"/><line x1="140.8" y1="141.8" x2="177.6" y2="135.1"/><line x1="140.8" y1="135.2" x2="177.6" y2="129.1"/><line x1="140.8" y1="128.7" x2="177.6" y2="123.0"/><line x1="140.8" y1="187.6" x2="140.8" y2="128.7"/><line x1="150.0" y1="185.1" x2="150.0" y2="127.3"/><line x1="159.2" y1="182.6" x2="159.2" y2="125.8"/><line x1="168.4" y1="180.0" x2="168.4" y2="124.4"/><line x1="177.6" y1="177.5" x2="177.6" y2="123.0"/><line x1="177.6" y1="177.5" x2="217.0" y2="184.7"/><line x1="177.6" y1="171.4" x2="217.0" y2="178.3"/><line x1="177.6" y1="165.4" x2="217.0" y2="171.9"/><line x1="177.6" y1="159.3" x2="217.0" y2="165.5"/><line x1="177.6" y1="153.3" x2="217.0" y2="159.1"/><line x1="177.6" y1="147.2" x2="217.0" y2="152.6"/><line x1="177.6" y1="141.2" x2="217.0" y2="146.2"/><line x1="177.6" y1="135.1" x2="217.0" y2="139.8"/><line x1="177.6" y1="129.1" x2="217.0" y2="133.4"/><line x1="177.6" y1="123.0" x2="217.0" y2="127.0"/><line x1="177.6" y1="177.5" x2="177.6" y2="123.0"/><line x1="190.7" y1="179.9" x2="190.7" y2="124.3"/><line x1="203.9" y1="182.3" x2="203.9" y2="125.7"/><line x1="217.0" y1="184.7" x2="217.0" y2="127.0"/><line x1="140.8" y1="187.6" x2="180.0" y2="205.0"/><line x1="150.0" y1="185.1" x2="189.2" y2="199.9"/><line x1="159.2" y1="182.6" x2="198.5" y2="194.8"/><line x1="168.4" y1="180.0" x2="207.8" y2="189.8"/><line x1="177.6" y1="177.5" x2="217.0" y2="184.7"/><line x1="177.6" y1="177.5" x2="140.8" y2="187.6"/><line x1="190.7" y1="179.9" x2="153.9" y2="193.4"/><line x1="203.9" y1="182.3" x2="166.9" y2="199.2"/><line x1="217.0" y1="184.7" x2="180.0" y2="205.0"/></g>
<path d="M140.8,128.7 L140.8,187.6 L180,205 L217,184.7" stroke="#777" stroke-width="0.45" fill="none"/>
<text x="139.8" y="188.6" font-size="2.8" fill="#222" text-anchor="end" font-weight="normal" font-family="Liberation Sans" >0</text>
<text x="139.8" y="182.05555555555554" font-size="2.8" fill="#222" text-anchor="end" font-weight="normal" font-family="Liberation Sans" >1000</text>
<text x="139.8" y="175.51111111111112" font-size="2.8" fill="#222" text-anchor="end" font-weight="normal" font-family="Liberation Sans" >2000</text>
<text x="139.8" y="168.96666666666667" font-size="2.8" fill="#222" text-anchor="end" font-weight="normal" font-family="Liberation Sans" >3000</text>
<text x="139.8" y="162.42222222222222" font-size="2.8" fill="#222" text-anchor="end" font-weight="normal" font-family="Liberation Sans" >4000</text>
<text x="139.8" y="155.87777777777777" font-size="2.8" fill="#222" text-anchor="end" font-weight="normal" font-family="Liberation Sans" >5000</text>
<text x="139.8" y="149.33333333333331" font-size="2.8" fill="#222" text-anchor="end" font-weight="normal" font-family="Liberation Sans" >6000</text>
<text x="139.8" y="142.7888888888889" font-size="2.8" fill="#222" text-anchor="end" font-weight="normal" font-family="Liberation Sans" >7000</text>
<text x="139.8" y="136.24444444444444" font-size="2.8" fill="#222" text-anchor="end" font-weight="normal" font-family="Liberation Sans" >8000</text>
<text x="139.8" y="129.7" font-size="2.8" fill="#222" text-anchor="end" font-weight="normal" font-family="Liberation Sans" >9000</text>
<text x="0" y="0" font-size="2.9" fill="#444" font-family="Liberation Sans" text-anchor="middle" transform="translate(131,158) rotate(-90)">Corrosion rate (μm/y)</text>
<line x1="180.0" y1="205.0" x2="186.0" y2="208.0" stroke="#888" stroke-width="0.5" />
<line x1="189.25" y1="199.925" x2="195.25" y2="202.925" stroke="#888" stroke-width="0.5" />
<line x1="198.5" y1="194.85" x2="204.5" y2="197.85" stroke="#888" stroke-width="0.5" />
<line x1="207.75" y1="189.77499999999998" x2="213.75" y2="192.77499999999998" stroke="#888" stroke-width="0.5" />
<line x1="217.0" y1="184.7" x2="223.0" y2="187.7" stroke="#888" stroke-width="0.5" />
<line x1="140.8" y1="187.6" x2="138.3" y2="190.6" stroke="#888" stroke-width="0.45" />
<line x1="150.60000000000002" y1="191.95" x2="148.10000000000002" y2="194.95" stroke="#888" stroke-width="0.45" />
<line x1="160.4" y1="196.3" x2="157.9" y2="199.3" stroke="#888" stroke-width="0.45" />
<line x1="170.2" y1="200.65" x2="167.7" y2="203.65" stroke="#888" stroke-width="0.45" />
<line x1="180.0" y1="205.0" x2="177.5" y2="208.0" stroke="#888" stroke-width="0.45" />
<rect x="188.8" y="126" width="3.5" height="53" fill="url(#cg1)"/>
<ellipse cx="190.55" cy="126" rx="1.75" ry="0.77" fill="#a84418" stroke="#602008" stroke-width="0.3"/>
<ellipse cx="190.55" cy="179" rx="1.75" ry="0.77" fill="#602008"/>
<rect x="158" y="163" width="5" height="30.30000000000001" fill="url(#cg2)"/>
<ellipse cx="160.5" cy="163" rx="2.5" ry="1.1" fill="#8a5a1a" stroke="#4a2a08" stroke-width="0.3"/>
<ellipse cx="160.5" cy="193.3" rx="2.5" ry="1.1" fill="#4a2a08"/>
<rect x="159.2" y="144" width="2.6" height="19.5" fill="url(#cg3)"/>
<ellipse cx="160.5" cy="144" rx="1.3" ry="0.5720000000000001" fill="#2a2aa0" stroke="#10105a" stroke-width="0.3"/>
<ellipse cx="160.5" cy="163.5" rx="1.3" ry="0.5720000000000001" fill="#10105a"/>
<rect x="146" y="181" width="1.8" height="7" fill="url(#cg4)"/>
<ellipse cx="146.9" cy="181" rx="0.9" ry="0.396" fill="#8a9a30" stroke="#4a5a10" stroke-width="0.3"/>
<ellipse cx="146.9" cy="188" rx="0.9" ry="0.396" fill="#4a5a10"/>
<rect x="148.5" y="183" width="1.8" height="7" fill="url(#cg5)"/>
<ellipse cx="149.4" cy="183" rx="0.9" ry="0.396" fill="#5a7a30" stroke="#2a4a10" stroke-width="0.3"/>
<ellipse cx="149.4" cy="190" rx="0.9" ry="0.396" fill="#2a4a10"/>
<rect x="153.5" y="184" width="2" height="7" fill="url(#cg6)"/>
<ellipse cx="154.5" cy="184" rx="1.0" ry="0.44" fill="#a0a030" stroke="#5a5a10" stroke-width="0.3"/>
<ellipse cx="154.5" cy="191" rx="1.0" ry="0.44" fill="#5a5a10"/>
<rect x="166" y="186" width="2" height="10" fill="url(#cg7)"/>
<ellipse cx="167.0" cy="186" rx="1.0" ry="0.44" fill="#a0a030" stroke="#5a5a10" stroke-width="0.3"/>
<ellipse cx="167.0" cy="196" rx="1.0" ry="0.44" fill="#5a5a10"/>
<rect x="176.5" y="185" width="2.4" height="6" fill="url(#cg8)"/>
<ellipse cx="177.7" cy="185" rx="1.2" ry="0.528" fill="#c0a020" stroke="#6a5a10" stroke-width="0.3"/>
<ellipse cx="177.7" cy="191" rx="1.2" ry="0.528" fill="#6a5a10"/>
<rect x="176.5" y="191" width="2.4" height="7" fill="url(#cg9)"/>
<ellipse cx="177.7" cy="191" rx="1.2" ry="0.528" fill="#2020a0" stroke="#101060" stroke-width="0.3"/>
<ellipse cx="177.7" cy="198" rx="1.2" ry="0.528" fill="#101060"/>
<rect x="185" y="180" width="1.5" height="12" fill="url(#cg10)"/>
<ellipse cx="185.75" cy="180" rx="0.75" ry="0.33" fill="#6a7a30" stroke="#3a4a10" stroke-width="0.3"/>
<ellipse cx="185.75" cy="192" rx="0.75" ry="0.33" fill="#3a4a10"/>
<rect x="193.5" y="182" width="1.2" height="8" fill="url(#cg11)"/>
<ellipse cx="194.1" cy="182" rx="0.6" ry="0.264" fill="#4a6a20" stroke="#2a3a10" stroke-width="0.3"/>
<ellipse cx="194.1" cy="190" rx="0.6" ry="0.264" fill="#2a3a10"/>
<rect x="183" y="193" width="1.2" height="5" fill="url(#cg12)"/>
<ellipse cx="183.6" cy="193" rx="0.6" ry="0.264" fill="#8060d0" stroke="#5040a0" stroke-width="0.3"/>
<ellipse cx="183.6" cy="198" rx="0.6" ry="0.264" fill="#5040a0"/>
<rect x="226.7" y="129.65" width="2.9" height="2.9" fill="#5a4020" />
<text x="231.9" y="132.2" font-size="3.2" fill="#000" text-anchor="start" font-weight="normal" font-family="Liberation Serif" >X65 50 °C</text>
<rect x="226.7" y="134.22" width="2.9" height="2.9" fill="#a0a030" />
<text x="231.9" y="136.76999999999998" font-size="3.2" fill="#000" text-anchor="start" font-weight="normal" font-family="Liberation Serif" >X70 50 °C</text>
<rect x="226.7" y="138.79000000000002" width="2.9" height="2.9" fill="#0000c0" />
<text x="231.9" y="141.34" font-size="3.2" fill="#000" text-anchor="start" font-weight="normal" font-family="Liberation Serif" >X70 50 °C</text>
<rect x="226.7" y="143.36" width="2.9" height="2.9" fill="#9050e0" />
<text x="231.9" y="145.91" font-size="3.2" fill="#000" text-anchor="start" font-weight="normal" font-family="Liberation Serif" >X70 50 °C</text>
<rect x="226.7" y="147.93" width="2.9" height="2.9" fill="#f0f040" />
<text x="231.9" y="150.48" font-size="3.2" fill="#000" text-anchor="start" font-weight="normal" font-family="Liberation Serif" >X65 35 °C</text>
<rect x="226.7" y="152.5" width="2.9" height="2.9" fill="#a07830" />
<text x="231.9" y="155.04999999999998" font-size="3.2" fill="#000" text-anchor="start" font-weight="normal" font-family="Liberation Serif" >X65 35 °C</text>
<rect x="226.7" y="157.07" width="2.9" height="2.9" fill="#1a1a50" />
<text x="231.9" y="159.61999999999998" font-size="3.2" fill="#000" text-anchor="start" font-weight="normal" font-family="Liberation Serif" >X65 50 °C</text>
<rect x="226.7" y="161.64000000000001" width="2.9" height="2.9" fill="#2a2418" />
<text x="231.9" y="164.19" font-size="3.2" fill="#000" text-anchor="start" font-weight="normal" font-family="Liberation Serif" >X65 50 °C</text>
<rect x="226.7" y="166.21" width="2.9" height="2.9" fill="#3a3a20" />
<text x="231.9" y="168.76" font-size="3.2" fill="#000" text-anchor="start" font-weight="normal" font-family="Liberation Serif" >X65 50 °C</text>
<rect x="226.7" y="170.78" width="2.9" height="2.9" fill="#9ab030" />
<text x="231.9" y="173.32999999999998" font-size="3.2" fill="#000" text-anchor="start" font-weight="normal" font-family="Liberation Serif" >X70 50 °C</text>
<rect x="226.7" y="175.35000000000002" width="2.9" height="2.9" fill="#a8c0e8" />
<text x="231.9" y="177.9" font-size="3.2" fill="#000" text-anchor="start" font-weight="normal" font-family="Liberation Serif" >X65 35 °C</text>
<text x="10.7" y="213" font-size="7.5" fill="#111" text-anchor="start" font-weight="bold" font-family="Liberation Serif" >(e3)</text>
<text x="35.5" y="218.5" font-size="4.3" fill="#111" text-anchor="start" font-weight="normal" font-family="Liberation Sans" >c(O<tspan font-size='70%' dy='0.8'>2</tspan><tspan dy='-0.8'>​</tspan>) = 100 ppm</text>
<rect x="53.6" y="255" width="10" height="40.5" fill="#ffd0ec" opacity="0.75"/>
<rect x="73" y="248" width="14" height="32.4" fill="#ffd0ec" opacity="0.75"/>
<g stroke="#bcbcbc" stroke-width="0.4" fill="none"><line x1="18.4" y1="278.7" x2="53.6" y2="272.0"/><line x1="18.4" y1="273.3" x2="53.6" y2="267.1"/><line x1="18.4" y1="268.0" x2="53.6" y2="262.3"/><line x1="18.4" y1="262.6" x2="53.6" y2="257.4"/><line x1="18.4" y1="257.2" x2="53.6" y2="252.6"/><line x1="18.4" y1="251.8" x2="53.6" y2="247.8"/><line x1="18.4" y1="246.5" x2="53.6" y2="242.9"/><line x1="18.4" y1="241.1" x2="53.6" y2="238.1"/><line x1="18.4" y1="235.7" x2="53.6" y2="233.2"/><line x1="18.4" y1="230.4" x2="53.6" y2="228.3"/><line x1="18.4" y1="225.0" x2="53.6" y2="223.5"/><line x1="18.4" y1="278.7" x2="18.4" y2="225.0"/><line x1="27.2" y1="277.0" x2="27.2" y2="224.6"/><line x1="36.0" y1="275.4" x2="36.0" y2="224.2"/><line x1="44.8" y1="273.7" x2="44.8" y2="223.9"/><line x1="53.6" y1="272.0" x2="53.6" y2="223.5"/><line x1="53.6" y1="272.0" x2="93.8" y2="277.0"/><line x1="53.6" y1="267.1" x2="93.8" y2="271.8"/><line x1="53.6" y1="262.3" x2="93.8" y2="266.6"/><line x1="53.6" y1="257.4" x2="93.8" y2="261.4"/><line x1="53.6" y1="252.6" x2="93.8" y2="256.2"/><line x1="53.6" y1="247.8" x2="93.8" y2="251.0"/><line x1="53.6" y1="242.9" x2="93.8" y2="245.8"/><line x1="53.6" y1="238.1" x2="93.8" y2="240.6"/><line x1="53.6" y1="233.2" x2="93.8" y2="235.4"/><line x1="53.6" y1="228.3" x2="93.8" y2="230.2"/><line x1="53.6" y1="223.5" x2="93.8" y2="225.0"/><line x1="53.6" y1="272.0" x2="53.6" y2="223.5"/><line x1="60.3" y1="272.8" x2="60.3" y2="223.8"/><line x1="67.0" y1="273.7" x2="67.0" y2="224.0"/><line x1="73.7" y1="274.5" x2="73.7" y2="224.2"/><line x1="80.4" y1="275.3" x2="80.4" y2="224.5"/><line x1="87.1" y1="276.2" x2="87.1" y2="224.8"/><line x1="93.8" y1="277.0" x2="93.8" y2="225.0"/><line x1="18.4" y1="278.7" x2="57.0" y2="300.0"/><line x1="27.2" y1="277.0" x2="66.2" y2="294.2"/><line x1="36.0" y1="275.4" x2="75.4" y2="288.5"/><line x1="44.8" y1="273.7" x2="84.6" y2="282.8"/><line x1="53.6" y1="272.0" x2="93.8" y2="277.0"/><line x1="53.6" y1="272.0" x2="18.4" y2="278.7"/><line x1="60.3" y1="272.8" x2="24.8" y2="282.2"/><line x1="67.0" y1="273.7" x2="31.3" y2="285.8"/><line x1="73.7" y1="274.5" x2="37.7" y2="289.4"/><line x1="80.4" y1="275.3" x2="44.1" y2="292.9"/><line x1="87.1" y1="276.2" x2="50.6" y2="296.4"/><line x1="93.8" y1="277.0" x2="57.0" y2="300.0"/></g>
<path d="M18.4,225 L18.4,278.7 L57,300 L93.8,277" stroke="#777" stroke-width="0.45" fill="none"/>
<text x="17.4" y="279.7" font-size="2.7" fill="#222" text-anchor="end" font-weight="normal" font-family="Liberation Sans" >0</text>
<text x="17.4" y="274.33" font-size="2.7" fill="#222" text-anchor="end" font-weight="normal" font-family="Liberation Sans" >100</text>
<text x="17.4" y="268.96" font-size="2.7" fill="#222" text-anchor="end" font-weight="normal" font-family="Liberation Sans" >200</text>
<text x="17.4" y="263.59" font-size="2.7" fill="#222" text-anchor="end" font-weight="normal" font-family="Liberation Sans" >300</text>
<text x="17.4" y="258.21999999999997" font-size="2.7" fill="#222" text-anchor="end" font-weight="normal" font-family="Liberation Sans" >400</text>
<text x="17.4" y="252.85" font-size="2.7" fill="#222" text-anchor="end" font-weight="normal" font-family="Liberation Sans" >500</text>
<text x="17.4" y="247.48" font-size="2.7" fill="#222" text-anchor="end" font-weight="normal" font-family="Liberation Sans" >600</text>
<text x="17.4" y="242.10999999999999" font-size="2.7" fill="#222" text-anchor="end" font-weight="normal" font-family="Liberation Sans" >700</text>
<text x="17.4" y="236.73999999999998" font-size="2.7" fill="#222" text-anchor="end" font-weight="normal" font-family="Liberation Sans" >800</text>
<text x="17.4" y="231.37" font-size="2.7" fill="#222" text-anchor="end" font-weight="normal" font-family="Liberation Sans" >900</text>
<text x="17.4" y="226.0" font-size="2.7" fill="#222" text-anchor="end" font-weight="normal" font-family="Liberation Sans" >1000</text>
<text x="0" y="0" font-size="2.8" fill="#444" font-family="Liberation Sans" text-anchor="middle" transform="translate(11.7,251) rotate(-90)">Corrosion rate (μm/y)</text>
<line x1="57.0" y1="300.0" x2="62.0" y2="303.5" stroke="#777" stroke-width="0.55" />
<line x1="63.13333333333333" y1="296.1666666666667" x2="68.13333333333333" y2="299.6666666666667" stroke="#777" stroke-width="0.55" />
<line x1="69.26666666666667" y1="292.3333333333333" x2="74.26666666666667" y2="295.8333333333333" stroke="#777" stroke-width="0.55" />
<line x1="75.4" y1="288.5" x2="80.4" y2="292.0" stroke="#777" stroke-width="0.55" />
<line x1="81.53333333333333" y1="284.6666666666667" x2="86.53333333333333" y2="288.1666666666667" stroke="#777" stroke-width="0.55" />
<line x1="87.66666666666666" y1="280.8333333333333" x2="92.66666666666666" y2="284.3333333333333" stroke="#777" stroke-width="0.55" />
<line x1="93.8" y1="277.0" x2="98.8" y2="280.5" stroke="#777" stroke-width="0.55" />
<line x1="18.4" y1="278.7" x2="15.399999999999999" y2="281.2" stroke="#777" stroke-width="0.55" />
<line x1="26.119999999999997" y1="282.96" x2="23.119999999999997" y2="285.46" stroke="#777" stroke-width="0.55" />
<line x1="33.84" y1="287.21999999999997" x2="30.840000000000003" y2="289.71999999999997" stroke="#777" stroke-width="0.55" />
<line x1="41.56" y1="291.48" x2="38.56" y2="293.98" stroke="#777" stroke-width="0.55" />
<line x1="49.28" y1="295.74" x2="46.28" y2="298.24" stroke="#777" stroke-width="0.55" />
<line x1="57.0" y1="300.0" x2="54.0" y2="302.5" stroke="#777" stroke-width="0.55" />
<rect x="56.3" y="261.3" width="5.7" height="29.19999999999999" fill="url(#cg13)"/>
<ellipse cx="59.15" cy="261.3" rx="2.85" ry="1.254" fill="#d42a14" stroke="#8a1808" stroke-width="0.3"/>
<ellipse cx="59.15" cy="290.5" rx="2.85" ry="1.254" fill="#8a1808"/>
<rect x="77.7" y="250.3" width="4.3" height="28.399999999999977" fill="url(#cg14)"/>
<ellipse cx="79.85000000000001" cy="250.3" rx="2.15" ry="0.946" fill="#9a5a18" stroke="#553008" stroke-width="0.3"/>
<ellipse cx="79.85000000000001" cy="278.7" rx="2.15" ry="0.946" fill="#553008"/>
<rect x="49.2" y="262.5" width="3.1" height="6.5" fill="url(#cg15)"/>
<ellipse cx="50.75" cy="262.5" rx="1.55" ry="0.682" fill="#f0f040" stroke="#a0a010" stroke-width="0.3"/>
<ellipse cx="50.75" cy="269" rx="1.55" ry="0.682" fill="#a0a010"/>
<rect x="23.5" y="280.3" width="3.5" height="2.1999999999999886" fill="url(#cg16)"/>
<ellipse cx="25.25" cy="280.3" rx="1.75" ry="0.77" fill="#2a2ab0" stroke="#101060" stroke-width="0.3"/>
<ellipse cx="25.25" cy="282.5" rx="1.75" ry="0.77" fill="#101060"/>
<rect x="30" y="279" width="2.6" height="2" fill="url(#cg17)"/>
<ellipse cx="31.3" cy="279" rx="1.3" ry="0.5720000000000001" fill="#6a6a40" stroke="#3a3a10" stroke-width="0.3"/>
<ellipse cx="31.3" cy="281" rx="1.3" ry="0.5720000000000001" fill="#3a3a10"/>
<rect x="35" y="276.5" width="2.6" height="2.0" fill="url(#cg18)"/>
<ellipse cx="36.3" cy="276.5" rx="1.3" ry="0.5720000000000001" fill="#8a6a30" stroke="#4a3a10" stroke-width="0.3"/>
<ellipse cx="36.3" cy="278.5" rx="1.3" ry="0.5720000000000001" fill="#4a3a10"/>
<text x="112" y="215.5" font-size="7.5" fill="#111" text-anchor="start" font-weight="bold" font-family="Liberation Serif" >(e4)</text>
<text x="137.5" y="218.5" font-size="4.3" fill="#111" text-anchor="start" font-weight="normal" font-family="Liberation Sans" >c(O<tspan font-size='70%' dy='0.8'>2</tspan><tspan dy='-0.8'>​</tspan>) = 100 ppm</text>
<rect x="145" y="218.5" width="12" height="71" fill="#d8f8f8" opacity="0.8"/>
<path d="M150 270 L187 263.8 L187 285 L160 289 L150 285 Z" fill="#c8f6f6" opacity="0.85"/>
<g stroke="#bcbcbc" stroke-width="0.4" fill="none"><line x1="115.8" y1="277.0" x2="145.3" y2="270.5"/><line x1="115.8" y1="268.9" x2="145.3" y2="263.1"/><line x1="115.8" y1="260.7" x2="145.3" y2="255.6"/><line x1="115.8" y1="252.6" x2="145.3" y2="248.2"/><line x1="115.8" y1="244.4" x2="145.3" y2="240.8"/><line x1="115.8" y1="236.3" x2="145.3" y2="233.4"/><line x1="115.8" y1="228.1" x2="145.3" y2="225.9"/><line x1="115.8" y1="220.0" x2="145.3" y2="218.5"/><line x1="115.8" y1="277.0" x2="115.8" y2="220.0"/><line x1="123.2" y1="275.4" x2="123.2" y2="219.6"/><line x1="130.6" y1="273.8" x2="130.6" y2="219.2"/><line x1="137.9" y1="272.1" x2="137.9" y2="218.9"/><line x1="145.3" y1="270.5" x2="145.3" y2="218.5"/><line x1="145.3" y1="270.5" x2="187.3" y2="280.5"/><line x1="145.3" y1="263.1" x2="187.3" y2="272.8"/><line x1="145.3" y1="255.6" x2="187.3" y2="265.2"/><line x1="145.3" y1="248.2" x2="187.3" y2="257.5"/><line x1="145.3" y1="240.8" x2="187.3" y2="249.8"/><line x1="145.3" y1="233.4" x2="187.3" y2="242.1"/><line x1="145.3" y1="225.9" x2="187.3" y2="234.5"/><line x1="145.3" y1="218.5" x2="187.3" y2="226.8"/><line x1="145.3" y1="270.5" x2="145.3" y2="218.5"/><line x1="152.3" y1="272.2" x2="152.3" y2="219.9"/><line x1="159.3" y1="273.8" x2="159.3" y2="221.3"/><line x1="166.3" y1="275.5" x2="166.3" y2="222.7"/><line x1="173.3" y1="277.2" x2="173.3" y2="224.0"/><line x1="180.3" y1="278.8" x2="180.3" y2="225.4"/><line x1="187.3" y1="280.5" x2="187.3" y2="226.8"/><line x1="115.8" y1="277.0" x2="152.0" y2="299.0"/><line x1="123.2" y1="275.4" x2="160.8" y2="294.4"/><line x1="130.6" y1="273.8" x2="169.7" y2="289.8"/><line x1="137.9" y1="272.1" x2="178.5" y2="285.1"/><line x1="145.3" y1="270.5" x2="187.3" y2="280.5"/><line x1="145.3" y1="270.5" x2="115.8" y2="277.0"/><line x1="152.3" y1="272.2" x2="121.8" y2="280.7"/><line x1="159.3" y1="273.8" x2="127.9" y2="284.3"/><line x1="166.3" y1="275.5" x2="133.9" y2="288.0"/><line x1="173.3" y1="277.2" x2="139.9" y2="291.7"/><line x1="180.3" y1="278.8" x2="146.0" y2="295.3"/><line x1="187.3" y1="280.5" x2="152.0" y2="299.0"/></g>
<path d="M115.8,220 L115.8,277 L152,299 L187.3,280.5" stroke="#777" stroke-width="0.45" fill="none"/>
<text x="114.8" y="278.0" font-size="2.7" fill="#222" text-anchor="end" font-weight="normal" font-family="Liberation Sans" >0</text>
<text x="114.8" y="269.85714285714283" font-size="2.7" fill="#222" text-anchor="end" font-weight="normal" font-family="Liberation Sans" >1000</text>
<text x="114.8" y="261.7142857142857" font-size="2.7" fill="#222" text-anchor="end" font-weight="normal" font-family="Liberation Sans" >2000</text>
<text x="114.8" y="253.57142857142858" font-size="2.7" fill="#222" text-anchor="end" font-weight="normal" font-family="Liberation Sans" >3000</text>
<text x="114.8" y="245.42857142857144" font-size="2.7" fill="#222" text-anchor="end" font-weight="normal" font-family="Liberation Sans" >4000</text>
<text x="114.8" y="237.28571428571428" font-size="2.7" fill="#222" text-anchor="end" font-weight="normal" font-family="Liberation Sans" >5000</text>
<text x="114.8" y="229.14285714285714" font-size="2.7" fill="#222" text-anchor="end" font-weight="normal" font-family="Liberation Sans" >6000</text>
<text x="114.8" y="221.0" font-size="2.7" fill="#222" text-anchor="end" font-weight="normal" font-family="Liberation Sans" >7000</text>
<text x="0" y="0" font-size="2.8" fill="#444" font-family="Liberation Sans" text-anchor="middle" transform="translate(108,250) rotate(-90)">Corrosion rate (μm/y)</text>
<line x1="152.0" y1="299.0" x2="157.0" y2="302.5" stroke="#777" stroke-width="0.55" />
<line x1="157.88333333333333" y1="295.9166666666667" x2="162.88333333333333" y2="299.4166666666667" stroke="#777" stroke-width="0.55" />
<line x1="163.76666666666668" y1="292.8333333333333" x2="168.76666666666668" y2="296.3333333333333" stroke="#777" stroke-width="0.55" />
<line x1="169.65" y1="289.75" x2="174.65" y2="293.25" stroke="#777" stroke-width="0.55" />
<line x1="175.53333333333333" y1="286.6666666666667" x2="180.53333333333333" y2="290.1666666666667" stroke="#777" stroke-width="0.55" />
<line x1="181.41666666666669" y1="283.5833333333333" x2="186.41666666666669" y2="287.0833333333333" stroke="#777" stroke-width="0.55" />
<line x1="187.3" y1="280.5" x2="192.3" y2="284.0" stroke="#777" stroke-width="0.55" />
<line x1="115.8" y1="277.0" x2="112.8" y2="279.5" stroke="#777" stroke-width="0.55" />
<line x1="123.03999999999999" y1="281.4" x2="120.03999999999999" y2="283.9" stroke="#777" stroke-width="0.55" />
<line x1="130.28" y1="285.8" x2="127.28" y2="288.3" stroke="#777" stroke-width="0.55" />
<line x1="137.52" y1="290.2" x2="134.52" y2="292.7" stroke="#777" stroke-width="0.55" />
<line x1="144.76" y1="294.6" x2="141.76" y2="297.1" stroke="#777" stroke-width="0.55" />
<line x1="152.0" y1="299.0" x2="149.0" y2="301.5" stroke="#777" stroke-width="0.55" />
<rect x="130.2" y="235.2" width="4.4" height="47.0" fill="url(#cg19)"/>
<ellipse cx="132.39999999999998" cy="235.2" rx="2.2" ry="0.9680000000000001" fill="#3a7218" stroke="#1a4008" stroke-width="0.3"/>
<ellipse cx="132.39999999999998" cy="282.2" rx="2.2" ry="0.9680000000000001" fill="#1a4008"/>
<rect x="150.4" y="223.5" width="4.3" height="54.39999999999998" fill="url(#cg20)"/>
<ellipse cx="152.55" cy="223.5" rx="2.15" ry="0.946" fill="#3a7218" stroke="#1a4008" stroke-width="0.3"/>
<ellipse cx="152.55" cy="277.9" rx="2.15" ry="0.946" fill="#1a4008"/>
<rect x="137" y="268" width="2" height="6.5" fill="url(#cg21)"/>
<ellipse cx="138.0" cy="268" rx="1.0" ry="0.44" fill="#c09020" stroke="#6a5010" stroke-width="0.3"/>
<ellipse cx="138.0" cy="274.5" rx="1.0" ry="0.44" fill="#6a5010"/>
<rect x="139.5" y="266.5" width="2" height="6.0" fill="url(#cg22)"/>
<ellipse cx="140.5" cy="266.5" rx="1.0" ry="0.44" fill="#c09020" stroke="#6a5010" stroke-width="0.3"/>
<ellipse cx="140.5" cy="272.5" rx="1.0" ry="0.44" fill="#6a5010"/>
<rect x="160.4" y="286.5" width="2.2" height="2.5" fill="url(#cg23)"/>
<ellipse cx="161.5" cy="286.5" rx="1.1" ry="0.48400000000000004" fill="#88b8f0" stroke="#4070b0" stroke-width="0.3"/>
<ellipse cx="161.5" cy="289" rx="1.1" ry="0.48400000000000004" fill="#4070b0"/>
<rect x="164" y="285" width="2.2" height="3" fill="url(#cg24)"/>
<ellipse cx="165.1" cy="285" rx="1.1" ry="0.48400000000000004" fill="#88b8f0" stroke="#4070b0" stroke-width="0.3"/>
<ellipse cx="165.1" cy="288" rx="1.1" ry="0.48400000000000004" fill="#4070b0"/>
<rect x="167.5" y="284" width="2.2" height="3" fill="url(#cg25)"/>
<ellipse cx="168.6" cy="284" rx="1.1" ry="0.48400000000000004" fill="#88b8f0" stroke="#4070b0" stroke-width="0.3"/>
<ellipse cx="168.6" cy="287" rx="1.1" ry="0.48400000000000004" fill="#4070b0"/>
<rect x="174" y="277" width="2.2" height="7" fill="url(#cg26)"/>
<ellipse cx="175.1" cy="277" rx="1.1" ry="0.48400000000000004" fill="#88b8f0" stroke="#4070b0" stroke-width="0.3"/>
<ellipse cx="175.1" cy="284" rx="1.1" ry="0.48400000000000004" fill="#4070b0"/>
<rect x="177.5" y="273" width="2.2" height="9" fill="url(#cg27)"/>
<ellipse cx="178.6" cy="273" rx="1.1" ry="0.48400000000000004" fill="#88b8f0" stroke="#4070b0" stroke-width="0.3"/>
<ellipse cx="178.6" cy="282" rx="1.1" ry="0.48400000000000004" fill="#4070b0"/>
<rect x="180" y="270.5" width="2.2" height="10.5" fill="url(#cg28)"/>
<ellipse cx="181.1" cy="270.5" rx="1.1" ry="0.48400000000000004" fill="#88b8f0" stroke="#4070b0" stroke-width="0.3"/>
<ellipse cx="181.1" cy="281" rx="1.1" ry="0.48400000000000004" fill="#4070b0"/>
<rect x="147.5" y="289.5" width="2" height="2.0" fill="url(#cg29)"/>
<ellipse cx="148.5" cy="289.5" rx="1.0" ry="0.44" fill="#4070c0" stroke="#203060" stroke-width="0.3"/>
<ellipse cx="148.5" cy="291.5" rx="1.0" ry="0.44" fill="#203060"/>
<rect x="193" y="257" width="29.6" height="5.7" fill="#c8f6f6" />
<rect x="194.8" y="215.7" width="3.8" height="3.5" fill="#5c4a1e" />
<text x="201.3" y="218.89999999999998" font-size="4.1" fill="#1a1a1a" text-anchor="start" font-weight="normal" font-family="Liberation Sans" textLength="19.2" lengthAdjust="spacingAndGlyphs">X65 50 °C</text>
<rect x="194.8" y="221.86999999999998" width="3.8" height="3.5" fill="#a89a2a" />
<text x="201.3" y="225.06999999999996" font-size="4.1" fill="#1a1a1a" text-anchor="start" font-weight="normal" font-family="Liberation Sans" textLength="19.2" lengthAdjust="spacingAndGlyphs">X65 50 °C</text>
<rect x="194.8" y="228.04" width="3.8" height="3.5" fill="#0000cc" />
<text x="201.3" y="231.23999999999998" font-size="4.1" fill="#1a1a1a" text-anchor="start" font-weight="normal" font-family="Liberation Sans" textLength="19.2" lengthAdjust="spacingAndGlyphs">X65 20 °C</text>
<rect x="194.8" y="234.20999999999998" width="3.8" height="3.5" fill="#9a40d8" />
<text x="201.3" y="237.40999999999997" font-size="4.1" fill="#1a1a1a" text-anchor="start" font-weight="normal" font-family="Liberation Sans" textLength="19.2" lengthAdjust="spacingAndGlyphs">X65 25°C</text>
<rect x="194.8" y="240.38" width="3.8" height="3.5" fill="#eeff44" />
<text x="201.3" y="243.57999999999998" font-size="4.1" fill="#1a1a1a" text-anchor="start" font-weight="normal" font-family="Liberation Sans" textLength="19.2" lengthAdjust="spacingAndGlyphs">X65 35 °C</text>
<rect x="194.8" y="246.54999999999998" width="3.8" height="3.5" fill="#4a3a1a" />
<text x="201.3" y="249.74999999999997" font-size="4.1" fill="#1a1a1a" text-anchor="start" font-weight="normal" font-family="Liberation Sans" textLength="19.2" lengthAdjust="spacingAndGlyphs">X65 50 °C</text>
<rect x="194.8" y="252.71999999999997" width="3.8" height="3.5" fill="#b8962a" />
<text x="201.3" y="255.91999999999996" font-size="4.1" fill="#1a1a1a" text-anchor="start" font-weight="normal" font-family="Liberation Sans" textLength="36" lengthAdjust="spacingAndGlyphs">X60,65,70,80 50 °</text>
<rect x="194.8" y="258.89" width="3.8" height="3.5" fill="#88bbee" />
<text x="201.3" y="262.09" font-size="4.1" fill="#1a1a1a" text-anchor="start" font-weight="normal" font-family="Liberation Sans" textLength="19.2" lengthAdjust="spacingAndGlyphs">X70 50 °C</text>
<rect x="286" y="107.5" width="109.5" height="77.5" fill="url(#fbg)" stroke="#555" stroke-width="0.5"/>
<line x1="286" y1="107.5" x2="287.5" y2="107.5" stroke="#444" stroke-width="0.5" />
<text x="284" y="108.9" font-size="4.0" fill="#111" text-anchor="end" font-weight="normal" font-family="Liberation Sans" >700</text>
<line x1="286" y1="118.57142857142857" x2="287.5" y2="118.57142857142857" stroke="#444" stroke-width="0.5" />
<text x="284" y="119.97142857142858" font-size="4.0" fill="#111" text-anchor="end" font-weight="normal" font-family="Liberation Sans" >600</text>
<line x1="286" y1="129.64285714285714" x2="287.5" y2="129.64285714285714" stroke="#444" stroke-width="0.5" />
<text x="284" y="131.04285714285714" font-size="4.0" fill="#111" text-anchor="end" font-weight="normal" font-family="Liberation Sans" >500</text>
<line x1="286" y1="140.71428571428572" x2="287.5" y2="140.71428571428572" stroke="#444" stroke-width="0.5" />
<text x="284" y="142.11428571428573" font-size="4.0" fill="#111" text-anchor="end" font-weight="normal" font-family="Liberation Sans" >400</text>
<line x1="286" y1="151.78571428571428" x2="287.5" y2="151.78571428571428" stroke="#444" stroke-width="0.5" />
<text x="284" y="153.18571428571428" font-size="4.0" fill="#111" text-anchor="end" font-weight="normal" font-family="Liberation Sans" >300</text>
<line x1="286" y1="162.85714285714286" x2="287.5" y2="162.85714285714286" stroke="#444" stroke-width="0.5" />
<text x="284" y="164.25714285714287" font-size="4.0" fill="#111" text-anchor="end" font-weight="normal" font-family="Liberation Sans" >200</text>
<line x1="286" y1="173.92857142857144" x2="287.5" y2="173.92857142857144" stroke="#444" stroke-width="0.5" />
<text x="284" y="175.32857142857145" font-size="4.0" fill="#111" text-anchor="end" font-weight="normal" font-family="Liberation Sans" >100</text>
<line x1="286" y1="185.0" x2="287.5" y2="185.0" stroke="#444" stroke-width="0.5" />
<text x="284" y="186.4" font-size="4.0" fill="#111" text-anchor="end" font-weight="normal" font-family="Liberation Sans" >0</text>
<text x="0" y="0" font-size="4.3" fill="#222" font-family="Liberation Sans" text-anchor="middle" transform="translate(274.3,150) rotate(-90)">Corrosion rate (μm/y)</text>
<rect x="296.5" y="181.7" width="8.5" height="3.3" fill="#c8a0b8" stroke="#a08090" stroke-width="0.4" opacity="0.92"/>
<line x1="300.75" y1="181.0142857142857" x2="300.75" y2="182.34285714285713" stroke="#333" stroke-width="0.4" />
<line x1="299.55" y1="181.0142857142857" x2="301.95" y2="181.0142857142857" stroke="#333" stroke-width="0.4" />
<line x1="299.55" y1="182.34285714285713" x2="301.95" y2="182.34285714285713" stroke="#333" stroke-width="0.4" />
<rect x="305.0" y="181.7" width="8.5" height="3.3" fill="#8c8cf0" stroke="#6a6ad0" stroke-width="0.4" opacity="0.92"/>
<line x1="309.25" y1="181.125" x2="309.25" y2="182.23214285714283" stroke="#333" stroke-width="0.4" />
<line x1="308.05" y1="181.125" x2="310.45" y2="181.125" stroke="#333" stroke-width="0.4" />
<line x1="308.05" y1="182.23214285714283" x2="310.45" y2="182.23214285714283" stroke="#333" stroke-width="0.4" />
<rect x="313.5" y="180.8" width="8.5" height="4.2" fill="#5a9a80" stroke="#3a7a60" stroke-width="0.4" opacity="0.92"/>
<line x1="317.75" y1="180.12857142857143" x2="317.75" y2="181.45714285714286" stroke="#333" stroke-width="0.4" />
<line x1="316.55" y1="180.12857142857143" x2="318.95" y2="180.12857142857143" stroke="#333" stroke-width="0.4" />
<line x1="316.55" y1="181.45714285714286" x2="318.95" y2="181.45714285714286" stroke="#333" stroke-width="0.4" />
<line x1="309.25" y1="185" x2="309.25" y2="183.5" stroke="#444" stroke-width="0.5" />
<rect x="328.5" y="142.4" width="8.5" height="42.6" fill="#c8a0b8" stroke="#a08090" stroke-width="0.4" opacity="0.92"/>
<line x1="332.75" y1="141.48928571428573" x2="332.75" y2="143.26071428571427" stroke="#333" stroke-width="0.4" />
<line x1="331.55" y1="141.48928571428573" x2="333.95" y2="141.48928571428573" stroke="#333" stroke-width="0.4" />
<line x1="331.55" y1="143.26071428571427" x2="333.95" y2="143.26071428571427" stroke="#333" stroke-width="0.4" />
<rect x="337.0" y="158.4" width="8.5" height="26.6" fill="#8c8cf0" stroke="#6a6ad0" stroke-width="0.4" opacity="0.92"/>
<line x1="341.25" y1="157.54285714285717" x2="341.25" y2="159.31428571428572" stroke="#333" stroke-width="0.4" />
<line x1="340.05" y1="157.54285714285717" x2="342.45" y2="157.54285714285717" stroke="#333" stroke-width="0.4" />
<line x1="340.05" y1="159.31428571428572" x2="342.45" y2="159.31428571428572" stroke="#333" stroke-width="0.4" />
<rect x="345.5" y="160.4" width="8.5" height="24.6" fill="#5a9a80" stroke="#3a7a60" stroke-width="0.4" opacity="0.92"/>
<line x1="349.75" y1="159.75714285714287" x2="349.75" y2="161.0857142857143" stroke="#333" stroke-width="0.4" />
<line x1="348.55" y1="159.75714285714287" x2="350.95" y2="159.75714285714287" stroke="#333" stroke-width="0.4" />
<line x1="348.55" y1="161.0857142857143" x2="350.95" y2="161.0857142857143" stroke="#333" stroke-width="0.4" />
<line x1="341.25" y1="185" x2="341.25" y2="183.5" stroke="#444" stroke-width="0.5" />
<rect x="360.5" y="125.8" width="8.5" height="59.2" fill="#c8a0b8" stroke="#a08090" stroke-width="0.4" opacity="0.92"/>
<line x1="364.75" y1="124.88214285714285" x2="364.75" y2="126.65357142857142" stroke="#333" stroke-width="0.4" />
<line x1="363.55" y1="124.88214285714285" x2="365.95" y2="124.88214285714285" stroke="#333" stroke-width="0.4" />
<line x1="363.55" y1="126.65357142857142" x2="365.95" y2="126.65357142857142" stroke="#333" stroke-width="0.4" />
<rect x="369.0" y="118.0" width="8.5" height="67.0" fill="#8c8cf0" stroke="#6a6ad0" stroke-width="0.4" opacity="0.92"/>
<line x1="373.25" y1="116.68928571428572" x2="373.25" y2="119.34642857142856" stroke="#333" stroke-width="0.4" />
<line x1="372.05" y1="116.68928571428572" x2="374.45" y2="116.68928571428572" stroke="#333" stroke-width="0.4" />
<line x1="372.05" y1="119.34642857142856" x2="374.45" y2="119.34642857142856" stroke="#333" stroke-width="0.4" />
<rect x="377.5" y="116.9" width="8.5" height="68.1" fill="#5a9a80" stroke="#3a7a60" stroke-width="0.4" opacity="0.92"/>
<line x1="381.75" y1="115.80357142857143" x2="381.75" y2="118.01785714285715" stroke="#333" stroke-width="0.4" />
<line x1="380.55" y1="115.80357142857143" x2="382.95" y2="115.80357142857143" stroke="#333" stroke-width="0.4" />
<line x1="380.55" y1="118.01785714285715" x2="382.95" y2="118.01785714285715" stroke="#333" stroke-width="0.4" />
<line x1="373.25" y1="185" x2="373.25" y2="183.5" stroke="#444" stroke-width="0.5" />
<text x="309.2" y="187.8" font-size="3.2" fill="#111" text-anchor="middle" font-weight="normal" font-family="Liberation Sans" >Test #1</text>
<text x="307.7" y="193.0" font-size="3.1" fill="#111" text-anchor="middle" font-weight="normal" font-family="Liberation Sans" >0.5 % O<tspan font-size='70%' dy='0.8'>2</tspan><tspan dy='-0.8'>​</tspan></text>
<text x="309.2" y="199.0" font-size="3.2" fill="#111" text-anchor="middle" font-weight="normal" font-family="Liberation Sans" >100 ppm</text>
<text x="341.2" y="187.8" font-size="3.2" fill="#111" text-anchor="middle" font-weight="normal" font-family="Liberation Sans" >Test #2</text>
<text x="339.7" y="193.0" font-size="3.1" fill="#111" text-anchor="middle" font-weight="normal" font-family="Liberation Sans" >0.5 % O<tspan font-size='70%' dy='0.8'>2</tspan><tspan dy='-0.8'>​</tspan>+100 ppm SO<tspan font-size='70%' dy='0.8'>2</tspan><tspan dy='-0.8'>​</tspan></text>
<text x="341.2" y="199.0" font-size="3.2" fill="#111" text-anchor="middle" font-weight="normal" font-family="Liberation Sans" >sulfo</text>
<text x="373.2" y="187.8" font-size="3.2" fill="#111" text-anchor="middle" font-weight="normal" font-family="Liberation Sans" >Test #3</text>
<text x="371.7" y="193.0" font-size="3.1" fill="#111" text-anchor="middle" font-weight="normal" font-family="Liberation Sans" >0.5 % O<tspan font-size='70%' dy='0.8'>2</tspan><tspan dy='-0.8'>​</tspan>+100 ppm SO<tspan font-size='70%' dy='0.8'>2</tspan><tspan dy='-0.8'>​</tspan></text>
<text x="373.2" y="199.0" font-size="3.2" fill="#111" text-anchor="middle" font-weight="normal" font-family="Liberation Sans" >100 ppm</text>
<rect x="298" y="112.6" width="8.7" height="4.3" fill="#c8a0b8" stroke="#a08090" stroke-width="0.4"/>
<text x="308.5" y="116.0" font-size="3.5" fill="#111" text-anchor="start" font-weight="normal" font-family="Liberation Sans" >X65</text>
<rect x="298" y="117.5" width="8.7" height="4.3" fill="#8c8cf0" stroke="#6a6ad0" stroke-width="0.4"/>
<text x="308.5" y="120.9" font-size="3.5" fill="#111" text-anchor="start" font-weight="normal" font-family="Liberation Sans" >X70</text>
<rect x="298" y="122.39999999999999" width="8.7" height="4.3" fill="#5a9a80" stroke="#3a7a60" stroke-width="0.4"/>
<text x="308.5" y="125.8" font-size="3.5" fill="#111" text-anchor="start" font-weight="normal" font-family="Liberation Sans" >X80</text>
<rect x="297" y="128" width="12" height="8" fill="#fff" />
<text x="298.5" y="134.7" font-size="7.5" fill="#111" text-anchor="start" font-weight="bold" font-family="Liberation Serif" >(f)</text>
<rect x="360.3" y="210" width="15.9" height="82.30000000000001" fill="#fbe4fa" />
<rect x="294.5" y="287" width="25" height="10" fill="#fcdcea" />
<rect x="276.3" y="209.6" width="100.0" height="82.70000000000002" fill="none" stroke="#555" stroke-width="0.5"/>
<line x1="276.3" y1="209.6" x2="277.8" y2="209.6" stroke="#444" stroke-width="0.5" />
<text x="274.3" y="211.0" font-size="4.0" fill="#111" text-anchor="end" font-weight="normal" font-family="Liberation Sans" >1.0</text>
<line x1="276.3" y1="226.14" x2="277.8" y2="226.14" stroke="#444" stroke-width="0.5" />
<text x="274.3" y="227.54" font-size="4.0" fill="#111" text-anchor="end" font-weight="normal" font-family="Liberation Sans" >0.8</text>
<line x1="276.3" y1="242.68" x2="277.8" y2="242.68" stroke="#444" stroke-width="0.5" />
<text x="274.3" y="244.08" font-size="4.0" fill="#111" text-anchor="end" font-weight="normal" font-family="Liberation Sans" >0.6</text>
<line x1="276.3" y1="259.22" x2="277.8" y2="259.22" stroke="#444" stroke-width="0.5" />
<text x="274.3" y="260.62" font-size="4.0" fill="#111" text-anchor="end" font-weight="normal" font-family="Liberation Sans" >0.4</text>
<line x1="276.3" y1="275.76" x2="277.8" y2="275.76" stroke="#444" stroke-width="0.5" />
<text x="274.3" y="277.15999999999997" font-size="4.0" fill="#111" text-anchor="end" font-weight="normal" font-family="Liberation Sans" >0.2</text>
<line x1="276.3" y1="292.3" x2="277.8" y2="292.3" stroke="#444" stroke-width="0.5" />
<text x="274.3" y="293.7" font-size="4.0" fill="#111" text-anchor="end" font-weight="normal" font-family="Liberation Sans" >0.0</text>
<text x="0" y="0" font-size="3.8" fill="#111" font-family="Liberation Sans" text-anchor="middle" transform="translate(264,246) rotate(-90)">Corrosion rate (mm/y)</text>
<rect x="276.9" y="291.8" width="12.9" height="0.5" fill="#6a6a6a" stroke="#333" stroke-width="0.4"/>
<line x1="283.34999999999997" y1="290.60380000000004" x2="283.34999999999997" y2="293.0038" stroke="#222" stroke-width="0.4" />
<circle cx="283.34999999999997" cy="291.8" r="0.6" fill="#222"/>
<text x="283" y="289.8" font-size="3.7" fill="#111" text-anchor="middle" font-weight="normal" font-family="Liberation Sans" >0.014</text>
<rect x="295.9" y="290.1" width="10.7" height="2.2" fill="#c06848" stroke="#a04830" stroke-width="0.4"/>
<line x1="301.25" y1="288.86710000000005" x2="301.25" y2="291.2671" stroke="#222" stroke-width="0.4" />
<circle cx="301.25" cy="290.1" r="0.6" fill="#222"/>
<text x="301.25" y="287.8" font-size="3.7" fill="#111" text-anchor="middle" font-weight="normal" font-family="Liberation Sans" >0.027</text>
<rect x="306.6" y="290.0" width="10.7" height="2.3" fill="#c06848" stroke="#a04830" stroke-width="0.4"/>
<line x1="311.95000000000005" y1="288.7844" x2="311.95000000000005" y2="291.1844" stroke="#222" stroke-width="0.4" />
<circle cx="311.95000000000005" cy="290.0" r="0.6" fill="#222"/>
<text x="311.95000000000005" y="287.8" font-size="3.7" fill="#111" text-anchor="middle" font-weight="normal" font-family="Liberation Sans" >0.028</text>
<rect x="324.4" y="270.1" width="10.6" height="22.2" fill="#5050e8" stroke="#3030b0" stroke-width="0.4"/>
<line x1="329.7" y1="268.8537" x2="329.7" y2="271.2537" stroke="#222" stroke-width="0.4" />
<circle cx="329.7" cy="270.1" r="0.6" fill="#222"/>
<text x="329.7" y="267.5537" font-size="3.7" fill="#111" text-anchor="middle" font-weight="normal" font-family="Liberation Sans" >0.269</text>
<rect x="335" y="263.8" width="10.5" height="28.5" fill="#5050e8" stroke="#3030b0" stroke-width="0.4"/>
<line x1="340.25" y1="262.56850000000003" x2="340.25" y2="264.9685" stroke="#222" stroke-width="0.4" />
<circle cx="340.25" cy="263.8" r="0.6" fill="#222"/>
<text x="340.25" y="261.2685" font-size="3.7" fill="#111" text-anchor="middle" font-weight="normal" font-family="Liberation Sans" >0.345</text>
<rect x="345.5" y="257.3" width="11.1" height="35.0" fill="#5050e8" stroke="#3030b0" stroke-width="0.4"/>
<line x1="351.05" y1="256.1179" x2="351.05" y2="258.5179" stroke="#222" stroke-width="0.4" />
<circle cx="351.05" cy="257.3" r="0.6" fill="#222"/>
<text x="351.05" y="254.8179" font-size="3.7" fill="#111" text-anchor="middle" font-weight="normal" font-family="Liberation Sans" >0.423</text>
<rect x="363.6" y="223.5" width="10.9" height="68.8" fill="#e898f0" stroke="#c070d0" stroke-width="0.4"/>
<line x1="369.05" y1="222.29360000000003" x2="369.05" y2="224.6936" stroke="#222" stroke-width="0.4" />
<circle cx="369.05" cy="223.5" r="0.6" fill="#222"/>
<text x="369.05" y="220.99360000000001" font-size="3.7" fill="#111" text-anchor="middle" font-weight="normal" font-family="Liberation Sans" >0.842</text>
<text x="283" y="297.4" font-size="3.5" fill="#111" text-anchor="middle" font-weight="normal" font-family="Liberation Sans" >0</text>
<text x="300.8" y="297.4" font-size="3.5" fill="#c04060" text-anchor="middle" font-weight="normal" font-family="Liberation Sans" >1000</text>
<text x="312" y="297.4" font-size="3.5" fill="#c04060" text-anchor="middle" font-weight="normal" font-family="Liberation Sans" >10000</text>
<text x="329.5" y="297.4" font-size="3.5" fill="#111" text-anchor="middle" font-weight="normal" font-family="Liberation Sans" >200</text>
<text x="340" y="297.4" font-size="3.5" fill="#111" text-anchor="middle" font-weight="normal" font-family="Liberation Sans" >600</text>
<text x="351" y="297.4" font-size="3.5" fill="#111" text-anchor="middle" font-weight="normal" font-family="Liberation Sans" >1000</text>
<text x="369" y="297.4" font-size="3.5" fill="#111" text-anchor="middle" font-weight="normal" font-family="Liberation Sans" >1000+1000</text>
<text x="327.5" y="303.6" font-size="3.9" fill="#111" text-anchor="middle" font-weight="normal" font-family="Liberation Sans" >Impurity concentration (ppm)</text>
<rect x="279.5" y="211.6" width="7.7" height="3.6" fill="#9a9a9a" stroke="#666" stroke-width="0.3"/>
<text x="288.6" y="214.79999999999998" font-size="3.7" fill="#111" text-anchor="start" font-weight="normal" font-family="Liberation Sans" >SC CO<tspan font-size='70%' dy='0.8'>2</tspan><tspan dy='-0.8'>​</tspan>-H<tspan font-size='70%' dy='0.8'>2</tspan><tspan dy='-0.8'>​</tspan>O</text>
<rect x="279.5" y="216.6" width="7.7" height="3.6" fill="#e07860" stroke="#b05040" stroke-width="0.3"/>
<text x="288.6" y="219.79999999999998" font-size="3.7" fill="#111" text-anchor="start" font-weight="normal" font-family="Liberation Sans" >SC CO<tspan font-size='70%' dy='0.8'>2</tspan><tspan dy='-0.8'>​</tspan>-H<tspan font-size='70%' dy='0.8'>2</tspan><tspan dy='-0.8'>​</tspan>O-O<tspan font-size='70%' dy='0.8'>2</tspan><tspan dy='-0.8'>​</tspan></text>
<rect x="279.5" y="221.6" width="7.7" height="3.6" fill="#5050e8" stroke="#3030b0" stroke-width="0.3"/>
<text x="288.6" y="224.79999999999998" font-size="3.7" fill="#111" text-anchor="start" font-weight="normal" font-family="Liberation Sans" >SC CO<tspan font-size='70%' dy='0.8'>2</tspan><tspan dy='-0.8'>​</tspan>-H<tspan font-size='70%' dy='0.8'>2</tspan><tspan dy='-0.8'>​</tspan>O-SO<tspan font-size='70%' dy='0.8'>2</tspan><tspan dy='-0.8'>​</tspan></text>
<rect x="279.5" y="226.6" width="7.7" height="3.6" fill="#e0b8f4" stroke="#c090e0" stroke-width="0.3"/>
<text x="288.6" y="229.79999999999998" font-size="3.7" fill="#111" text-anchor="start" font-weight="normal" font-family="Liberation Sans" >SC CO<tspan font-size='70%' dy='0.8'>2</tspan><tspan dy='-0.8'>​</tspan>-H<tspan font-size='70%' dy='0.8'>2</tspan><tspan dy='-0.8'>​</tspan>O-O<tspan font-size='70%' dy='0.8'>2</tspan><tspan dy='-0.8'>​</tspan>-SO<tspan font-size='70%' dy='0.8'>2</tspan><tspan dy='-0.8'>​</tspan></text>
<text x="280" y="244" font-size="7.5" fill="#111" text-anchor="start" font-weight="bold" font-family="Liberation Serif" >(g)</text>
<text x="385.6" y="211" font-size="7.5" fill="#111" text-anchor="start" font-weight="bold" font-family="Liberation Serif" >(h)</text>
<text x="398" y="206.8" font-size="3.9" fill="#111" text-anchor="start" font-weight="bold" font-family="Liberation Sans" >1.1018</text>
<text x="458.5" y="209" font-size="3.9" fill="#111" text-anchor="middle" font-weight="bold" font-family="Liberation Sans" >1.0404</text>
<text x="515" y="209" font-size="3.9" fill="#111" text-anchor="middle" font-weight="bold" font-family="Liberation Sans" >1.0977</text>
<rect x="383.3" y="213" width="6.8" height="86" fill="#fde8f4" />
<rect x="400.6" y="216" width="5.699999999999999" height="84.5" fill="#e4fafa" />
<g clip-path="url(#hcb0)"><rect x="387.8" y="212" width="15.4" height="92" fill="url(#hb0)" filter="url(#wig)"/></g>
<g clip-path="url(#hca0)"><rect x="398.3" y="208" width="25.8" height="100" fill="url(#ha0)" filter="url(#wig2)"/></g>
<rect x="390.8" y="216" width="9.4" height="84.5" fill="none" stroke="#9a9a20" stroke-width="0.4"/>
<rect x="406.3" y="216" width="9.8" height="84.5" fill="none" stroke="#2a8a8a" stroke-width="0.4"/>
<rect x="405.8" y="300" width="10.8" height="3.2" fill="#a8f0f0" />
<text x="395.5" y="299.5" font-size="10.5" fill="#111" text-anchor="middle" font-weight="bold" font-family="Liberation Sans" letter-spacing="-0.6" textLength="9" lengthAdjust="spacingAndGlyphs">15</text>
<text x="411.2" y="299.5" font-size="10.5" fill="#0a2a40" text-anchor="middle" font-weight="bold" font-family="Liberation Sans" letter-spacing="-0.6" textLength="9" lengthAdjust="spacingAndGlyphs">15</text>
<text x="395.5" y="215" font-size="2.6" fill="#111" text-anchor="middle" font-weight="normal" font-family="Liberation Sans" >before</text>
<text x="411.2" y="215" font-size="2.6" fill="#111" text-anchor="middle" font-weight="normal" font-family="Liberation Sans" >after</text>
<line x1="389.5" y1="216" x2="390.8" y2="216" stroke="#999" stroke-width="0.3" />
<text x="389.0" y="216.8" font-size="2.0" fill="#999" text-anchor="end" font-weight="normal" font-family="Liberation Sans" >0</text>
<line x1="389.5" y1="237" x2="390.8" y2="237" stroke="#999" stroke-width="0.3" />
<text x="389.0" y="237.8" font-size="2.0" fill="#999" text-anchor="end" font-weight="normal" font-family="Liberation Sans" >5</text>
<line x1="389.5" y1="258" x2="390.8" y2="258" stroke="#999" stroke-width="0.3" />
<text x="389.0" y="258.8" font-size="2.0" fill="#999" text-anchor="end" font-weight="normal" font-family="Liberation Sans" >10</text>
<line x1="389.5" y1="279" x2="390.8" y2="279" stroke="#999" stroke-width="0.3" />
<text x="389.0" y="279.8" font-size="2.0" fill="#999" text-anchor="end" font-weight="normal" font-family="Liberation Sans" >15</text>
<line x1="389.5" y1="300" x2="390.8" y2="300" stroke="#999" stroke-width="0.3" />
<text x="389.0" y="300.8" font-size="2.0" fill="#999" text-anchor="end" font-weight="normal" font-family="Liberation Sans" >20</text>
<text x="0" y="0" font-size="2.2" fill="#999" font-family="Liberation Sans" text-anchor="middle" transform="translate(385.8,238) rotate(-90)">[mm]</text>
<rect x="418.8" y="215.4" width="12.6" height="47.5" fill="#c4c4c4" stroke="#8a8a8a" stroke-width="0.35"/>
<rect x="419.8" y="217" width="10.4" height="4.2" fill="#d4d4d4" stroke="#888" stroke-width="0.3"/>
<text x="425.0" y="220" font-size="2.4" fill="#333" text-anchor="middle" font-weight="normal" font-family="Liberation Sans" >[mm]</text>
<rect x="419.3" y="222.3" width="4.4" height="39.7" fill="url(#hcbar0)"/>
<text x="424.4" y="227.0" font-size="2.3" fill="#111" text-anchor="start" font-weight="bold" font-family="Liberation Sans" >0.96</text>
<text x="424.4" y="231.75" font-size="2.3" fill="#111" text-anchor="start" font-weight="bold" font-family="Liberation Sans" >0.93</text>
<text x="424.4" y="236.5" font-size="2.3" fill="#111" text-anchor="start" font-weight="bold" font-family="Liberation Sans" >0.89</text>
<text x="424.4" y="241.25" font-size="2.3" fill="#111" text-anchor="start" font-weight="bold" font-family="Liberation Sans" >0.86</text>
<text x="424.4" y="246.0" font-size="2.3" fill="#111" text-anchor="start" font-weight="bold" font-family="Liberation Sans" >0.83</text>
<text x="424.4" y="250.75" font-size="2.3" fill="#111" text-anchor="start" font-weight="bold" font-family="Liberation Sans" >0.80</text>
<text x="424.4" y="255.5" font-size="2.3" fill="#111" text-anchor="start" font-weight="bold" font-family="Liberation Sans" >0.76</text>
<text x="424.4" y="260.25" font-size="2.3" fill="#111" text-anchor="start" font-weight="bold" font-family="Liberation Sans" >0.73</text>
<rect x="439.0" y="213" width="6.8" height="86" fill="#fde8f4" />
<rect x="456.3" y="216" width="5.699999999999999" height="84.5" fill="#e4fafa" />
<g clip-path="url(#hcb1)"><rect x="443.5" y="212" width="15.4" height="92" fill="url(#hb1)" filter="url(#wig)"/></g>
<g clip-path="url(#hca1)"><rect x="454.0" y="208" width="25.8" height="100" fill="url(#ha1)" filter="url(#wig2)"/></g>
<rect x="446.5" y="216" width="9.4" height="84.5" fill="none" stroke="#9a9a20" stroke-width="0.4"/>
<rect x="462.0" y="216" width="9.8" height="84.5" fill="none" stroke="#2a8a8a" stroke-width="0.4"/>
<rect x="461.5" y="300" width="10.8" height="3.2" fill="#a8f0f0" />
<text x="451.2" y="299.5" font-size="10.5" fill="#111" text-anchor="middle" font-weight="bold" font-family="Liberation Sans" letter-spacing="-0.6" textLength="9" lengthAdjust="spacingAndGlyphs">15</text>
<text x="466.9" y="299.5" font-size="10.5" fill="#0a2a40" text-anchor="middle" font-weight="bold" font-family="Liberation Sans" letter-spacing="-0.6" textLength="9" lengthAdjust="spacingAndGlyphs">15</text>
<text x="451.2" y="215" font-size="2.6" fill="#111" text-anchor="middle" font-weight="normal" font-family="Liberation Sans" >before</text>
<text x="466.9" y="215" font-size="2.6" fill="#111" text-anchor="middle" font-weight="normal" font-family="Liberation Sans" >after</text>
<line x1="445.2" y1="216" x2="446.5" y2="216" stroke="#999" stroke-width="0.3" />
<text x="444.7" y="216.8" font-size="2.0" fill="#999" text-anchor="end" font-weight="normal" font-family="Liberation Sans" >0</text>
<line x1="445.2" y1="237" x2="446.5" y2="237" stroke="#999" stroke-width="0.3" />
<text x="444.7" y="237.8" font-size="2.0" fill="#999" text-anchor="end" font-weight="normal" font-family="Liberation Sans" >5</text>
<line x1="445.2" y1="258" x2="446.5" y2="258" stroke="#999" stroke-width="0.3" />
<text x="444.7" y="258.8" font-size="2.0" fill="#999" text-anchor="end" font-weight="normal" font-family="Liberation Sans" >10</text>
<line x1="445.2" y1="279" x2="446.5" y2="279" stroke="#999" stroke-width="0.3" />
<text x="444.7" y="279.8" font-size="2.0" fill="#999" text-anchor="end" font-weight="normal" font-family="Liberation Sans" >15</text>
<line x1="445.2" y1="300" x2="446.5" y2="300" stroke="#999" stroke-width="0.3" />
<text x="444.7" y="300.8" font-size="2.0" fill="#999" text-anchor="end" font-weight="normal" font-family="Liberation Sans" >20</text>
<text x="0" y="0" font-size="2.2" fill="#999" font-family="Liberation Sans" text-anchor="middle" transform="translate(441.5,238) rotate(-90)">[mm]</text>
<rect x="474.3" y="215.4" width="12.6" height="47.5" fill="#c4c4c4" stroke="#8a8a8a" stroke-width="0.35"/>
<rect x="475.3" y="217" width="10.4" height="4.2" fill="#d4d4d4" stroke="#888" stroke-width="0.3"/>
<text x="480.5" y="220" font-size="2.4" fill="#333" text-anchor="middle" font-weight="normal" font-family="Liberation Sans" >[mm]</text>
<rect x="474.8" y="222.3" width="4.4" height="39.7" fill="url(#hcbar1)"/>
<text x="479.9" y="227.0" font-size="2.3" fill="#111" text-anchor="start" font-weight="bold" font-family="Liberation Sans" >0.880</text>
<text x="479.9" y="231.75" font-size="2.3" fill="#111" text-anchor="start" font-weight="bold" font-family="Liberation Sans" >0.860</text>
<text x="479.9" y="236.5" font-size="2.3" fill="#111" text-anchor="start" font-weight="bold" font-family="Liberation Sans" >0.840</text>
<text x="479.9" y="241.25" font-size="2.3" fill="#111" text-anchor="start" font-weight="bold" font-family="Liberation Sans" >0.820</text>
<text x="479.9" y="246.0" font-size="2.3" fill="#111" text-anchor="start" font-weight="bold" font-family="Liberation Sans" >0.800</text>
<text x="479.9" y="250.75" font-size="2.3" fill="#111" text-anchor="start" font-weight="bold" font-family="Liberation Sans" >0.780</text>
<text x="479.9" y="255.5" font-size="2.3" fill="#111" text-anchor="start" font-weight="bold" font-family="Liberation Sans" >0.760</text>
<text x="479.9" y="260.25" font-size="2.3" fill="#111" text-anchor="start" font-weight="bold" font-family="Liberation Sans" >0.740</text>
<rect x="494.5" y="213" width="6.8" height="86" fill="#fde8f4" />
<rect x="511.8" y="216" width="6.400000000000045" height="84.5" fill="#e4fafa" />
<g clip-path="url(#hcb2)"><rect x="499.0" y="212" width="15.4" height="92" fill="url(#hb2)" filter="url(#wig)"/></g>
<g clip-path="url(#hca2)"><rect x="510.20000000000005" y="208" width="25.8" height="100" fill="url(#ha2)" filter="url(#wig2)"/></g>
<rect x="502.0" y="216" width="9.4" height="84.5" fill="none" stroke="#9a9a20" stroke-width="0.4"/>
<rect x="518.2" y="216" width="9.8" height="84.5" fill="none" stroke="#2a8a8a" stroke-width="0.4"/>
<rect x="517.7" y="300" width="10.8" height="3.2" fill="#a8f0f0" />
<text x="506.7" y="299.5" font-size="10.5" fill="#111" text-anchor="middle" font-weight="bold" font-family="Liberation Sans" letter-spacing="-0.6" textLength="9" lengthAdjust="spacingAndGlyphs">15</text>
<text x="523.1" y="299.5" font-size="10.5" fill="#0a2a40" text-anchor="middle" font-weight="bold" font-family="Liberation Sans" letter-spacing="-0.6" textLength="9" lengthAdjust="spacingAndGlyphs">15</text>
<text x="506.7" y="215" font-size="2.6" fill="#111" text-anchor="middle" font-weight="normal" font-family="Liberation Sans" >before</text>
<text x="523.1" y="215" font-size="2.6" fill="#111" text-anchor="middle" font-weight="normal" font-family="Liberation Sans" >after</text>
<line x1="500.7" y1="216" x2="502.0" y2="216" stroke="#999" stroke-width="0.3" />
<text x="500.2" y="216.8" font-size="2.0" fill="#999" text-anchor="end" font-weight="normal" font-family="Liberation Sans" >0</text>
<line x1="500.7" y1="237" x2="502.0" y2="237" stroke="#999" stroke-width="0.3" />
<text x="500.2" y="237.8" font-size="2.0" fill="#999" text-anchor="end" font-weight="normal" font-family="Liberation Sans" >5</text>
<line x1="500.7" y1="258" x2="502.0" y2="258" stroke="#999" stroke-width="0.3" />
<text x="500.2" y="258.8" font-size="2.0" fill="#999" text-anchor="end" font-weight="normal" font-family="Liberation Sans" >10</text>
<line x1="500.7" y1="279" x2="502.0" y2="279" stroke="#999" stroke-width="0.3" />
<text x="500.2" y="279.8" font-size="2.0" fill="#999" text-anchor="end" font-weight="normal" font-family="Liberation Sans" >15</text>
<line x1="500.7" y1="300" x2="502.0" y2="300" stroke="#999" stroke-width="0.3" />
<text x="500.2" y="300.8" font-size="2.0" fill="#999" text-anchor="end" font-weight="normal" font-family="Liberation Sans" >20</text>
<text x="0" y="0" font-size="2.2" fill="#999" font-family="Liberation Sans" text-anchor="middle" transform="translate(497.0,238) rotate(-90)">[mm]</text>
<rect x="530.6" y="215.4" width="12.6" height="47.5" fill="#c4c4c4" stroke="#8a8a8a" stroke-width="0.35"/>
<rect x="531.6" y="217" width="10.4" height="4.2" fill="#d4d4d4" stroke="#888" stroke-width="0.3"/>
<text x="536.8" y="220" font-size="2.4" fill="#333" text-anchor="middle" font-weight="normal" font-family="Liberation Sans" >[mm]</text>
<rect x="531.1" y="222.3" width="4.4" height="39.7" fill="url(#hcbar2)"/>
<text x="536.2" y="227.0" font-size="2.3" fill="#111" text-anchor="start" font-weight="bold" font-family="Liberation Sans" >0.84</text>
<text x="536.2" y="231.75" font-size="2.3" fill="#111" text-anchor="start" font-weight="bold" font-family="Liberation Sans" >0.82</text>
<text x="536.2" y="236.5" font-size="2.3" fill="#111" text-anchor="start" font-weight="bold" font-family="Liberation Sans" >0.80</text>
<text x="536.2" y="241.25" font-size="2.3" fill="#111" text-anchor="start" font-weight="bold" font-family="Liberation Sans" >0.78</text>
<text x="536.2" y="246.0" font-size="2.3" fill="#111" text-anchor="start" font-weight="bold" font-family="Liberation Sans" >0.76</text>
<text x="536.2" y="250.75" font-size="2.3" fill="#111" text-anchor="start" font-weight="bold" font-family="Liberation Sans" >0.74</text>
<text x="536.2" y="255.5" font-size="2.3" fill="#111" text-anchor="start" font-weight="bold" font-family="Liberation Sans" >0.72</text>
<text x="536.2" y="260.25" font-size="2.3" fill="#111" text-anchor="start" font-weight="bold" font-family="Liberation Sans" >0.70</text>
<path d="M16.4 78.6 Q21 73 27.3 72.3" stroke="#f070d0" stroke-width="0.6" fill="none" opacity="0.8"/>
<path d="M36 62 Q39 57 44 55.5" stroke="#f070d0" stroke-width="0.5" fill="none" opacity="0.6"/>
<rect x="4.5" y="80.5" width="95" height="1.8" fill="#f9c8ec" opacity="0.35"/>
<rect x="4.5" y="83.0" width="57" height="0.8" fill="#70e8e4" opacity="0.35"/>
<path d="M40 57.5 L58 48.5" stroke="#f070d0" stroke-width="0.6" opacity="0.7"/>
<rect x="0" y="128.1" width="140" height="0.8" fill="#f070d0" opacity="0.7"/>
<rect x="5" y="129.2" width="128" height="3.5" fill="#b0f4f2" opacity="0.85"/>
<rect x="5" y="134" width="25" height="2" fill="#b0f4f2" opacity="0.6"/>
<rect x="5" y="137.5" width="6" height="1.2" fill="#f070d0" opacity="0.6"/>
<rect x="5" y="150" width="5" height="1.5" fill="#70e8e4" opacity="0.6"/>
<rect x="35" y="130.5" width="98" height="2.4" fill="#f9c8ec" opacity="0.9"/>
<rect x="100" y="132.3" width="33" height="2.7" fill="#b0f4f2" opacity="0.8"/>
<rect x="100" y="126.8" width="33" height="1.6" fill="#b0f4f2" opacity="0.6"/>
<circle cx="116.8" cy="113.5" r="0.76" fill="#d8f6f6"/><circle cx="117.0" cy="117.9" r="0.62" fill="#c0f2f2"/><circle cx="116.9" cy="116.8" r="0.40" fill="#fce4f2"/><circle cx="111.0" cy="118.6" r="0.58" fill="#d8f6f6"/><circle cx="106.8" cy="113.0" r="0.53" fill="#fce4f2"/><circle cx="111.3" cy="116.6" r="0.42" fill="#fce4f2"/><circle cx="134.5" cy="112.2" r="0.74" fill="#c0f2f2"/><circle cx="109.5" cy="116.8" r="0.59" fill="#fce4f2"/><circle cx="124.4" cy="112.1" r="0.77" fill="#d8f6f6"/><circle cx="130.3" cy="118.5" r="0.51" fill="#d8f6f6"/><circle cx="109.9" cy="112.2" r="0.47" fill="#fce4f2"/><circle cx="139.1" cy="117.6" r="0.56" fill="#c0f2f2"/><circle cx="104.7" cy="112.6" r="0.67" fill="#d8f6f6"/><circle cx="121.7" cy="114.6" r="0.43" fill="#d8f6f6"/><circle cx="103.4" cy="118.2" r="0.57" fill="#c0f2f2"/><circle cx="132.8" cy="115.6" r="0.66" fill="#d8f6f6"/><circle cx="114.2" cy="112.9" r="0.69" fill="#d8f6f6"/><circle cx="131.7" cy="116.5" r="0.79" fill="#d8f6f6"/><circle cx="131.0" cy="117.9" r="0.66" fill="#c0f2f2"/><circle cx="133.0" cy="116.0" r="0.64" fill="#c0f2f2"/><circle cx="104.4" cy="118.2" r="0.57" fill="#d8f6f6"/><circle cx="132.3" cy="116.5" r="0.72" fill="#c0f2f2"/><circle cx="103.7" cy="116.4" r="0.48" fill="#fce4f2"/><circle cx="130.2" cy="113.8" r="0.53" fill="#fce4f2"/><circle cx="140.7" cy="114.5" r="0.70" fill="#c0f2f2"/><circle cx="132.2" cy="113.4" r="0.49" fill="#d8f6f6"/><circle cx="109.9" cy="115.1" r="0.43" fill="#d8f6f6"/><circle cx="110.4" cy="115.7" r="0.60" fill="#d8f6f6"/><circle cx="105.4" cy="114.5" r="0.45" fill="#fce4f2"/><circle cx="143.9" cy="116.0" r="0.48" fill="#fce4f2"/>
<circle cx="266.7" cy="110.9" r="0.8" fill="#f070d0" opacity="0.8"/>
<rect x="255.5" y="120.4" width="24" height="6.9" fill="#b0f4f2" opacity="0.35"/>
<rect x="257" y="120.0" width="22.6" height="0.8" fill="#f070d0" opacity="0.8"/>
<rect x="222" y="88.3" width="4" height="0.8" fill="#70e8e4" opacity="0.8"/>
<rect x="262" y="145" width="16" height="4.8" fill="#b0f4f2" opacity="0.35"/>
<rect x="216" y="152.3" width="62" height="6.5" fill="#f9c8ec" opacity="0.3"/>
<rect x="214.7" y="158.7" width="64" height="1.2" fill="#70e8e4" opacity="0.7"/>
<path d="M260 151.2 Q270 149 276.8 144.5" stroke="#f070d0" stroke-width="0.7" fill="none" opacity="0.85"/>
</svg>
</body></html>
